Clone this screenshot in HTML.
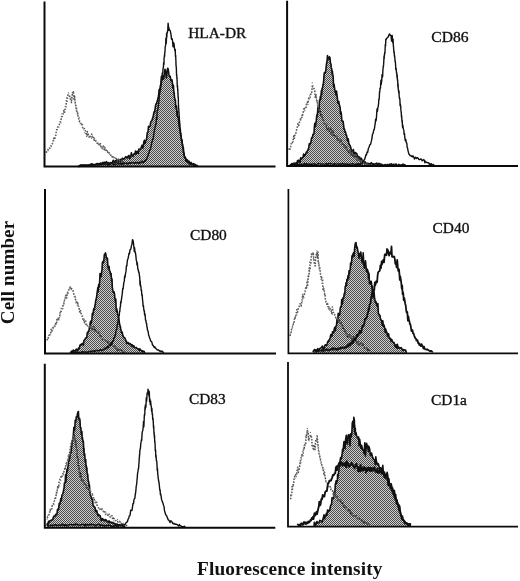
<!DOCTYPE html>
<html><head><meta charset="utf-8"><title>Figure</title>
<style>html,body{margin:0;padding:0;background:#fff}svg{display:block}</style></head>
<body>
<svg width="520" height="581" viewBox="0 0 520 581">
<defs><pattern id="ht" width="2" height="2" patternUnits="userSpaceOnUse"><rect width="2" height="2" fill="#cfcfcf"/><rect width="1" height="1" fill="#4a4a4a"/><rect x="1" y="1" width="1" height="1" fill="#4a4a4a"/></pattern></defs>
<rect width="520" height="581" fill="#fff"/>
<g>
<clipPath id="c4"><path d="M78.0 166.0 L78.3 166.3 L78.7 166.5 L79.1 166.5 L79.6 165.6 L80.1 166.1 L80.7 165.0 L81.3 165.2 L81.9 164.8 L82.6 166.0 L83.2 164.9 L83.9 165.4 L84.6 165.2 L85.3 165.2 L86.0 164.9 L86.7 165.2 L87.3 165.9 L88.0 165.0 L88.6 165.2 L89.1 165.4 L89.7 164.8 L90.3 164.2 L90.9 164.5 L91.5 165.3 L92.1 163.8 L92.7 164.3 L93.3 165.1 L93.9 165.0 L94.5 164.5 L95.1 164.9 L95.7 164.5 L96.3 163.7 L97.0 163.5 L97.6 163.9 L98.2 164.7 L98.8 163.8 L99.4 163.6 L100.0 163.6 L100.6 163.0 L101.2 163.8 L101.8 163.1 L102.4 163.9 L103.0 162.2 L103.6 163.7 L104.2 163.1 L104.8 162.2 L105.3 163.7 L105.9 163.0 L106.5 161.7 L107.1 162.4 L107.7 163.1 L108.3 162.5 L108.9 163.2 L109.5 163.1 L110.1 162.9 L110.8 162.5 L111.4 163.1 L112.0 162.5 L112.6 162.2 L113.2 160.2 L113.8 162.2 L114.4 162.4 L115.0 161.0 L115.6 160.7 L116.2 162.4 L116.8 159.3 L117.4 160.9 L118.1 162.3 L118.7 159.4 L119.3 160.5 L119.9 161.3 L120.5 159.4 L121.1 159.8 L121.7 159.9 L122.3 158.2 L122.9 158.7 L123.4 158.8 L124.0 159.1 L124.5 158.2 L125.0 157.8 L125.7 156.8 L126.4 157.1 L127.1 158.0 L127.8 157.0 L128.4 155.8 L129.1 155.6 L129.7 158.8 L130.3 157.0 L130.8 156.2 L131.4 152.7 L132.0 155.7 L132.5 155.3 L133.0 156.3 L133.5 154.7 L134.0 153.9 L134.8 154.2 L135.5 151.1 L136.1 154.0 L136.7 152.9 L137.2 151.3 L137.8 153.2 L138.3 153.3 L138.9 149.0 L139.5 149.2 L140.1 149.6 L140.8 148.6 L141.4 146.9 L142.1 145.2 L142.7 148.2 L143.3 145.8 L143.9 141.6 L144.5 140.2 L145.0 143.5 L145.7 140.8 L146.3 140.4 L146.8 137.1 L147.3 132.6 L147.9 132.5 L148.5 126.3 L149.0 127.1 L149.6 126.7 L150.1 126.0 L150.7 122.0 L151.3 121.3 L151.9 120.6 L152.4 118.6 L153.0 117.3 L153.5 114.7 L154.0 111.8 L154.6 112.3 L155.1 108.9 L155.6 105.2 L156.1 103.8 L156.6 103.3 L157.1 101.4 L157.5 100.4 L158.0 98.0 L158.4 96.5 L158.8 94.0 L159.1 89.6 L159.4 91.9 L159.7 91.9 L160.0 89.0 L160.4 85.3 L160.8 85.0 L161.1 79.9 L161.5 76.2 L162.2 79.3 L163.0 75.6 L163.6 79.2 L164.3 73.9 L165.0 69.2 L165.7 72.3 L166.4 78.0 L167.0 72.0 L167.7 68.2 L168.3 69.5 L168.9 74.4 L169.5 76.3 L170.2 76.4 L171.0 80.8 L171.5 80.1 L172.0 79.8 L172.5 83.5 L172.7 87.4 L172.9 87.1 L173.2 88.7 L173.4 85.3 L173.7 89.5 L174.0 93.7 L174.2 92.8 L174.5 97.5 L174.8 98.1 L175.1 100.6 L175.4 99.9 L175.7 107.9 L176.1 106.9 L176.4 105.7 L176.7 108.3 L177.0 115.4 L177.3 111.0 L177.5 115.3 L177.8 117.3 L178.1 117.2 L178.4 116.8 L178.6 121.3 L178.9 123.5 L179.2 126.7 L179.5 127.8 L179.7 128.3 L180.0 131.5 L180.3 132.8 L180.6 134.2 L180.9 135.9 L181.2 137.4 L181.6 140.6 L181.9 140.0 L182.2 142.4 L182.5 145.0 L182.7 144.6 L183.0 147.4 L183.4 147.8 L183.6 151.3 L183.9 154.4 L184.1 155.9 L184.5 156.7 L185.0 157.8 L185.5 157.6 L186.0 161.2 L186.6 160.8 L187.2 161.8 L187.9 160.9 L188.6 161.9 L189.3 161.3 L190.0 163.5 L190.6 163.9 L191.2 162.6 L191.9 164.0 L192.6 164.6 L193.3 163.6 L194.0 163.9 L194.6 164.5 L195.2 164.9 L195.6 164.7 L196.0 165.5 L196.0 166.5 L78.0 166.5 Z"/></clipPath>
<path d="M46.0 151.7 L46.5 152.1 L47.2 150.6 L48.0 149.7 L48.6 148.1 L49.2 147.9 L49.9 148.3 L50.5 146.5 L51.1 146.4 L51.6 144.8 L52.2 144.0 L53.0 142.2 L53.6 138.3 L54.3 139.7 L55.0 137.2 L55.8 135.0 L56.6 129.7 L57.3 127.5 L58.0 126.7 L58.8 125.3 L59.5 124.4 L60.2 121.9 L60.9 120.8 L61.6 116.9 L62.4 116.3 L63.1 114.3 L63.9 110.4 L64.6 112.3 L65.3 108.0 L65.9 106.9 L66.4 100.9 L67.0 97.9 L67.5 96.2 L68.0 94.8 L68.5 95.2 L69.2 95.4 L69.8 96.9 L70.4 98.9 L71.0 101.0 L71.5 102.6 L72.0 95.5 L72.4 94.4 L73.0 93.8 L73.4 91.0 L73.8 95.5 L74.2 100.0 L74.6 96.2 L75.1 101.9 L75.5 104.8 L75.9 105.7 L76.3 109.9 L76.9 111.5 L77.4 111.2 L78.0 116.9 L78.6 118.5 L79.2 120.6 L79.8 123.0 L80.5 122.8 L81.2 124.1 L82.0 123.5 L82.6 127.6 L83.2 127.0 L83.9 128.5 L84.5 128.5 L85.2 130.2 L86.0 131.9 L86.7 135.4 L87.4 131.5 L88.1 133.0 L88.8 135.9 L89.6 138.0 L90.3 137.3 L91.0 134.5 L91.7 134.1 L92.4 138.5 L93.1 137.6 L93.8 137.7 L94.4 141.0 L95.1 141.7 L95.7 141.0 L96.3 141.7 L97.0 142.5 L97.7 144.6 L98.4 144.1 L99.1 144.7 L99.8 145.5 L100.5 143.7 L101.2 147.8 L102.0 148.1 L102.6 148.1 L103.2 145.9 L103.9 147.9 L104.5 150.0 L105.1 147.7 L105.8 150.0 L106.5 151.8 L107.2 150.0 L108.0 153.7 L108.7 153.1 L109.3 153.0 L110.0 154.2 L110.8 155.2 L111.5 155.3 L112.3 157.0 L113.0 156.0 L113.8 156.9 L114.5 158.8 L115.3 158.5 L116.0 158.3 L116.8 160.3 L117.6 161.1 L118.4 160.1 L119.2 159.8 L120.1 161.1 L120.9 161.5 L121.7 161.8 L122.4 163.3 L123.0 161.9 L123.6 163.6 L124.0 162.2" clip-path="url(#c4)" fill="none" stroke="#111" stroke-width="1.5" stroke-dasharray="2 1.3" stroke-linejoin="round"/>
<path d="M78.0 166.0 L78.3 166.3 L78.7 166.5 L79.1 166.5 L79.6 165.6 L80.1 166.1 L80.7 165.0 L81.3 165.2 L81.9 164.8 L82.6 166.0 L83.2 164.9 L83.9 165.4 L84.6 165.2 L85.3 165.2 L86.0 164.9 L86.7 165.2 L87.3 165.9 L88.0 165.0 L88.6 165.2 L89.1 165.4 L89.7 164.8 L90.3 164.2 L90.9 164.5 L91.5 165.3 L92.1 163.8 L92.7 164.3 L93.3 165.1 L93.9 165.0 L94.5 164.5 L95.1 164.9 L95.7 164.5 L96.3 163.7 L97.0 163.5 L97.6 163.9 L98.2 164.7 L98.8 163.8 L99.4 163.6 L100.0 163.6 L100.6 163.0 L101.2 163.8 L101.8 163.1 L102.4 163.9 L103.0 162.2 L103.6 163.7 L104.2 163.1 L104.8 162.2 L105.3 163.7 L105.9 163.0 L106.5 161.7 L107.1 162.4 L107.7 163.1 L108.3 162.5 L108.9 163.2 L109.5 163.1 L110.1 162.9 L110.8 162.5 L111.4 163.1 L112.0 162.5 L112.6 162.2 L113.2 160.2 L113.8 162.2 L114.4 162.4 L115.0 161.0 L115.6 160.7 L116.2 162.4 L116.8 159.3 L117.4 160.9 L118.1 162.3 L118.7 159.4 L119.3 160.5 L119.9 161.3 L120.5 159.4 L121.1 159.8 L121.7 159.9 L122.3 158.2 L122.9 158.7 L123.4 158.8 L124.0 159.1 L124.5 158.2 L125.0 157.8 L125.7 156.8 L126.4 157.1 L127.1 158.0 L127.8 157.0 L128.4 155.8 L129.1 155.6 L129.7 158.8 L130.3 157.0 L130.8 156.2 L131.4 152.7 L132.0 155.7 L132.5 155.3 L133.0 156.3 L133.5 154.7 L134.0 153.9 L134.8 154.2 L135.5 151.1 L136.1 154.0 L136.7 152.9 L137.2 151.3 L137.8 153.2 L138.3 153.3 L138.9 149.0 L139.5 149.2 L140.1 149.6 L140.8 148.6 L141.4 146.9 L142.1 145.2 L142.7 148.2 L143.3 145.8 L143.9 141.6 L144.5 140.2 L145.0 143.5 L145.7 140.8 L146.3 140.4 L146.8 137.1 L147.3 132.6 L147.9 132.5 L148.5 126.3 L149.0 127.1 L149.6 126.7 L150.1 126.0 L150.7 122.0 L151.3 121.3 L151.9 120.6 L152.4 118.6 L153.0 117.3 L153.5 114.7 L154.0 111.8 L154.6 112.3 L155.1 108.9 L155.6 105.2 L156.1 103.8 L156.6 103.3 L157.1 101.4 L157.5 100.4 L158.0 98.0 L158.4 96.5 L158.8 94.0 L159.1 89.6 L159.4 91.9 L159.7 91.9 L160.0 89.0 L160.4 85.3 L160.8 85.0 L161.1 79.9 L161.5 76.2 L162.2 79.3 L163.0 75.6 L163.6 79.2 L164.3 73.9 L165.0 69.2 L165.7 72.3 L166.4 78.0 L167.0 72.0 L167.7 68.2 L168.3 69.5 L168.9 74.4 L169.5 76.3 L170.2 76.4 L171.0 80.8 L171.5 80.1 L172.0 79.8 L172.5 83.5 L172.7 87.4 L172.9 87.1 L173.2 88.7 L173.4 85.3 L173.7 89.5 L174.0 93.7 L174.2 92.8 L174.5 97.5 L174.8 98.1 L175.1 100.6 L175.4 99.9 L175.7 107.9 L176.1 106.9 L176.4 105.7 L176.7 108.3 L177.0 115.4 L177.3 111.0 L177.5 115.3 L177.8 117.3 L178.1 117.2 L178.4 116.8 L178.6 121.3 L178.9 123.5 L179.2 126.7 L179.5 127.8 L179.7 128.3 L180.0 131.5 L180.3 132.8 L180.6 134.2 L180.9 135.9 L181.2 137.4 L181.6 140.6 L181.9 140.0 L182.2 142.4 L182.5 145.0 L182.7 144.6 L183.0 147.4 L183.4 147.8 L183.6 151.3 L183.9 154.4 L184.1 155.9 L184.5 156.7 L185.0 157.8 L185.5 157.6 L186.0 161.2 L186.6 160.8 L187.2 161.8 L187.9 160.9 L188.6 161.9 L189.3 161.3 L190.0 163.5 L190.6 163.9 L191.2 162.6 L191.9 164.0 L192.6 164.6 L193.3 163.6 L194.0 163.9 L194.6 164.5 L195.2 164.9 L195.6 164.7 L196.0 165.5 L196.0 166.5 L78.0 166.5 Z" fill="url(#ht)" stroke="none"/>
<path d="M78.0 166.0 L78.3 166.3 L78.7 166.5 L79.1 166.5 L79.6 165.6 L80.1 166.1 L80.7 165.0 L81.3 165.2 L81.9 164.8 L82.6 166.0 L83.2 164.9 L83.9 165.4 L84.6 165.2 L85.3 165.2 L86.0 164.9 L86.7 165.2 L87.3 165.9 L88.0 165.0 L88.6 165.2 L89.1 165.4 L89.7 164.8 L90.3 164.2 L90.9 164.5 L91.5 165.3 L92.1 163.8 L92.7 164.3 L93.3 165.1 L93.9 165.0 L94.5 164.5 L95.1 164.9 L95.7 164.5 L96.3 163.7 L97.0 163.5 L97.6 163.9 L98.2 164.7 L98.8 163.8 L99.4 163.6 L100.0 163.6 L100.6 163.0 L101.2 163.8 L101.8 163.1 L102.4 163.9 L103.0 162.2 L103.6 163.7 L104.2 163.1 L104.8 162.2 L105.3 163.7 L105.9 163.0 L106.5 161.7 L107.1 162.4 L107.7 163.1 L108.3 162.5 L108.9 163.2 L109.5 163.1 L110.1 162.9 L110.8 162.5 L111.4 163.1 L112.0 162.5 L112.6 162.2 L113.2 160.2 L113.8 162.2 L114.4 162.4 L115.0 161.0 L115.6 160.7 L116.2 162.4 L116.8 159.3 L117.4 160.9 L118.1 162.3 L118.7 159.4 L119.3 160.5 L119.9 161.3 L120.5 159.4 L121.1 159.8 L121.7 159.9 L122.3 158.2 L122.9 158.7 L123.4 158.8 L124.0 159.1 L124.5 158.2 L125.0 157.8 L125.7 156.8 L126.4 157.1 L127.1 158.0 L127.8 157.0 L128.4 155.8 L129.1 155.6 L129.7 158.8 L130.3 157.0 L130.8 156.2 L131.4 152.7 L132.0 155.7 L132.5 155.3 L133.0 156.3 L133.5 154.7 L134.0 153.9 L134.8 154.2 L135.5 151.1 L136.1 154.0 L136.7 152.9 L137.2 151.3 L137.8 153.2 L138.3 153.3 L138.9 149.0 L139.5 149.2 L140.1 149.6 L140.8 148.6 L141.4 146.9 L142.1 145.2 L142.7 148.2 L143.3 145.8 L143.9 141.6 L144.5 140.2 L145.0 143.5 L145.7 140.8 L146.3 140.4 L146.8 137.1 L147.3 132.6 L147.9 132.5 L148.5 126.3 L149.0 127.1 L149.6 126.7 L150.1 126.0 L150.7 122.0 L151.3 121.3 L151.9 120.6 L152.4 118.6 L153.0 117.3 L153.5 114.7 L154.0 111.8 L154.6 112.3 L155.1 108.9 L155.6 105.2 L156.1 103.8 L156.6 103.3 L157.1 101.4 L157.5 100.4 L158.0 98.0 L158.4 96.5 L158.8 94.0 L159.1 89.6 L159.4 91.9 L159.7 91.9 L160.0 89.0 L160.4 85.3 L160.8 85.0 L161.1 79.9 L161.5 76.2 L162.2 79.3 L163.0 75.6 L163.6 79.2 L164.3 73.9 L165.0 69.2 L165.7 72.3 L166.4 78.0 L167.0 72.0 L167.7 68.2 L168.3 69.5 L168.9 74.4 L169.5 76.3 L170.2 76.4 L171.0 80.8 L171.5 80.1 L172.0 79.8 L172.5 83.5 L172.7 87.4 L172.9 87.1 L173.2 88.7 L173.4 85.3 L173.7 89.5 L174.0 93.7 L174.2 92.8 L174.5 97.5 L174.8 98.1 L175.1 100.6 L175.4 99.9 L175.7 107.9 L176.1 106.9 L176.4 105.7 L176.7 108.3 L177.0 115.4 L177.3 111.0 L177.5 115.3 L177.8 117.3 L178.1 117.2 L178.4 116.8 L178.6 121.3 L178.9 123.5 L179.2 126.7 L179.5 127.8 L179.7 128.3 L180.0 131.5 L180.3 132.8 L180.6 134.2 L180.9 135.9 L181.2 137.4 L181.6 140.6 L181.9 140.0 L182.2 142.4 L182.5 145.0 L182.7 144.6 L183.0 147.4 L183.4 147.8 L183.6 151.3 L183.9 154.4 L184.1 155.9 L184.5 156.7 L185.0 157.8 L185.5 157.6 L186.0 161.2 L186.6 160.8 L187.2 161.8 L187.9 160.9 L188.6 161.9 L189.3 161.3 L190.0 163.5 L190.6 163.9 L191.2 162.6 L191.9 164.0 L192.6 164.6 L193.3 163.6 L194.0 163.9 L194.6 164.5 L195.2 164.9 L195.6 164.7 L196.0 165.5" fill="none" stroke="#111" stroke-width="1.6" stroke-linejoin="round"/>
<clipPath id="c8"><path d="M78.0 166.0 L78.3 166.3 L78.7 166.5 L79.1 166.5 L79.6 165.6 L80.1 166.1 L80.7 165.0 L81.3 165.2 L81.9 164.8 L82.6 166.0 L83.2 164.9 L83.9 165.4 L84.6 165.2 L85.3 165.2 L86.0 164.9 L86.7 165.2 L87.3 165.9 L88.0 165.0 L88.6 165.2 L89.1 165.4 L89.7 164.8 L90.3 164.2 L90.9 164.5 L91.5 165.3 L92.1 163.8 L92.7 164.3 L93.3 165.1 L93.9 165.0 L94.5 164.5 L95.1 164.9 L95.7 164.5 L96.3 163.7 L97.0 163.5 L97.6 163.9 L98.2 164.7 L98.8 163.8 L99.4 163.6 L100.0 163.6 L100.6 163.0 L101.2 163.8 L101.8 163.1 L102.4 163.9 L103.0 162.2 L103.6 163.7 L104.2 163.1 L104.8 162.2 L105.3 163.7 L105.9 163.0 L106.5 161.7 L107.1 162.4 L107.7 163.1 L108.3 162.5 L108.9 163.2 L109.5 163.1 L110.1 162.9 L110.8 162.5 L111.4 163.1 L112.0 162.5 L112.6 162.2 L113.2 160.2 L113.8 162.2 L114.4 162.4 L115.0 161.0 L115.6 160.7 L116.2 162.4 L116.8 159.3 L117.4 160.9 L118.1 162.3 L118.7 159.4 L119.3 160.5 L119.9 161.3 L120.5 159.4 L121.1 159.8 L121.7 159.9 L122.3 158.2 L122.9 158.7 L123.4 158.8 L124.0 159.1 L124.5 158.2 L125.0 157.8 L125.7 156.8 L126.4 157.1 L127.1 158.0 L127.8 157.0 L128.4 155.8 L129.1 155.6 L129.7 158.8 L130.3 157.0 L130.8 156.2 L131.4 152.7 L132.0 155.7 L132.5 155.3 L133.0 156.3 L133.5 154.7 L134.0 153.9 L134.8 154.2 L135.5 151.1 L136.1 154.0 L136.7 152.9 L137.2 151.3 L137.8 153.2 L138.3 153.3 L138.9 149.0 L139.5 149.2 L140.1 149.6 L140.8 148.6 L141.4 146.9 L142.1 145.2 L142.7 148.2 L143.3 145.8 L143.9 141.6 L144.5 140.2 L145.0 143.5 L145.7 140.8 L146.3 140.4 L146.8 137.1 L147.3 132.6 L147.9 132.5 L148.5 126.3 L149.0 127.1 L149.6 126.7 L150.1 126.0 L150.7 122.0 L151.3 121.3 L151.9 120.6 L152.4 118.6 L153.0 117.3 L153.5 114.7 L154.0 111.8 L154.6 112.3 L155.1 108.9 L155.6 105.2 L156.1 103.8 L156.6 103.3 L157.1 101.4 L157.5 100.4 L158.0 98.0 L158.4 96.5 L158.8 94.0 L159.1 89.6 L159.4 91.9 L159.7 91.9 L160.0 89.0 L160.4 85.3 L160.8 85.0 L161.1 79.9 L161.5 76.2 L162.2 79.3 L163.0 75.6 L163.6 79.2 L164.3 73.9 L165.0 69.2 L165.7 72.3 L166.4 78.0 L167.0 72.0 L167.7 68.2 L168.3 69.5 L168.9 74.4 L169.5 76.3 L170.2 76.4 L171.0 80.8 L171.5 80.1 L172.0 79.8 L172.5 83.5 L172.7 87.4 L172.9 87.1 L173.2 88.7 L173.4 85.3 L173.7 89.5 L174.0 93.7 L174.2 92.8 L174.5 97.5 L174.8 98.1 L175.1 100.6 L175.4 99.9 L175.7 107.9 L176.1 106.9 L176.4 105.7 L176.7 108.3 L177.0 115.4 L177.3 111.0 L177.5 115.3 L177.8 117.3 L178.1 117.2 L178.4 116.8 L178.6 121.3 L178.9 123.5 L179.2 126.7 L179.5 127.8 L179.7 128.3 L180.0 131.5 L180.3 132.8 L180.6 134.2 L180.9 135.9 L181.2 137.4 L181.6 140.6 L181.9 140.0 L182.2 142.4 L182.5 145.0 L182.7 144.6 L183.0 147.4 L183.4 147.8 L183.6 151.3 L183.9 154.4 L184.1 155.9 L184.5 156.7 L185.0 157.8 L185.5 157.6 L186.0 161.2 L186.6 160.8 L187.2 161.8 L187.9 160.9 L188.6 161.9 L189.3 161.3 L190.0 163.5 L190.6 163.9 L191.2 162.6 L191.9 164.0 L192.6 164.6 L193.3 163.6 L194.0 163.9 L194.6 164.5 L195.2 164.9 L195.6 164.7 L196.0 165.5 L196.0 166.5 L78.0 166.5 Z"/></clipPath>
<path d="M46.0 151.7 L46.5 152.1 L47.2 150.6 L48.0 149.7 L48.6 148.1 L49.2 147.9 L49.9 148.3 L50.5 146.5 L51.1 146.4 L51.6 144.8 L52.2 144.0 L53.0 142.2 L53.6 138.3 L54.3 139.7 L55.0 137.2 L55.8 135.0 L56.6 129.7 L57.3 127.5 L58.0 126.7 L58.8 125.3 L59.5 124.4 L60.2 121.9 L60.9 120.8 L61.6 116.9 L62.4 116.3 L63.1 114.3 L63.9 110.4 L64.6 112.3 L65.3 108.0 L65.9 106.9 L66.4 100.9 L67.0 97.9 L67.5 96.2 L68.0 94.8 L68.5 95.2 L69.2 95.4 L69.8 96.9 L70.4 98.9 L71.0 101.0 L71.5 102.6 L72.0 95.5 L72.4 94.4 L73.0 93.8 L73.4 91.0 L73.8 95.5 L74.2 100.0 L74.6 96.2 L75.1 101.9 L75.5 104.8 L75.9 105.7 L76.3 109.9 L76.9 111.5 L77.4 111.2 L78.0 116.9 L78.6 118.5 L79.2 120.6 L79.8 123.0 L80.5 122.8 L81.2 124.1 L82.0 123.5 L82.6 127.6 L83.2 127.0 L83.9 128.5 L84.5 128.5 L85.2 130.2 L86.0 131.9 L86.7 135.4 L87.4 131.5 L88.1 133.0 L88.8 135.9 L89.6 138.0 L90.3 137.3 L91.0 134.5 L91.7 134.1 L92.4 138.5 L93.1 137.6 L93.8 137.7 L94.4 141.0 L95.1 141.7 L95.7 141.0 L96.3 141.7 L97.0 142.5 L97.7 144.6 L98.4 144.1 L99.1 144.7 L99.8 145.5 L100.5 143.7 L101.2 147.8 L102.0 148.1 L102.6 148.1 L103.2 145.9 L103.9 147.9 L104.5 150.0 L105.1 147.7 L105.8 150.0 L106.5 151.8 L107.2 150.0 L108.0 153.7 L108.7 153.1 L109.3 153.0 L110.0 154.2 L110.8 155.2 L111.5 155.3 L112.3 157.0 L113.0 156.0 L113.8 156.9 L114.5 158.8 L115.3 158.5 L116.0 158.3 L116.8 160.3 L117.6 161.1 L118.4 160.1 L119.2 159.8 L120.1 161.1 L120.9 161.5 L121.7 161.8 L122.4 163.3 L123.0 161.9 L123.6 163.6 L124.0 162.2" clip-path="url(#c8)" fill="none" stroke="#111" stroke-width="1.5" stroke-dasharray="2 1.3" stroke-linejoin="round"/>
<path d="M46.0 151.7 L46.5 152.1 L47.2 150.6 L48.0 149.7 L48.6 148.1 L49.2 147.9 L49.9 148.3 L50.5 146.5 L51.1 146.4 L51.6 144.8 L52.2 144.0 L53.0 142.2 L53.6 138.3 L54.3 139.7 L55.0 137.2 L55.8 135.0 L56.6 129.7 L57.3 127.5 L58.0 126.7 L58.8 125.3 L59.5 124.4 L60.2 121.9 L60.9 120.8 L61.6 116.9 L62.4 116.3 L63.1 114.3 L63.9 110.4 L64.6 112.3 L65.3 108.0 L65.9 106.9 L66.4 100.9 L67.0 97.9 L67.5 96.2 L68.0 94.8 L68.5 95.2 L69.2 95.4 L69.8 96.9 L70.4 98.9 L71.0 101.0 L71.5 102.6 L72.0 95.5 L72.4 94.4 L73.0 93.8 L73.4 91.0 L73.8 95.5 L74.2 100.0 L74.6 96.2 L75.1 101.9 L75.5 104.8 L75.9 105.7 L76.3 109.9 L76.9 111.5 L77.4 111.2 L78.0 116.9 L78.6 118.5 L79.2 120.6 L79.8 123.0 L80.5 122.8 L81.2 124.1 L82.0 123.5 L82.6 127.6 L83.2 127.0 L83.9 128.5 L84.5 128.5 L85.2 130.2 L86.0 131.9 L86.7 135.4 L87.4 131.5 L88.1 133.0 L88.8 135.9 L89.6 138.0 L90.3 137.3 L91.0 134.5 L91.7 134.1 L92.4 138.5 L93.1 137.6 L93.8 137.7 L94.4 141.0 L95.1 141.7 L95.7 141.0 L96.3 141.7 L97.0 142.5 L97.7 144.6 L98.4 144.1 L99.1 144.7 L99.8 145.5 L100.5 143.7 L101.2 147.8 L102.0 148.1 L102.6 148.1 L103.2 145.9 L103.9 147.9 L104.5 150.0 L105.1 147.7 L105.8 150.0 L106.5 151.8 L107.2 150.0 L108.0 153.7 L108.7 153.1 L109.3 153.0 L110.0 154.2 L110.8 155.2 L111.5 155.3 L112.3 157.0 L113.0 156.0 L113.8 156.9 L114.5 158.8 L115.3 158.5 L116.0 158.3 L116.8 160.3 L117.6 161.1 L118.4 160.1 L119.2 159.8 L120.1 161.1 L120.9 161.5 L121.7 161.8 L122.4 163.3 L123.0 161.9 L123.6 163.6 L124.0 162.2" fill="none" stroke="#505050" stroke-width="1.5" stroke-dasharray="1.4 1.5" stroke-linejoin="round"/>
<path d="M46.0 151.2 L46.5 152.2 L47.2 152.1 L48.0 150.9 L48.6 149.5 L49.2 148.3 L49.9 147.2 L50.5 146.7 L51.1 145.0 L51.6 144.8 L52.2 144.3 L53.0 142.0 L53.6 141.4 L54.3 139.3 L55.0 139.2 L55.8 134.7 L56.6 131.5 L57.3 129.5 L58.0 128.0 L58.8 127.4 L59.5 123.4 L60.2 122.5 L60.9 122.9 L61.6 113.8 L62.4 113.9 L63.1 114.0 L63.9 112.2 L64.6 109.7 L65.3 106.2 L65.9 105.9 L66.4 102.6 L67.0 98.3 L67.5 101.5 L68.0 95.7 L68.5 92.9 L69.2 94.7 L69.8 97.3 L70.4 100.6 L71.0 97.0 L71.5 99.5 L72.0 98.9 L72.4 91.6 L73.0 92.9 L73.4 95.7 L73.8 97.1 L74.2 100.3 L74.6 96.7 L75.1 101.8 L75.5 104.3 L75.9 108.3 L76.3 110.9 L76.9 107.0 L77.4 115.5 L78.0 113.1 L78.6 118.5 L79.2 116.6 L79.8 120.9 L80.5 124.2 L81.2 123.7 L82.0 125.8 L82.6 127.9 L83.2 128.1 L83.9 129.0 L84.5 132.6 L85.2 133.1 L86.0 132.2 L86.7 137.4 L87.4 132.7 L88.1 136.2 L88.8 135.2 L89.6 136.2 L90.3 137.5 L91.0 137.3 L91.7 138.3 L92.4 136.0 L93.1 136.6 L93.8 139.9 L94.4 138.4 L95.1 138.9 L95.7 138.9 L96.3 143.0 L97.0 142.9 L97.7 144.5 L98.4 142.2 L99.1 144.1 L99.8 143.4 L100.5 146.4 L101.2 148.1 L102.0 146.0 L102.6 149.3 L103.2 149.2 L103.9 148.4 L104.5 146.9 L105.1 151.2 L105.8 150.1 L106.5 150.1 L107.2 151.8 L108.0 152.4 L108.7 154.1 L109.3 152.2 L110.0 155.0 L110.8 156.0 L111.5 156.6 L112.3 155.7 L113.0 155.9 L113.8 158.2 L114.5 158.0 L115.3 158.6 L116.0 160.2 L116.8 159.3 L117.6 158.1 L118.4 160.1 L119.2 159.4 L120.1 161.9 L120.9 161.9 L121.7 161.5 L122.4 162.3 L123.0 163.1 L123.6 162.9 L124.0 163.9" fill="none" stroke="#707070" stroke-width="1.2" stroke-dasharray="1 2" stroke-linejoin="round"/>
<path d="M78.0 166.1 L78.3 166.2 L78.6 166.2 L79.0 166.4 L79.4 166.2 L79.8 165.5 L80.3 165.7 L80.8 165.5 L81.3 165.4 L81.9 165.7 L82.5 165.7 L83.2 165.8 L83.9 165.1 L84.6 165.1 L85.4 165.5 L86.2 165.3 L87.1 165.3 L88.0 165.3 L88.4 165.0 L88.9 165.5 L89.4 165.3 L89.9 165.2 L90.4 164.9 L90.9 165.1 L91.4 164.1 L92.0 164.7 L92.6 165.0 L93.1 164.4 L93.7 165.0 L94.3 165.0 L94.9 164.4 L95.5 164.7 L96.2 164.7 L96.8 164.9 L97.4 165.0 L98.1 164.7 L98.7 164.3 L99.3 164.6 L100.0 164.5 L100.6 164.8 L101.3 164.6 L101.9 164.2 L102.6 163.9 L103.2 164.2 L103.9 164.0 L104.5 163.8 L105.2 164.2 L105.8 164.0 L106.4 164.2 L107.0 164.4 L107.6 164.0 L108.2 165.1 L108.8 163.9 L109.4 164.5 L110.0 164.1 L110.6 164.5 L111.3 162.9 L111.9 163.6 L112.6 164.0 L113.2 164.1 L113.9 164.8 L114.5 163.9 L115.2 164.3 L115.8 164.1 L116.5 164.1 L117.1 163.9 L117.8 163.5 L118.4 163.8 L119.0 163.1 L119.7 164.1 L120.3 163.0 L120.9 163.6 L121.6 164.4 L122.2 163.3 L122.8 163.4 L123.4 163.9 L124.0 163.3 L124.6 162.9 L125.2 163.4 L125.8 163.5 L126.3 163.5 L126.9 162.8 L127.4 164.0 L128.0 163.9 L128.5 163.1 L129.0 163.2 L129.5 162.8 L130.0 163.7 L130.8 162.6 L131.6 163.2 L132.3 162.6 L133.0 162.5 L133.8 163.1 L134.4 163.4 L135.1 162.7 L135.8 162.3 L136.4 163.0 L137.0 162.5 L137.6 162.7 L138.2 163.3 L138.7 163.0 L139.2 162.1 L139.8 163.5 L140.2 162.3 L140.7 162.6 L141.2 161.8 L141.6 162.0 L142.0 161.1 L143.0 162.8 L143.7 162.5 L144.3 161.0 L144.7 160.6 L145.1 160.3 L145.5 161.4 L146.0 159.7 L146.6 159.0 L147.2 157.6 L147.8 156.3 L148.4 154.0 L148.9 153.3 L149.5 150.4 L150.0 149.9 L150.5 148.7 L151.0 147.1 L151.4 144.7 L151.8 142.2 L152.2 141.5 L152.6 139.1 L153.0 139.7 L153.4 137.2 L153.7 134.8 L154.0 132.9 L154.3 131.2 L154.6 129.1 L155.0 127.6 L155.2 126.9 L155.5 125.6 L155.8 123.9 L156.1 124.1 L156.4 118.4 L156.6 117.4 L156.9 119.4 L157.2 110.7 L157.5 110.8 L157.8 110.0 L158.0 108.2 L158.3 106.7 L158.5 103.9 L158.7 103.2 L158.9 101.0 L159.1 100.6 L159.3 94.5 L159.5 94.4 L159.7 94.0 L160.0 90.2 L160.2 88.6 L160.5 89.7 L160.7 85.7 L161.0 86.2 L161.2 84.5 L161.5 81.8 L161.8 80.3 L162.0 77.2 L162.3 72.9 L162.5 73.6 L162.8 72.6 L163.0 69.0 L163.2 67.9 L163.4 67.7 L163.6 62.6 L163.8 63.7 L164.0 64.3 L164.1 57.6 L164.3 57.2 L164.5 54.8 L164.6 56.5 L164.8 52.3 L165.0 51.9 L165.2 46.5 L165.5 46.0 L165.7 44.1 L165.9 38.3 L166.2 43.5 L166.4 40.6 L166.6 33.1 L166.8 37.1 L167.0 33.7 L167.4 32.1 L167.8 29.4 L168.1 23.3 L168.4 25.5 L168.7 30.2 L168.9 27.6 L169.2 29.0 L169.5 30.0 L170.2 30.7 L171.0 34.7 L171.5 39.2 L172.0 38.5 L172.5 40.4 L173.0 46.8 L173.5 42.6 L174.0 43.8 L174.5 48.3 L175.0 51.1 L175.1 49.2 L175.3 50.4 L175.4 55.1 L175.5 56.7 L175.7 55.4 L175.8 59.5 L175.9 60.8 L176.0 64.8 L176.1 65.7 L176.3 67.8 L176.4 69.3 L176.5 73.7 L176.6 76.0 L176.7 74.4 L176.9 78.5 L177.0 77.4 L177.1 80.8 L177.2 83.9 L177.3 87.1 L177.5 85.6 L177.6 88.0 L177.7 90.3 L177.8 89.1 L177.9 93.4 L178.0 93.9 L178.1 97.6 L178.2 96.9 L178.3 97.4 L178.4 102.3 L178.4 104.3 L178.5 104.7 L178.6 108.6 L178.7 108.4 L178.8 109.6 L178.9 112.9 L179.0 111.7 L179.1 114.7 L179.3 117.4 L179.4 120.4 L179.6 120.7 L179.7 123.2 L179.9 123.7 L180.0 126.8 L180.2 130.3 L180.4 129.1 L180.6 134.5 L180.8 132.6 L181.0 135.0 L181.3 137.2 L181.5 140.1 L181.8 139.6 L182.1 140.7 L182.4 145.4 L182.8 147.4 L183.1 149.0 L183.4 152.4 L183.7 151.8 L184.0 153.2 L184.6 156.0 L185.1 157.4 L185.7 159.7 L186.3 159.1 L187.0 160.8 L187.5 159.8 L188.1 162.7 L188.7 162.6 L189.3 163.6 L190.0 164.6 L190.6 163.9 L191.3 164.1 L192.0 164.3 L192.6 164.4 L193.2 164.6 L193.9 165.3 L194.6 165.1 L195.3 165.2 L196.0 165.2 L196.6 165.7 L197.2 165.6 L197.6 165.4 L198.0 165.7" fill="none" stroke="#111" stroke-width="1.4" stroke-linejoin="round"/>
<path d="M44.5 1.5 V166.5 H275.5" fill="none" stroke="#0a0a0a" stroke-width="2.0"/>
<text x="188.2" y="38.2" font-family="'Liberation Serif', serif" font-size="15.4" fill="#111" stroke="#111" stroke-width="0.35">HLA-DR</text>
</g>
<g>
<clipPath id="c17"><path d="M290.0 165.0 L290.4 164.8 L290.8 164.6 L291.4 164.5 L292.0 163.5 L292.6 164.0 L293.3 163.9 L294.0 163.1 L294.8 163.4 L295.5 163.5 L296.2 162.8 L296.9 163.9 L297.5 160.6 L298.0 161.9 L298.8 160.2 L299.5 161.7 L300.1 162.4 L300.7 157.7 L301.3 159.2 L301.8 158.9 L302.4 157.5 L303.0 157.5 L303.6 154.1 L304.3 156.3 L305.0 155.0 L305.6 153.8 L306.3 152.2 L306.9 152.7 L307.5 150.4 L308.0 150.3 L308.7 147.7 L309.3 143.7 L309.9 144.8 L310.4 143.2 L311.0 142.1 L311.5 138.0 L312.0 137.5 L312.5 136.8 L313.0 134.2 L313.5 134.1 L314.0 133.4 L314.4 126.8 L314.8 123.4 L315.1 126.6 L315.5 126.1 L315.9 123.2 L316.2 121.3 L316.6 116.7 L317.0 114.6 L317.3 116.0 L317.7 110.6 L318.0 106.9 L318.4 106.6 L318.7 112.1 L319.1 109.1 L319.4 101.7 L319.7 99.9 L320.0 100.5 L320.4 96.3 L320.7 99.2 L321.1 94.4 L321.4 90.6 L321.7 94.7 L322.0 88.6 L322.3 88.9 L322.7 86.7 L323.0 84.4 L323.3 84.3 L323.7 80.1 L324.0 75.4 L324.3 72.8 L324.5 73.4 L324.8 73.0 L325.1 73.1 L325.4 71.6 L325.7 71.2 L326.0 68.3 L326.5 63.8 L327.0 61.7 L327.5 55.5 L328.0 58.8 L328.5 59.1 L329.0 58.5 L329.5 56.8 L330.0 58.1 L330.5 63.5 L331.0 64.0 L331.2 67.4 L331.5 68.6 L331.8 69.4 L332.1 74.3 L332.4 71.4 L332.6 74.1 L332.9 75.0 L333.2 77.0 L333.5 84.8 L333.8 86.9 L334.0 84.1 L334.6 88.2 L335.1 91.6 L335.5 92.2 L336.0 94.8 L336.5 91.0 L336.9 94.2 L337.4 98.7 L338.0 103.2 L338.4 101.8 L338.8 101.5 L339.2 104.5 L339.7 105.8 L340.1 107.4 L340.6 114.2 L341.0 111.7 L341.4 114.9 L341.9 121.0 L342.3 120.9 L342.7 121.2 L343.1 121.3 L343.6 125.0 L344.0 128.9 L344.5 129.1 L345.0 132.0 L345.5 131.9 L346.0 134.4 L346.5 135.0 L347.0 137.7 L347.6 140.9 L348.2 138.8 L348.7 142.6 L349.3 144.7 L350.0 145.3 L350.5 146.6 L351.1 149.0 L351.6 151.3 L352.2 150.5 L352.8 150.9 L353.4 149.5 L354.0 154.2 L354.6 152.7 L355.1 153.2 L355.6 152.6 L356.1 154.2 L356.7 153.6 L357.3 155.4 L358.0 156.5 L358.5 156.6 L359.0 157.4 L359.6 157.0 L360.2 159.7 L360.8 158.6 L361.4 158.3 L362.0 160.3 L362.6 160.5 L363.3 160.8 L364.0 161.8 L364.5 162.5 L365.1 161.8 L365.6 162.7 L366.2 163.8 L366.7 163.5 L367.3 163.2 L367.9 163.5 L368.5 163.5 L369.1 163.6 L369.8 164.1 L370.5 163.8 L371.2 162.6 L372.0 164.0 L372.5 163.6 L373.0 164.4 L373.5 163.8 L374.0 164.3 L374.5 165.3 L375.0 163.7 L375.5 163.7 L376.0 163.6 L376.6 163.1 L377.1 163.4 L377.7 164.5 L378.3 164.0 L378.9 163.4 L379.5 163.6 L380.1 164.7 L380.7 164.0 L381.4 164.2 L382.1 164.6 L382.8 165.1 L383.5 165.4 L384.2 165.0 L385.0 164.6 L385.5 164.6 L386.0 165.4 L386.6 165.2 L387.2 164.4 L387.8 164.8 L388.4 164.7 L389.0 164.6 L389.7 164.4 L390.3 164.0 L391.0 164.4 L391.7 163.9 L392.4 165.3 L393.1 165.0 L393.8 164.2 L394.5 165.4 L395.3 165.2 L396.0 163.9 L396.7 165.6 L397.4 165.2 L398.0 165.8 L398.7 164.3 L399.4 165.1 L400.0 165.1 L400.7 165.0 L401.3 165.0 L401.9 165.4 L402.5 164.3 L403.0 164.4 L403.5 164.3 L404.0 164.7 L404.5 164.7 L404.9 165.1 L405.3 165.1 L405.7 165.0 L406.0 164.7 L406.0 166.0 L290.0 166.0 Z"/></clipPath>
<path d="M289.0 149.8 L289.4 147.7 L290.0 149.2 L290.7 146.4 L291.4 142.9 L292.2 143.4 L293.0 140.4 L293.7 136.1 L294.4 138.3 L295.1 134.5 L295.9 133.2 L296.6 130.1 L297.3 127.6 L298.0 123.7 L298.7 125.6 L299.4 122.4 L300.1 120.3 L300.7 119.8 L301.3 117.7 L302.0 117.1 L302.7 113.7 L303.3 112.6 L304.0 107.4 L304.7 108.7 L305.3 108.9 L306.0 108.4 L306.7 103.5 L307.4 102.1 L308.1 103.3 L308.7 97.9 L309.4 98.1 L310.0 98.2 L310.8 92.6 L311.6 92.4 L312.3 86.6 L313.0 87.4 L313.7 87.2 L314.3 89.4 L315.0 94.2 L315.4 98.2 L315.8 94.2 L316.2 96.5 L316.7 100.8 L317.1 100.2 L317.6 105.1 L318.0 107.0 L318.8 108.2 L319.5 111.9 L320.2 110.4 L321.0 116.3 L321.7 114.4 L322.4 117.6 L323.2 119.5 L324.0 121.4 L324.6 124.4 L325.3 124.3 L325.9 124.6 L326.6 127.0 L327.3 129.5 L328.0 128.0 L328.7 129.3 L329.3 131.3 L330.0 130.5 L330.7 128.8 L331.3 134.9 L332.0 135.1 L332.7 130.0 L333.3 133.5 L334.0 135.0 L334.7 136.6 L335.3 137.1 L336.0 136.6 L336.7 136.5 L337.3 138.8 L338.0 140.9 L338.7 139.0 L339.3 139.9 L340.0 142.0 L340.7 140.3 L341.3 143.1 L342.0 143.5 L342.7 145.2 L343.3 144.5 L344.0 145.0 L344.7 146.2 L345.3 147.3 L346.0 147.3 L346.7 148.7 L347.3 150.1 L348.0 151.3 L348.7 152.5 L349.3 150.5 L350.0 151.6 L350.7 150.2 L351.3 155.2 L352.0 153.3 L352.6 154.6 L353.3 155.8 L353.9 154.8 L354.5 157.1 L355.2 157.3 L356.0 156.5 L356.6 158.7 L357.2 159.9 L357.9 157.9 L358.5 160.5 L359.2 160.5 L359.9 161.1 L360.6 161.5 L361.3 162.5 L362.0 161.8 L362.7 162.9 L363.4 162.4 L364.2 163.5 L365.0 162.9 L365.7 163.6 L366.4 164.9 L367.1 164.4 L367.6 164.3 L368.0 163.9" clip-path="url(#c17)" fill="none" stroke="#111" stroke-width="1.5" stroke-dasharray="2 1.3" stroke-linejoin="round"/>
<path d="M290.0 165.0 L290.4 164.8 L290.8 164.6 L291.4 164.5 L292.0 163.5 L292.6 164.0 L293.3 163.9 L294.0 163.1 L294.8 163.4 L295.5 163.5 L296.2 162.8 L296.9 163.9 L297.5 160.6 L298.0 161.9 L298.8 160.2 L299.5 161.7 L300.1 162.4 L300.7 157.7 L301.3 159.2 L301.8 158.9 L302.4 157.5 L303.0 157.5 L303.6 154.1 L304.3 156.3 L305.0 155.0 L305.6 153.8 L306.3 152.2 L306.9 152.7 L307.5 150.4 L308.0 150.3 L308.7 147.7 L309.3 143.7 L309.9 144.8 L310.4 143.2 L311.0 142.1 L311.5 138.0 L312.0 137.5 L312.5 136.8 L313.0 134.2 L313.5 134.1 L314.0 133.4 L314.4 126.8 L314.8 123.4 L315.1 126.6 L315.5 126.1 L315.9 123.2 L316.2 121.3 L316.6 116.7 L317.0 114.6 L317.3 116.0 L317.7 110.6 L318.0 106.9 L318.4 106.6 L318.7 112.1 L319.1 109.1 L319.4 101.7 L319.7 99.9 L320.0 100.5 L320.4 96.3 L320.7 99.2 L321.1 94.4 L321.4 90.6 L321.7 94.7 L322.0 88.6 L322.3 88.9 L322.7 86.7 L323.0 84.4 L323.3 84.3 L323.7 80.1 L324.0 75.4 L324.3 72.8 L324.5 73.4 L324.8 73.0 L325.1 73.1 L325.4 71.6 L325.7 71.2 L326.0 68.3 L326.5 63.8 L327.0 61.7 L327.5 55.5 L328.0 58.8 L328.5 59.1 L329.0 58.5 L329.5 56.8 L330.0 58.1 L330.5 63.5 L331.0 64.0 L331.2 67.4 L331.5 68.6 L331.8 69.4 L332.1 74.3 L332.4 71.4 L332.6 74.1 L332.9 75.0 L333.2 77.0 L333.5 84.8 L333.8 86.9 L334.0 84.1 L334.6 88.2 L335.1 91.6 L335.5 92.2 L336.0 94.8 L336.5 91.0 L336.9 94.2 L337.4 98.7 L338.0 103.2 L338.4 101.8 L338.8 101.5 L339.2 104.5 L339.7 105.8 L340.1 107.4 L340.6 114.2 L341.0 111.7 L341.4 114.9 L341.9 121.0 L342.3 120.9 L342.7 121.2 L343.1 121.3 L343.6 125.0 L344.0 128.9 L344.5 129.1 L345.0 132.0 L345.5 131.9 L346.0 134.4 L346.5 135.0 L347.0 137.7 L347.6 140.9 L348.2 138.8 L348.7 142.6 L349.3 144.7 L350.0 145.3 L350.5 146.6 L351.1 149.0 L351.6 151.3 L352.2 150.5 L352.8 150.9 L353.4 149.5 L354.0 154.2 L354.6 152.7 L355.1 153.2 L355.6 152.6 L356.1 154.2 L356.7 153.6 L357.3 155.4 L358.0 156.5 L358.5 156.6 L359.0 157.4 L359.6 157.0 L360.2 159.7 L360.8 158.6 L361.4 158.3 L362.0 160.3 L362.6 160.5 L363.3 160.8 L364.0 161.8 L364.5 162.5 L365.1 161.8 L365.6 162.7 L366.2 163.8 L366.7 163.5 L367.3 163.2 L367.9 163.5 L368.5 163.5 L369.1 163.6 L369.8 164.1 L370.5 163.8 L371.2 162.6 L372.0 164.0 L372.5 163.6 L373.0 164.4 L373.5 163.8 L374.0 164.3 L374.5 165.3 L375.0 163.7 L375.5 163.7 L376.0 163.6 L376.6 163.1 L377.1 163.4 L377.7 164.5 L378.3 164.0 L378.9 163.4 L379.5 163.6 L380.1 164.7 L380.7 164.0 L381.4 164.2 L382.1 164.6 L382.8 165.1 L383.5 165.4 L384.2 165.0 L385.0 164.6 L385.5 164.6 L386.0 165.4 L386.6 165.2 L387.2 164.4 L387.8 164.8 L388.4 164.7 L389.0 164.6 L389.7 164.4 L390.3 164.0 L391.0 164.4 L391.7 163.9 L392.4 165.3 L393.1 165.0 L393.8 164.2 L394.5 165.4 L395.3 165.2 L396.0 163.9 L396.7 165.6 L397.4 165.2 L398.0 165.8 L398.7 164.3 L399.4 165.1 L400.0 165.1 L400.7 165.0 L401.3 165.0 L401.9 165.4 L402.5 164.3 L403.0 164.4 L403.5 164.3 L404.0 164.7 L404.5 164.7 L404.9 165.1 L405.3 165.1 L405.7 165.0 L406.0 164.7 L406.0 166.0 L290.0 166.0 Z" fill="url(#ht)" stroke="none"/>
<path d="M290.0 165.0 L290.4 164.8 L290.8 164.6 L291.4 164.5 L292.0 163.5 L292.6 164.0 L293.3 163.9 L294.0 163.1 L294.8 163.4 L295.5 163.5 L296.2 162.8 L296.9 163.9 L297.5 160.6 L298.0 161.9 L298.8 160.2 L299.5 161.7 L300.1 162.4 L300.7 157.7 L301.3 159.2 L301.8 158.9 L302.4 157.5 L303.0 157.5 L303.6 154.1 L304.3 156.3 L305.0 155.0 L305.6 153.8 L306.3 152.2 L306.9 152.7 L307.5 150.4 L308.0 150.3 L308.7 147.7 L309.3 143.7 L309.9 144.8 L310.4 143.2 L311.0 142.1 L311.5 138.0 L312.0 137.5 L312.5 136.8 L313.0 134.2 L313.5 134.1 L314.0 133.4 L314.4 126.8 L314.8 123.4 L315.1 126.6 L315.5 126.1 L315.9 123.2 L316.2 121.3 L316.6 116.7 L317.0 114.6 L317.3 116.0 L317.7 110.6 L318.0 106.9 L318.4 106.6 L318.7 112.1 L319.1 109.1 L319.4 101.7 L319.7 99.9 L320.0 100.5 L320.4 96.3 L320.7 99.2 L321.1 94.4 L321.4 90.6 L321.7 94.7 L322.0 88.6 L322.3 88.9 L322.7 86.7 L323.0 84.4 L323.3 84.3 L323.7 80.1 L324.0 75.4 L324.3 72.8 L324.5 73.4 L324.8 73.0 L325.1 73.1 L325.4 71.6 L325.7 71.2 L326.0 68.3 L326.5 63.8 L327.0 61.7 L327.5 55.5 L328.0 58.8 L328.5 59.1 L329.0 58.5 L329.5 56.8 L330.0 58.1 L330.5 63.5 L331.0 64.0 L331.2 67.4 L331.5 68.6 L331.8 69.4 L332.1 74.3 L332.4 71.4 L332.6 74.1 L332.9 75.0 L333.2 77.0 L333.5 84.8 L333.8 86.9 L334.0 84.1 L334.6 88.2 L335.1 91.6 L335.5 92.2 L336.0 94.8 L336.5 91.0 L336.9 94.2 L337.4 98.7 L338.0 103.2 L338.4 101.8 L338.8 101.5 L339.2 104.5 L339.7 105.8 L340.1 107.4 L340.6 114.2 L341.0 111.7 L341.4 114.9 L341.9 121.0 L342.3 120.9 L342.7 121.2 L343.1 121.3 L343.6 125.0 L344.0 128.9 L344.5 129.1 L345.0 132.0 L345.5 131.9 L346.0 134.4 L346.5 135.0 L347.0 137.7 L347.6 140.9 L348.2 138.8 L348.7 142.6 L349.3 144.7 L350.0 145.3 L350.5 146.6 L351.1 149.0 L351.6 151.3 L352.2 150.5 L352.8 150.9 L353.4 149.5 L354.0 154.2 L354.6 152.7 L355.1 153.2 L355.6 152.6 L356.1 154.2 L356.7 153.6 L357.3 155.4 L358.0 156.5 L358.5 156.6 L359.0 157.4 L359.6 157.0 L360.2 159.7 L360.8 158.6 L361.4 158.3 L362.0 160.3 L362.6 160.5 L363.3 160.8 L364.0 161.8 L364.5 162.5 L365.1 161.8 L365.6 162.7 L366.2 163.8 L366.7 163.5 L367.3 163.2 L367.9 163.5 L368.5 163.5 L369.1 163.6 L369.8 164.1 L370.5 163.8 L371.2 162.6 L372.0 164.0 L372.5 163.6 L373.0 164.4 L373.5 163.8 L374.0 164.3 L374.5 165.3 L375.0 163.7 L375.5 163.7 L376.0 163.6 L376.6 163.1 L377.1 163.4 L377.7 164.5 L378.3 164.0 L378.9 163.4 L379.5 163.6 L380.1 164.7 L380.7 164.0 L381.4 164.2 L382.1 164.6 L382.8 165.1 L383.5 165.4 L384.2 165.0 L385.0 164.6 L385.5 164.6 L386.0 165.4 L386.6 165.2 L387.2 164.4 L387.8 164.8 L388.4 164.7 L389.0 164.6 L389.7 164.4 L390.3 164.0 L391.0 164.4 L391.7 163.9 L392.4 165.3 L393.1 165.0 L393.8 164.2 L394.5 165.4 L395.3 165.2 L396.0 163.9 L396.7 165.6 L397.4 165.2 L398.0 165.8 L398.7 164.3 L399.4 165.1 L400.0 165.1 L400.7 165.0 L401.3 165.0 L401.9 165.4 L402.5 164.3 L403.0 164.4 L403.5 164.3 L404.0 164.7 L404.5 164.7 L404.9 165.1 L405.3 165.1 L405.7 165.0 L406.0 164.7" fill="none" stroke="#111" stroke-width="1.6" stroke-linejoin="round"/>
<clipPath id="c21"><path d="M290.0 165.0 L290.4 164.8 L290.8 164.6 L291.4 164.5 L292.0 163.5 L292.6 164.0 L293.3 163.9 L294.0 163.1 L294.8 163.4 L295.5 163.5 L296.2 162.8 L296.9 163.9 L297.5 160.6 L298.0 161.9 L298.8 160.2 L299.5 161.7 L300.1 162.4 L300.7 157.7 L301.3 159.2 L301.8 158.9 L302.4 157.5 L303.0 157.5 L303.6 154.1 L304.3 156.3 L305.0 155.0 L305.6 153.8 L306.3 152.2 L306.9 152.7 L307.5 150.4 L308.0 150.3 L308.7 147.7 L309.3 143.7 L309.9 144.8 L310.4 143.2 L311.0 142.1 L311.5 138.0 L312.0 137.5 L312.5 136.8 L313.0 134.2 L313.5 134.1 L314.0 133.4 L314.4 126.8 L314.8 123.4 L315.1 126.6 L315.5 126.1 L315.9 123.2 L316.2 121.3 L316.6 116.7 L317.0 114.6 L317.3 116.0 L317.7 110.6 L318.0 106.9 L318.4 106.6 L318.7 112.1 L319.1 109.1 L319.4 101.7 L319.7 99.9 L320.0 100.5 L320.4 96.3 L320.7 99.2 L321.1 94.4 L321.4 90.6 L321.7 94.7 L322.0 88.6 L322.3 88.9 L322.7 86.7 L323.0 84.4 L323.3 84.3 L323.7 80.1 L324.0 75.4 L324.3 72.8 L324.5 73.4 L324.8 73.0 L325.1 73.1 L325.4 71.6 L325.7 71.2 L326.0 68.3 L326.5 63.8 L327.0 61.7 L327.5 55.5 L328.0 58.8 L328.5 59.1 L329.0 58.5 L329.5 56.8 L330.0 58.1 L330.5 63.5 L331.0 64.0 L331.2 67.4 L331.5 68.6 L331.8 69.4 L332.1 74.3 L332.4 71.4 L332.6 74.1 L332.9 75.0 L333.2 77.0 L333.5 84.8 L333.8 86.9 L334.0 84.1 L334.6 88.2 L335.1 91.6 L335.5 92.2 L336.0 94.8 L336.5 91.0 L336.9 94.2 L337.4 98.7 L338.0 103.2 L338.4 101.8 L338.8 101.5 L339.2 104.5 L339.7 105.8 L340.1 107.4 L340.6 114.2 L341.0 111.7 L341.4 114.9 L341.9 121.0 L342.3 120.9 L342.7 121.2 L343.1 121.3 L343.6 125.0 L344.0 128.9 L344.5 129.1 L345.0 132.0 L345.5 131.9 L346.0 134.4 L346.5 135.0 L347.0 137.7 L347.6 140.9 L348.2 138.8 L348.7 142.6 L349.3 144.7 L350.0 145.3 L350.5 146.6 L351.1 149.0 L351.6 151.3 L352.2 150.5 L352.8 150.9 L353.4 149.5 L354.0 154.2 L354.6 152.7 L355.1 153.2 L355.6 152.6 L356.1 154.2 L356.7 153.6 L357.3 155.4 L358.0 156.5 L358.5 156.6 L359.0 157.4 L359.6 157.0 L360.2 159.7 L360.8 158.6 L361.4 158.3 L362.0 160.3 L362.6 160.5 L363.3 160.8 L364.0 161.8 L364.5 162.5 L365.1 161.8 L365.6 162.7 L366.2 163.8 L366.7 163.5 L367.3 163.2 L367.9 163.5 L368.5 163.5 L369.1 163.6 L369.8 164.1 L370.5 163.8 L371.2 162.6 L372.0 164.0 L372.5 163.6 L373.0 164.4 L373.5 163.8 L374.0 164.3 L374.5 165.3 L375.0 163.7 L375.5 163.7 L376.0 163.6 L376.6 163.1 L377.1 163.4 L377.7 164.5 L378.3 164.0 L378.9 163.4 L379.5 163.6 L380.1 164.7 L380.7 164.0 L381.4 164.2 L382.1 164.6 L382.8 165.1 L383.5 165.4 L384.2 165.0 L385.0 164.6 L385.5 164.6 L386.0 165.4 L386.6 165.2 L387.2 164.4 L387.8 164.8 L388.4 164.7 L389.0 164.6 L389.7 164.4 L390.3 164.0 L391.0 164.4 L391.7 163.9 L392.4 165.3 L393.1 165.0 L393.8 164.2 L394.5 165.4 L395.3 165.2 L396.0 163.9 L396.7 165.6 L397.4 165.2 L398.0 165.8 L398.7 164.3 L399.4 165.1 L400.0 165.1 L400.7 165.0 L401.3 165.0 L401.9 165.4 L402.5 164.3 L403.0 164.4 L403.5 164.3 L404.0 164.7 L404.5 164.7 L404.9 165.1 L405.3 165.1 L405.7 165.0 L406.0 164.7 L406.0 166.0 L290.0 166.0 Z"/></clipPath>
<path d="M289.0 149.8 L289.4 147.7 L290.0 149.2 L290.7 146.4 L291.4 142.9 L292.2 143.4 L293.0 140.4 L293.7 136.1 L294.4 138.3 L295.1 134.5 L295.9 133.2 L296.6 130.1 L297.3 127.6 L298.0 123.7 L298.7 125.6 L299.4 122.4 L300.1 120.3 L300.7 119.8 L301.3 117.7 L302.0 117.1 L302.7 113.7 L303.3 112.6 L304.0 107.4 L304.7 108.7 L305.3 108.9 L306.0 108.4 L306.7 103.5 L307.4 102.1 L308.1 103.3 L308.7 97.9 L309.4 98.1 L310.0 98.2 L310.8 92.6 L311.6 92.4 L312.3 86.6 L313.0 87.4 L313.7 87.2 L314.3 89.4 L315.0 94.2 L315.4 98.2 L315.8 94.2 L316.2 96.5 L316.7 100.8 L317.1 100.2 L317.6 105.1 L318.0 107.0 L318.8 108.2 L319.5 111.9 L320.2 110.4 L321.0 116.3 L321.7 114.4 L322.4 117.6 L323.2 119.5 L324.0 121.4 L324.6 124.4 L325.3 124.3 L325.9 124.6 L326.6 127.0 L327.3 129.5 L328.0 128.0 L328.7 129.3 L329.3 131.3 L330.0 130.5 L330.7 128.8 L331.3 134.9 L332.0 135.1 L332.7 130.0 L333.3 133.5 L334.0 135.0 L334.7 136.6 L335.3 137.1 L336.0 136.6 L336.7 136.5 L337.3 138.8 L338.0 140.9 L338.7 139.0 L339.3 139.9 L340.0 142.0 L340.7 140.3 L341.3 143.1 L342.0 143.5 L342.7 145.2 L343.3 144.5 L344.0 145.0 L344.7 146.2 L345.3 147.3 L346.0 147.3 L346.7 148.7 L347.3 150.1 L348.0 151.3 L348.7 152.5 L349.3 150.5 L350.0 151.6 L350.7 150.2 L351.3 155.2 L352.0 153.3 L352.6 154.6 L353.3 155.8 L353.9 154.8 L354.5 157.1 L355.2 157.3 L356.0 156.5 L356.6 158.7 L357.2 159.9 L357.9 157.9 L358.5 160.5 L359.2 160.5 L359.9 161.1 L360.6 161.5 L361.3 162.5 L362.0 161.8 L362.7 162.9 L363.4 162.4 L364.2 163.5 L365.0 162.9 L365.7 163.6 L366.4 164.9 L367.1 164.4 L367.6 164.3 L368.0 163.9" clip-path="url(#c21)" fill="none" stroke="#111" stroke-width="1.5" stroke-dasharray="2 1.3" stroke-linejoin="round"/>
<path d="M289.0 149.8 L289.4 147.7 L290.0 149.2 L290.7 146.4 L291.4 142.9 L292.2 143.4 L293.0 140.4 L293.7 136.1 L294.4 138.3 L295.1 134.5 L295.9 133.2 L296.6 130.1 L297.3 127.6 L298.0 123.7 L298.7 125.6 L299.4 122.4 L300.1 120.3 L300.7 119.8 L301.3 117.7 L302.0 117.1 L302.7 113.7 L303.3 112.6 L304.0 107.4 L304.7 108.7 L305.3 108.9 L306.0 108.4 L306.7 103.5 L307.4 102.1 L308.1 103.3 L308.7 97.9 L309.4 98.1 L310.0 98.2 L310.8 92.6 L311.6 92.4 L312.3 86.6 L313.0 87.4 L313.7 87.2 L314.3 89.4 L315.0 94.2 L315.4 98.2 L315.8 94.2 L316.2 96.5 L316.7 100.8 L317.1 100.2 L317.6 105.1 L318.0 107.0 L318.8 108.2 L319.5 111.9 L320.2 110.4 L321.0 116.3 L321.7 114.4 L322.4 117.6 L323.2 119.5 L324.0 121.4 L324.6 124.4 L325.3 124.3 L325.9 124.6 L326.6 127.0 L327.3 129.5 L328.0 128.0 L328.7 129.3 L329.3 131.3 L330.0 130.5 L330.7 128.8 L331.3 134.9 L332.0 135.1 L332.7 130.0 L333.3 133.5 L334.0 135.0 L334.7 136.6 L335.3 137.1 L336.0 136.6 L336.7 136.5 L337.3 138.8 L338.0 140.9 L338.7 139.0 L339.3 139.9 L340.0 142.0 L340.7 140.3 L341.3 143.1 L342.0 143.5 L342.7 145.2 L343.3 144.5 L344.0 145.0 L344.7 146.2 L345.3 147.3 L346.0 147.3 L346.7 148.7 L347.3 150.1 L348.0 151.3 L348.7 152.5 L349.3 150.5 L350.0 151.6 L350.7 150.2 L351.3 155.2 L352.0 153.3 L352.6 154.6 L353.3 155.8 L353.9 154.8 L354.5 157.1 L355.2 157.3 L356.0 156.5 L356.6 158.7 L357.2 159.9 L357.9 157.9 L358.5 160.5 L359.2 160.5 L359.9 161.1 L360.6 161.5 L361.3 162.5 L362.0 161.8 L362.7 162.9 L363.4 162.4 L364.2 163.5 L365.0 162.9 L365.7 163.6 L366.4 164.9 L367.1 164.4 L367.6 164.3 L368.0 163.9" fill="none" stroke="#505050" stroke-width="1.5" stroke-dasharray="1.4 1.5" stroke-linejoin="round"/>
<path d="M289.0 149.2 L289.4 149.2 L290.0 148.6 L290.7 146.4 L291.4 144.6 L292.2 142.0 L293.0 141.7 L293.7 137.7 L294.4 135.4 L295.1 135.3 L295.9 132.0 L296.6 129.4 L297.3 127.0 L298.0 125.6 L298.7 125.1 L299.4 122.9 L300.1 118.8 L300.7 119.9 L301.3 117.9 L302.0 114.3 L302.7 115.6 L303.3 112.2 L304.0 110.5 L304.7 110.8 L305.3 110.1 L306.0 104.8 L306.7 105.0 L307.4 100.7 L308.1 104.7 L308.7 97.6 L309.4 98.9 L310.0 93.8 L310.8 94.1 L311.6 94.4 L312.3 82.9 L313.0 86.1 L313.7 88.4 L314.3 89.0 L315.0 90.7 L315.4 97.7 L315.8 95.6 L316.2 94.5 L316.7 101.5 L317.1 98.9 L317.6 106.3 L318.0 105.0 L318.8 108.9 L319.5 113.1 L320.2 113.2 L321.0 112.7 L321.7 114.1 L322.4 120.6 L323.2 121.5 L324.0 120.7 L324.6 124.4 L325.3 124.9 L325.9 126.2 L326.6 122.8 L327.3 126.7 L328.0 129.3 L328.7 129.9 L329.3 130.7 L330.0 126.5 L330.7 130.9 L331.3 132.0 L332.0 135.6 L332.7 131.4 L333.3 133.1 L334.0 134.5 L334.7 136.5 L335.3 135.6 L336.0 138.5 L336.7 136.8 L337.3 139.1 L338.0 138.9 L338.7 140.6 L339.3 140.4 L340.0 140.0 L340.7 144.1 L341.3 143.8 L342.0 143.4 L342.7 144.9 L343.3 146.5 L344.0 144.9 L344.7 146.5 L345.3 147.9 L346.0 148.6 L346.7 148.3 L347.3 147.0 L348.0 151.3 L348.7 151.0 L349.3 151.3 L350.0 151.7 L350.7 152.9 L351.3 152.9 L352.0 153.0 L352.6 154.0 L353.3 154.8 L353.9 155.4 L354.5 155.6 L355.2 157.9 L356.0 156.9 L356.6 159.0 L357.2 158.1 L357.9 159.7 L358.5 160.9 L359.2 160.5 L359.9 160.2 L360.6 161.2 L361.3 161.7 L362.0 160.8 L362.7 162.0 L363.4 162.8 L364.2 162.7 L365.0 163.4 L365.7 164.1 L366.4 164.4 L367.1 164.7 L367.6 164.7 L368.0 164.3" fill="none" stroke="#707070" stroke-width="1.2" stroke-dasharray="1 2" stroke-linejoin="round"/>
<path d="M290.0 164.3 L290.3 164.8 L290.6 164.8 L291.0 164.5 L291.4 164.4 L291.8 165.0 L292.2 164.2 L292.6 164.7 L293.1 164.9 L293.6 164.3 L294.1 164.7 L294.6 164.0 L295.1 164.8 L295.7 164.5 L296.2 163.8 L296.8 164.6 L297.4 164.0 L298.0 164.8 L298.6 164.1 L299.2 164.3 L299.8 164.4 L300.5 164.2 L301.1 164.4 L301.8 164.1 L302.5 164.5 L303.1 164.3 L303.8 164.3 L304.5 163.2 L305.2 164.7 L305.9 164.2 L306.6 163.5 L307.3 164.2 L308.0 164.3 L308.7 164.6 L309.4 163.7 L310.1 164.7 L310.8 164.1 L311.4 165.1 L312.1 164.0 L312.8 164.4 L313.5 163.9 L314.2 163.6 L314.9 164.5 L315.5 164.4 L316.2 164.7 L316.9 164.4 L317.5 163.8 L318.1 163.3 L318.8 163.7 L319.4 163.7 L320.0 163.7 L320.6 164.2 L321.2 164.1 L321.8 163.9 L322.5 164.1 L323.1 163.9 L323.7 164.1 L324.4 164.3 L325.0 164.4 L325.7 163.7 L326.3 163.4 L327.0 164.5 L327.6 164.0 L328.3 164.4 L329.0 163.3 L329.6 163.8 L330.3 164.0 L331.0 163.4 L331.6 163.8 L332.3 164.3 L333.0 164.4 L333.6 164.6 L334.3 163.6 L334.9 163.4 L335.6 164.2 L336.2 164.4 L336.9 164.0 L337.5 163.4 L338.2 164.3 L338.8 164.3 L339.4 164.2 L340.1 163.8 L340.7 164.1 L341.3 164.3 L341.9 163.8 L342.5 163.2 L343.1 164.1 L343.6 164.2 L344.2 164.0 L344.7 164.4 L345.3 163.8 L345.8 164.0 L346.3 163.9 L346.8 164.2 L347.3 164.6 L347.8 163.9 L348.3 164.8 L348.7 164.6 L349.2 164.3 L349.6 164.2 L350.0 164.7 L351.1 163.9 L352.1 164.0 L353.1 163.6 L353.9 164.2 L354.6 164.6 L355.3 164.3 L355.9 164.3 L356.4 164.0 L356.9 164.2 L357.4 163.6 L357.8 164.6 L358.2 164.0 L358.6 163.7 L358.9 163.8 L359.3 163.8 L359.6 164.4 L360.0 164.4 L361.0 163.2 L361.7 163.9 L362.1 163.6 L362.5 162.4 L363.0 161.2 L363.6 160.7 L364.2 159.8 L364.7 159.2 L365.3 157.3 L366.0 154.5 L366.5 154.9 L367.1 151.9 L367.7 152.3 L368.3 148.8 L368.9 147.5 L369.5 145.7 L370.0 144.5 L370.6 144.4 L371.1 142.2 L371.6 140.2 L372.0 138.1 L372.5 134.2 L373.0 133.6 L373.4 131.9 L373.9 129.6 L374.3 129.5 L374.8 125.8 L375.1 124.3 L375.4 122.2 L375.6 119.1 L375.9 120.9 L376.2 120.1 L376.5 116.7 L376.7 113.3 L377.0 109.0 L377.3 111.4 L377.5 111.1 L377.8 107.8 L378.1 107.0 L378.3 106.0 L378.6 103.6 L378.8 99.3 L379.0 99.9 L379.3 97.6 L379.5 91.9 L379.8 91.9 L380.0 88.3 L380.2 88.7 L380.5 88.0 L380.7 83.5 L381.0 80.1 L381.2 84.5 L381.5 81.2 L381.7 81.6 L382.0 74.7 L382.2 77.3 L382.5 77.2 L382.7 75.5 L382.9 69.7 L383.1 68.8 L383.2 66.2 L383.4 66.6 L383.6 64.9 L383.8 61.1 L384.0 56.4 L384.2 58.8 L384.3 54.7 L384.5 55.3 L384.7 52.4 L384.9 53.1 L385.1 50.0 L385.3 44.6 L385.5 44.4 L385.6 45.7 L385.8 39.2 L386.0 39.9 L386.8 38.3 L387.5 37.3 L388.2 37.0 L389.0 34.6 L389.6 33.9 L390.3 35.6 L391.0 35.4 L391.6 41.1 L392.2 35.5 L392.7 42.5 L392.9 43.0 L393.1 39.1 L393.2 42.5 L393.4 46.2 L393.5 46.7 L393.7 49.4 L394.0 53.0 L394.2 51.8 L394.4 56.1 L394.6 55.6 L394.8 57.6 L395.1 61.7 L395.3 61.4 L395.6 65.1 L395.8 69.5 L396.1 68.3 L396.3 69.8 L396.5 73.2 L396.7 72.6 L397.0 77.4 L397.2 74.9 L397.4 80.2 L397.6 79.7 L397.7 80.8 L397.9 87.0 L398.1 83.9 L398.3 90.1 L398.5 90.0 L398.8 93.3 L399.0 91.0 L399.2 96.5 L399.5 98.7 L399.7 98.0 L399.9 99.8 L400.1 105.8 L400.3 104.0 L400.5 104.9 L400.7 106.4 L400.9 109.9 L401.1 111.6 L401.3 113.3 L401.5 117.2 L401.7 116.0 L401.8 118.9 L402.0 122.0 L402.2 120.4 L402.4 124.9 L402.6 127.5 L402.8 125.0 L403.1 127.3 L403.4 129.2 L403.8 130.0 L404.1 134.4 L404.5 133.3 L404.8 137.6 L405.3 140.7 L405.8 139.4 L406.3 142.7 L406.8 143.1 L407.2 147.6 L407.6 148.2 L408.0 150.6 L408.5 152.6 L409.0 154.4 L409.5 154.6 L410.1 155.5 L410.7 155.6 L411.4 156.4 L412.0 155.8 L412.7 157.0 L413.3 156.0 L413.9 157.2 L414.5 159.0 L415.1 158.0 L415.7 157.3 L416.3 158.5 L417.0 157.9 L417.6 157.6 L418.2 158.4 L418.9 159.5 L419.5 159.5 L420.2 159.3 L420.8 159.0 L421.4 159.1 L422.0 160.8 L422.6 160.4 L423.2 160.0 L423.8 159.6 L424.3 160.4 L424.9 162.7 L425.4 161.1 L426.0 162.0 L426.6 162.4 L427.1 162.5 L427.7 162.8 L428.3 162.6 L428.9 163.0 L429.4 164.5 L430.0 163.7 L430.6 164.5 L431.3 163.7 L431.9 164.5 L432.6 164.8 L433.1 165.2 L433.6 164.5 L434.0 165.2" fill="none" stroke="#111" stroke-width="1.4" stroke-linejoin="round"/>
<path d="M287.1 0.8 V166.0 H518.0" fill="none" stroke="#0a0a0a" stroke-width="2.0"/>
<text x="431.3" y="42.1" font-family="'Liberation Serif', serif" font-size="15.6" fill="#111" stroke="#111" stroke-width="0.35">CD86</text>
</g>
<g>
<clipPath id="c30"><path d="M70.0 352.6 L70.4 352.6 L70.8 352.3 L71.4 352.1 L72.0 350.9 L72.7 351.2 L73.3 350.0 L74.0 351.4 L74.7 350.9 L75.4 350.2 L76.0 349.5 L76.6 349.2 L77.3 350.4 L77.9 349.9 L78.6 348.0 L79.2 348.5 L79.8 345.6 L80.4 344.6 L81.0 345.2 L81.5 344.2 L82.2 343.6 L82.8 343.4 L83.3 345.3 L83.9 340.5 L84.4 340.2 L85.0 339.4 L85.5 338.0 L86.1 337.9 L86.7 337.7 L87.3 332.5 L87.9 333.0 L88.5 331.0 L89.0 330.5 L89.6 326.1 L90.1 324.0 L90.5 321.3 L91.0 323.8 L91.5 321.3 L91.9 319.4 L92.3 313.5 L92.8 315.0 L93.2 312.5 L93.6 309.4 L94.0 308.3 L94.3 309.7 L94.7 307.7 L95.0 304.9 L95.3 304.3 L95.7 300.3 L96.0 299.9 L96.3 298.1 L96.6 297.4 L96.9 294.3 L97.2 292.3 L97.5 290.5 L97.8 287.5 L98.1 292.0 L98.5 286.2 L98.8 284.2 L99.2 286.5 L99.6 282.5 L100.0 273.5 L100.4 276.9 L100.8 275.3 L101.2 276.2 L101.5 273.3 L102.0 269.4 L102.4 262.6 L102.8 261.6 L103.3 262.7 L103.8 261.0 L104.4 254.4 L105.0 254.0 L105.5 252.9 L106.0 255.0 L106.4 258.1 L107.0 259.2 L107.4 258.2 L107.9 266.2 L108.5 268.8 L109.0 266.2 L109.5 270.8 L110.0 271.1 L110.4 273.4 L110.7 274.7 L111.1 273.6 L111.4 278.6 L111.7 281.5 L112.0 278.9 L112.3 287.3 L112.6 289.2 L112.9 290.3 L113.2 292.4 L113.6 291.7 L114.0 291.8 L114.3 292.7 L114.5 293.9 L114.8 297.6 L115.2 299.2 L115.5 302.5 L115.8 299.1 L116.2 309.5 L116.5 311.3 L116.8 308.8 L117.2 312.0 L117.5 313.4 L117.9 314.9 L118.2 316.0 L118.6 318.1 L118.9 318.8 L119.3 322.3 L119.6 323.8 L120.0 326.1 L120.3 326.0 L120.7 328.7 L121.0 330.1 L121.6 332.9 L122.2 332.2 L122.8 335.3 L123.4 337.1 L124.0 337.7 L124.6 337.6 L125.1 338.5 L125.7 339.8 L126.3 341.7 L126.9 343.4 L127.5 342.3 L128.1 342.5 L128.6 343.9 L129.2 344.1 L129.8 343.4 L130.4 343.9 L131.0 344.9 L131.5 346.0 L132.1 344.7 L132.6 345.2 L133.2 346.9 L133.8 345.8 L134.4 347.2 L135.0 347.8 L135.6 347.7 L136.2 347.4 L136.8 348.4 L137.4 348.5 L138.1 349.3 L138.7 348.8 L139.4 350.4 L140.0 348.9 L140.7 350.2 L141.4 350.6 L142.1 351.4 L142.8 350.8 L143.5 351.7 L144.1 351.4 L144.6 352.2 L145.0 352.8 L145.0 353.4 L70.0 353.4 Z"/></clipPath>
<path d="M47.0 340.4 L47.4 338.4 L48.0 338.6 L48.8 335.9 L49.6 334.6 L50.4 334.0 L51.2 329.3 L52.0 330.9 L52.7 328.5 L53.4 326.5 L54.1 326.4 L54.8 326.5 L55.6 323.5 L56.3 324.4 L56.9 319.7 L57.5 318.2 L58.3 320.3 L59.0 316.9 L59.7 316.1 L60.3 311.6 L61.0 312.2 L61.6 309.6 L62.3 308.4 L63.0 305.4 L63.7 305.4 L64.4 300.5 L65.0 298.4 L65.8 295.3 L66.6 298.1 L67.3 293.1 L68.0 291.1 L68.8 289.9 L69.5 289.4 L70.2 286.9 L71.0 288.5 L71.7 288.6 L72.5 290.1 L73.2 291.3 L74.0 295.1 L74.7 296.0 L75.4 299.0 L76.1 301.3 L76.8 303.6 L77.5 301.4 L78.2 306.0 L78.9 307.4 L79.6 311.7 L80.3 309.8 L81.0 312.9 L81.6 315.1 L82.3 316.5 L82.9 320.0 L83.6 319.4 L84.3 322.7 L85.0 320.5 L85.7 320.9 L86.4 325.8 L87.1 325.4 L87.8 326.0 L88.5 326.1 L89.3 327.1 L90.0 325.4 L90.7 328.7 L91.4 327.2 L92.1 329.5 L92.9 328.8 L93.6 326.6 L94.3 327.9 L95.0 331.4 L95.7 330.4 L96.4 330.8 L97.1 332.3 L97.9 332.3 L98.6 332.9 L99.3 334.4 L100.0 335.2 L100.7 337.4 L101.4 336.5 L102.1 339.2 L102.9 339.8 L103.6 340.4 L104.3 340.4 L105.0 340.1 L105.7 340.8 L106.4 341.1 L107.1 341.1 L107.9 342.3 L108.6 342.3 L109.3 344.9 L110.0 344.5 L110.7 344.1 L111.4 343.4 L112.1 345.5 L112.9 345.8 L113.6 345.7 L114.3 346.2 L115.0 345.8 L115.7 348.3 L116.4 348.3 L117.1 350.5 L117.9 349.0 L118.6 349.2 L119.3 350.6 L120.0 350.1 L120.8 350.4 L121.6 350.4 L122.4 350.6 L123.2 352.2 L123.9 352.1 L124.5 352.8 L125.0 351.8" clip-path="url(#c30)" fill="none" stroke="#111" stroke-width="1.5" stroke-dasharray="2 1.3" stroke-linejoin="round"/>
<path d="M70.0 352.6 L70.4 352.6 L70.8 352.3 L71.4 352.1 L72.0 350.9 L72.7 351.2 L73.3 350.0 L74.0 351.4 L74.7 350.9 L75.4 350.2 L76.0 349.5 L76.6 349.2 L77.3 350.4 L77.9 349.9 L78.6 348.0 L79.2 348.5 L79.8 345.6 L80.4 344.6 L81.0 345.2 L81.5 344.2 L82.2 343.6 L82.8 343.4 L83.3 345.3 L83.9 340.5 L84.4 340.2 L85.0 339.4 L85.5 338.0 L86.1 337.9 L86.7 337.7 L87.3 332.5 L87.9 333.0 L88.5 331.0 L89.0 330.5 L89.6 326.1 L90.1 324.0 L90.5 321.3 L91.0 323.8 L91.5 321.3 L91.9 319.4 L92.3 313.5 L92.8 315.0 L93.2 312.5 L93.6 309.4 L94.0 308.3 L94.3 309.7 L94.7 307.7 L95.0 304.9 L95.3 304.3 L95.7 300.3 L96.0 299.9 L96.3 298.1 L96.6 297.4 L96.9 294.3 L97.2 292.3 L97.5 290.5 L97.8 287.5 L98.1 292.0 L98.5 286.2 L98.8 284.2 L99.2 286.5 L99.6 282.5 L100.0 273.5 L100.4 276.9 L100.8 275.3 L101.2 276.2 L101.5 273.3 L102.0 269.4 L102.4 262.6 L102.8 261.6 L103.3 262.7 L103.8 261.0 L104.4 254.4 L105.0 254.0 L105.5 252.9 L106.0 255.0 L106.4 258.1 L107.0 259.2 L107.4 258.2 L107.9 266.2 L108.5 268.8 L109.0 266.2 L109.5 270.8 L110.0 271.1 L110.4 273.4 L110.7 274.7 L111.1 273.6 L111.4 278.6 L111.7 281.5 L112.0 278.9 L112.3 287.3 L112.6 289.2 L112.9 290.3 L113.2 292.4 L113.6 291.7 L114.0 291.8 L114.3 292.7 L114.5 293.9 L114.8 297.6 L115.2 299.2 L115.5 302.5 L115.8 299.1 L116.2 309.5 L116.5 311.3 L116.8 308.8 L117.2 312.0 L117.5 313.4 L117.9 314.9 L118.2 316.0 L118.6 318.1 L118.9 318.8 L119.3 322.3 L119.6 323.8 L120.0 326.1 L120.3 326.0 L120.7 328.7 L121.0 330.1 L121.6 332.9 L122.2 332.2 L122.8 335.3 L123.4 337.1 L124.0 337.7 L124.6 337.6 L125.1 338.5 L125.7 339.8 L126.3 341.7 L126.9 343.4 L127.5 342.3 L128.1 342.5 L128.6 343.9 L129.2 344.1 L129.8 343.4 L130.4 343.9 L131.0 344.9 L131.5 346.0 L132.1 344.7 L132.6 345.2 L133.2 346.9 L133.8 345.8 L134.4 347.2 L135.0 347.8 L135.6 347.7 L136.2 347.4 L136.8 348.4 L137.4 348.5 L138.1 349.3 L138.7 348.8 L139.4 350.4 L140.0 348.9 L140.7 350.2 L141.4 350.6 L142.1 351.4 L142.8 350.8 L143.5 351.7 L144.1 351.4 L144.6 352.2 L145.0 352.8 L145.0 353.4 L70.0 353.4 Z" fill="url(#ht)" stroke="none"/>
<path d="M70.0 352.6 L70.4 352.6 L70.8 352.3 L71.4 352.1 L72.0 350.9 L72.7 351.2 L73.3 350.0 L74.0 351.4 L74.7 350.9 L75.4 350.2 L76.0 349.5 L76.6 349.2 L77.3 350.4 L77.9 349.9 L78.6 348.0 L79.2 348.5 L79.8 345.6 L80.4 344.6 L81.0 345.2 L81.5 344.2 L82.2 343.6 L82.8 343.4 L83.3 345.3 L83.9 340.5 L84.4 340.2 L85.0 339.4 L85.5 338.0 L86.1 337.9 L86.7 337.7 L87.3 332.5 L87.9 333.0 L88.5 331.0 L89.0 330.5 L89.6 326.1 L90.1 324.0 L90.5 321.3 L91.0 323.8 L91.5 321.3 L91.9 319.4 L92.3 313.5 L92.8 315.0 L93.2 312.5 L93.6 309.4 L94.0 308.3 L94.3 309.7 L94.7 307.7 L95.0 304.9 L95.3 304.3 L95.7 300.3 L96.0 299.9 L96.3 298.1 L96.6 297.4 L96.9 294.3 L97.2 292.3 L97.5 290.5 L97.8 287.5 L98.1 292.0 L98.5 286.2 L98.8 284.2 L99.2 286.5 L99.6 282.5 L100.0 273.5 L100.4 276.9 L100.8 275.3 L101.2 276.2 L101.5 273.3 L102.0 269.4 L102.4 262.6 L102.8 261.6 L103.3 262.7 L103.8 261.0 L104.4 254.4 L105.0 254.0 L105.5 252.9 L106.0 255.0 L106.4 258.1 L107.0 259.2 L107.4 258.2 L107.9 266.2 L108.5 268.8 L109.0 266.2 L109.5 270.8 L110.0 271.1 L110.4 273.4 L110.7 274.7 L111.1 273.6 L111.4 278.6 L111.7 281.5 L112.0 278.9 L112.3 287.3 L112.6 289.2 L112.9 290.3 L113.2 292.4 L113.6 291.7 L114.0 291.8 L114.3 292.7 L114.5 293.9 L114.8 297.6 L115.2 299.2 L115.5 302.5 L115.8 299.1 L116.2 309.5 L116.5 311.3 L116.8 308.8 L117.2 312.0 L117.5 313.4 L117.9 314.9 L118.2 316.0 L118.6 318.1 L118.9 318.8 L119.3 322.3 L119.6 323.8 L120.0 326.1 L120.3 326.0 L120.7 328.7 L121.0 330.1 L121.6 332.9 L122.2 332.2 L122.8 335.3 L123.4 337.1 L124.0 337.7 L124.6 337.6 L125.1 338.5 L125.7 339.8 L126.3 341.7 L126.9 343.4 L127.5 342.3 L128.1 342.5 L128.6 343.9 L129.2 344.1 L129.8 343.4 L130.4 343.9 L131.0 344.9 L131.5 346.0 L132.1 344.7 L132.6 345.2 L133.2 346.9 L133.8 345.8 L134.4 347.2 L135.0 347.8 L135.6 347.7 L136.2 347.4 L136.8 348.4 L137.4 348.5 L138.1 349.3 L138.7 348.8 L139.4 350.4 L140.0 348.9 L140.7 350.2 L141.4 350.6 L142.1 351.4 L142.8 350.8 L143.5 351.7 L144.1 351.4 L144.6 352.2 L145.0 352.8" fill="none" stroke="#111" stroke-width="1.6" stroke-linejoin="round"/>
<clipPath id="c34"><path d="M70.0 352.6 L70.4 352.6 L70.8 352.3 L71.4 352.1 L72.0 350.9 L72.7 351.2 L73.3 350.0 L74.0 351.4 L74.7 350.9 L75.4 350.2 L76.0 349.5 L76.6 349.2 L77.3 350.4 L77.9 349.9 L78.6 348.0 L79.2 348.5 L79.8 345.6 L80.4 344.6 L81.0 345.2 L81.5 344.2 L82.2 343.6 L82.8 343.4 L83.3 345.3 L83.9 340.5 L84.4 340.2 L85.0 339.4 L85.5 338.0 L86.1 337.9 L86.7 337.7 L87.3 332.5 L87.9 333.0 L88.5 331.0 L89.0 330.5 L89.6 326.1 L90.1 324.0 L90.5 321.3 L91.0 323.8 L91.5 321.3 L91.9 319.4 L92.3 313.5 L92.8 315.0 L93.2 312.5 L93.6 309.4 L94.0 308.3 L94.3 309.7 L94.7 307.7 L95.0 304.9 L95.3 304.3 L95.7 300.3 L96.0 299.9 L96.3 298.1 L96.6 297.4 L96.9 294.3 L97.2 292.3 L97.5 290.5 L97.8 287.5 L98.1 292.0 L98.5 286.2 L98.8 284.2 L99.2 286.5 L99.6 282.5 L100.0 273.5 L100.4 276.9 L100.8 275.3 L101.2 276.2 L101.5 273.3 L102.0 269.4 L102.4 262.6 L102.8 261.6 L103.3 262.7 L103.8 261.0 L104.4 254.4 L105.0 254.0 L105.5 252.9 L106.0 255.0 L106.4 258.1 L107.0 259.2 L107.4 258.2 L107.9 266.2 L108.5 268.8 L109.0 266.2 L109.5 270.8 L110.0 271.1 L110.4 273.4 L110.7 274.7 L111.1 273.6 L111.4 278.6 L111.7 281.5 L112.0 278.9 L112.3 287.3 L112.6 289.2 L112.9 290.3 L113.2 292.4 L113.6 291.7 L114.0 291.8 L114.3 292.7 L114.5 293.9 L114.8 297.6 L115.2 299.2 L115.5 302.5 L115.8 299.1 L116.2 309.5 L116.5 311.3 L116.8 308.8 L117.2 312.0 L117.5 313.4 L117.9 314.9 L118.2 316.0 L118.6 318.1 L118.9 318.8 L119.3 322.3 L119.6 323.8 L120.0 326.1 L120.3 326.0 L120.7 328.7 L121.0 330.1 L121.6 332.9 L122.2 332.2 L122.8 335.3 L123.4 337.1 L124.0 337.7 L124.6 337.6 L125.1 338.5 L125.7 339.8 L126.3 341.7 L126.9 343.4 L127.5 342.3 L128.1 342.5 L128.6 343.9 L129.2 344.1 L129.8 343.4 L130.4 343.9 L131.0 344.9 L131.5 346.0 L132.1 344.7 L132.6 345.2 L133.2 346.9 L133.8 345.8 L134.4 347.2 L135.0 347.8 L135.6 347.7 L136.2 347.4 L136.8 348.4 L137.4 348.5 L138.1 349.3 L138.7 348.8 L139.4 350.4 L140.0 348.9 L140.7 350.2 L141.4 350.6 L142.1 351.4 L142.8 350.8 L143.5 351.7 L144.1 351.4 L144.6 352.2 L145.0 352.8 L145.0 353.4 L70.0 353.4 Z"/></clipPath>
<path d="M47.0 340.4 L47.4 338.4 L48.0 338.6 L48.8 335.9 L49.6 334.6 L50.4 334.0 L51.2 329.3 L52.0 330.9 L52.7 328.5 L53.4 326.5 L54.1 326.4 L54.8 326.5 L55.6 323.5 L56.3 324.4 L56.9 319.7 L57.5 318.2 L58.3 320.3 L59.0 316.9 L59.7 316.1 L60.3 311.6 L61.0 312.2 L61.6 309.6 L62.3 308.4 L63.0 305.4 L63.7 305.4 L64.4 300.5 L65.0 298.4 L65.8 295.3 L66.6 298.1 L67.3 293.1 L68.0 291.1 L68.8 289.9 L69.5 289.4 L70.2 286.9 L71.0 288.5 L71.7 288.6 L72.5 290.1 L73.2 291.3 L74.0 295.1 L74.7 296.0 L75.4 299.0 L76.1 301.3 L76.8 303.6 L77.5 301.4 L78.2 306.0 L78.9 307.4 L79.6 311.7 L80.3 309.8 L81.0 312.9 L81.6 315.1 L82.3 316.5 L82.9 320.0 L83.6 319.4 L84.3 322.7 L85.0 320.5 L85.7 320.9 L86.4 325.8 L87.1 325.4 L87.8 326.0 L88.5 326.1 L89.3 327.1 L90.0 325.4 L90.7 328.7 L91.4 327.2 L92.1 329.5 L92.9 328.8 L93.6 326.6 L94.3 327.9 L95.0 331.4 L95.7 330.4 L96.4 330.8 L97.1 332.3 L97.9 332.3 L98.6 332.9 L99.3 334.4 L100.0 335.2 L100.7 337.4 L101.4 336.5 L102.1 339.2 L102.9 339.8 L103.6 340.4 L104.3 340.4 L105.0 340.1 L105.7 340.8 L106.4 341.1 L107.1 341.1 L107.9 342.3 L108.6 342.3 L109.3 344.9 L110.0 344.5 L110.7 344.1 L111.4 343.4 L112.1 345.5 L112.9 345.8 L113.6 345.7 L114.3 346.2 L115.0 345.8 L115.7 348.3 L116.4 348.3 L117.1 350.5 L117.9 349.0 L118.6 349.2 L119.3 350.6 L120.0 350.1 L120.8 350.4 L121.6 350.4 L122.4 350.6 L123.2 352.2 L123.9 352.1 L124.5 352.8 L125.0 351.8" clip-path="url(#c34)" fill="none" stroke="#111" stroke-width="1.5" stroke-dasharray="2 1.3" stroke-linejoin="round"/>
<path d="M47.0 340.4 L47.4 338.4 L48.0 338.6 L48.8 335.9 L49.6 334.6 L50.4 334.0 L51.2 329.3 L52.0 330.9 L52.7 328.5 L53.4 326.5 L54.1 326.4 L54.8 326.5 L55.6 323.5 L56.3 324.4 L56.9 319.7 L57.5 318.2 L58.3 320.3 L59.0 316.9 L59.7 316.1 L60.3 311.6 L61.0 312.2 L61.6 309.6 L62.3 308.4 L63.0 305.4 L63.7 305.4 L64.4 300.5 L65.0 298.4 L65.8 295.3 L66.6 298.1 L67.3 293.1 L68.0 291.1 L68.8 289.9 L69.5 289.4 L70.2 286.9 L71.0 288.5 L71.7 288.6 L72.5 290.1 L73.2 291.3 L74.0 295.1 L74.7 296.0 L75.4 299.0 L76.1 301.3 L76.8 303.6 L77.5 301.4 L78.2 306.0 L78.9 307.4 L79.6 311.7 L80.3 309.8 L81.0 312.9 L81.6 315.1 L82.3 316.5 L82.9 320.0 L83.6 319.4 L84.3 322.7 L85.0 320.5 L85.7 320.9 L86.4 325.8 L87.1 325.4 L87.8 326.0 L88.5 326.1 L89.3 327.1 L90.0 325.4 L90.7 328.7 L91.4 327.2 L92.1 329.5 L92.9 328.8 L93.6 326.6 L94.3 327.9 L95.0 331.4 L95.7 330.4 L96.4 330.8 L97.1 332.3 L97.9 332.3 L98.6 332.9 L99.3 334.4 L100.0 335.2 L100.7 337.4 L101.4 336.5 L102.1 339.2 L102.9 339.8 L103.6 340.4 L104.3 340.4 L105.0 340.1 L105.7 340.8 L106.4 341.1 L107.1 341.1 L107.9 342.3 L108.6 342.3 L109.3 344.9 L110.0 344.5 L110.7 344.1 L111.4 343.4 L112.1 345.5 L112.9 345.8 L113.6 345.7 L114.3 346.2 L115.0 345.8 L115.7 348.3 L116.4 348.3 L117.1 350.5 L117.9 349.0 L118.6 349.2 L119.3 350.6 L120.0 350.1 L120.8 350.4 L121.6 350.4 L122.4 350.6 L123.2 352.2 L123.9 352.1 L124.5 352.8 L125.0 351.8" fill="none" stroke="#505050" stroke-width="1.5" stroke-dasharray="1.4 1.5" stroke-linejoin="round"/>
<path d="M47.0 340.0 L47.4 338.3 L48.0 339.2 L48.8 335.4 L49.6 336.1 L50.4 335.2 L51.2 334.1 L52.0 329.9 L52.7 331.1 L53.4 327.4 L54.1 326.0 L54.8 323.8 L55.6 325.6 L56.3 324.9 L56.9 320.5 L57.5 318.9 L58.3 317.6 L59.0 320.0 L59.7 316.1 L60.3 312.1 L61.0 308.2 L61.6 308.2 L62.3 309.2 L63.0 308.4 L63.7 303.0 L64.4 300.5 L65.0 299.1 L65.8 294.6 L66.6 297.7 L67.3 292.5 L68.0 294.9 L68.8 288.5 L69.5 287.9 L70.2 289.8 L71.0 287.6 L71.7 291.1 L72.5 291.1 L73.2 290.9 L74.0 296.1 L74.7 298.2 L75.4 295.5 L76.1 304.0 L76.8 303.8 L77.5 306.2 L78.2 303.9 L78.9 307.6 L79.6 309.9 L80.3 313.9 L81.0 311.8 L81.6 314.2 L82.3 314.1 L82.9 318.2 L83.6 320.5 L84.3 319.0 L85.0 321.7 L85.7 324.1 L86.4 326.2 L87.1 325.7 L87.8 325.0 L88.5 324.4 L89.3 325.3 L90.0 326.1 L90.7 327.7 L91.4 327.8 L92.1 330.4 L92.9 329.0 L93.6 327.7 L94.3 331.4 L95.0 331.2 L95.7 330.7 L96.4 330.4 L97.1 329.8 L97.9 331.6 L98.6 334.6 L99.3 333.4 L100.0 333.5 L100.7 335.9 L101.4 336.7 L102.1 337.8 L102.9 338.6 L103.6 340.1 L104.3 338.5 L105.0 341.0 L105.7 339.7 L106.4 341.9 L107.1 342.0 L107.9 342.6 L108.6 343.8 L109.3 343.4 L110.0 345.0 L110.7 345.3 L111.4 345.2 L112.1 345.1 L112.9 345.5 L113.6 346.2 L114.3 346.9 L115.0 347.5 L115.7 350.1 L116.4 348.8 L117.1 349.2 L117.9 348.4 L118.6 348.9 L119.3 349.5 L120.0 350.1 L120.8 349.7 L121.6 351.7 L122.4 350.7 L123.2 351.9 L123.9 350.3 L124.5 351.8 L125.0 352.1" fill="none" stroke="#707070" stroke-width="1.2" stroke-dasharray="1 2" stroke-linejoin="round"/>
<path d="M70.0 352.4 L70.3 352.6 L70.7 352.2 L71.1 352.8 L71.6 352.8 L72.1 352.5 L72.7 352.1 L73.3 352.5 L73.9 352.8 L74.5 352.7 L75.2 352.6 L75.8 351.7 L76.5 352.1 L77.2 352.8 L77.9 351.9 L78.6 352.6 L79.3 352.9 L80.0 352.5 L80.7 352.6 L81.4 352.0 L82.1 351.7 L82.7 352.1 L83.3 352.0 L83.9 352.0 L84.5 352.3 L85.0 351.9 L85.7 352.0 L86.4 352.1 L87.1 351.9 L87.7 352.5 L88.4 351.9 L89.0 351.7 L89.6 351.5 L90.2 351.3 L90.8 352.0 L91.3 351.5 L91.9 350.9 L92.4 351.1 L92.9 351.2 L93.4 351.0 L94.0 351.6 L94.5 350.6 L95.0 351.2 L95.7 351.0 L96.4 350.3 L97.1 350.8 L97.8 350.7 L98.4 350.9 L99.0 350.4 L99.6 350.7 L100.2 349.7 L100.8 349.9 L101.4 350.6 L102.0 350.6 L102.5 350.0 L103.2 349.5 L103.9 350.0 L104.5 348.1 L105.1 348.5 L105.7 348.9 L106.3 348.6 L106.9 347.2 L107.4 346.3 L108.0 347.9 L108.6 346.6 L109.2 345.5 L109.8 345.6 L110.4 345.6 L111.0 342.7 L111.5 344.7 L112.0 343.8 L112.5 341.0 L113.3 341.5 L113.9 337.6 L114.4 338.1 L115.0 335.4 L115.4 335.6 L115.9 331.2 L116.3 330.2 L116.7 329.5 L117.1 326.0 L117.5 324.2 L117.8 322.9 L118.1 321.7 L118.3 318.9 L118.5 319.1 L118.7 317.5 L119.0 315.1 L119.3 315.5 L119.5 311.2 L119.8 311.6 L120.1 307.2 L120.4 307.2 L120.7 301.6 L121.0 302.8 L121.3 300.5 L121.6 298.3 L121.9 296.4 L122.1 295.0 L122.4 292.6 L122.7 288.5 L123.0 289.1 L123.3 287.3 L123.5 285.4 L123.8 282.5 L124.0 282.0 L124.3 281.5 L124.5 277.9 L124.8 275.7 L125.0 277.4 L125.4 274.4 L125.7 272.6 L126.0 271.4 L126.3 266.9 L126.6 265.5 L126.9 265.8 L127.3 260.8 L127.6 259.6 L128.0 258.7 L128.5 256.5 L129.0 253.2 L129.5 253.7 L130.0 249.6 L130.5 249.5 L130.9 248.6 L131.3 246.3 L131.9 244.4 L132.5 239.6 L133.0 240.2 L133.5 243.4 L134.0 248.0 L134.3 251.4 L134.6 247.7 L135.0 252.5 L135.3 252.1 L135.7 254.3 L136.0 257.0 L136.3 260.5 L136.7 261.3 L137.0 264.9 L137.3 262.6 L137.7 267.8 L138.0 269.7 L138.3 269.7 L138.6 272.1 L138.9 271.9 L139.1 272.7 L139.4 275.6 L139.7 277.0 L140.0 284.9 L140.2 280.9 L140.5 286.3 L140.8 285.7 L141.0 287.8 L141.2 290.4 L141.5 290.0 L141.8 294.5 L142.0 295.6 L142.2 294.6 L142.5 299.5 L142.7 301.2 L142.9 302.8 L143.1 306.3 L143.4 305.3 L143.7 308.6 L144.0 311.0 L144.3 310.5 L144.6 315.0 L144.9 313.6 L145.2 315.8 L145.5 320.0 L145.9 320.1 L146.2 323.2 L146.6 323.4 L146.9 327.0 L147.2 327.4 L147.5 330.3 L148.1 331.1 L148.6 335.0 L149.0 335.9 L149.5 337.6 L150.0 338.9 L150.6 340.9 L151.2 341.3 L151.8 341.9 L152.5 345.0 L153.0 345.2 L153.6 346.3 L154.2 347.5 L154.8 346.8 L155.4 348.1 L156.0 348.7 L156.5 348.9 L157.1 349.9 L157.7 350.0 L158.3 349.9 L158.8 350.1 L159.4 351.1 L160.0 350.7 L160.6 351.5 L161.3 351.7 L161.9 351.0 L162.6 351.6 L163.1 352.2 L163.6 352.5 L164.0 352.8" fill="none" stroke="#111" stroke-width="1.4" stroke-linejoin="round"/>
<path d="M45.0 189.0 V353.4 H276.0" fill="none" stroke="#0a0a0a" stroke-width="2.0"/>
<text x="190.0" y="239.6" font-family="'Liberation Serif', serif" font-size="15.4" fill="#111" stroke="#111" stroke-width="0.35">CD80</text>
</g>
<g>
<clipPath id="c43"><path d="M313.0 352.4 L313.4 350.9 L313.8 351.1 L314.4 349.6 L315.0 350.1 L315.6 349.8 L316.3 351.3 L317.0 350.3 L317.7 348.7 L318.4 349.8 L319.0 349.4 L319.6 348.5 L320.2 348.5 L320.9 347.9 L321.5 347.5 L322.2 346.0 L322.8 347.4 L323.4 348.4 L324.0 348.3 L324.6 346.0 L325.2 345.0 L325.9 344.8 L326.6 345.3 L327.2 343.7 L327.8 341.4 L328.5 341.6 L329.0 339.8 L329.6 339.8 L330.2 337.4 L330.8 334.6 L331.4 336.0 L332.0 336.1 L332.5 331.9 L333.1 332.5 L333.6 333.0 L334.2 329.3 L334.8 327.2 L335.3 330.6 L335.9 326.5 L336.5 325.1 L337.1 318.9 L337.6 322.5 L338.2 313.3 L338.7 314.1 L339.2 315.3 L339.7 314.9 L340.3 307.7 L340.8 306.5 L341.3 306.8 L341.7 299.6 L342.2 304.4 L342.6 302.4 L343.0 297.8 L343.4 298.6 L343.8 297.4 L344.1 294.3 L344.5 293.1 L344.8 294.2 L345.2 286.6 L345.6 286.5 L346.1 282.6 L346.5 285.5 L346.9 279.2 L347.4 280.2 L347.8 277.3 L348.2 275.2 L348.6 278.7 L349.0 270.9 L349.4 273.9 L349.8 270.1 L350.2 269.9 L350.6 263.1 L351.0 265.2 L351.5 262.5 L352.0 255.7 L352.5 257.0 L353.0 254.0 L353.5 252.9 L354.1 256.2 L354.7 247.6 L355.3 243.3 L356.0 242.6 L356.6 247.5 L357.2 247.2 L357.8 250.4 L358.4 253.2 L359.0 258.3 L359.6 253.9 L360.2 255.3 L360.8 252.0 L361.4 257.8 L362.0 261.8 L362.6 262.9 L363.2 252.9 L363.8 264.3 L364.4 268.2 L365.0 267.1 L365.5 260.8 L366.0 266.4 L366.5 270.8 L367.0 271.8 L367.4 269.4 L368.0 271.2 L368.5 278.7 L369.0 273.2 L369.5 283.7 L370.1 281.3 L370.6 284.1 L371.2 281.2 L371.7 285.2 L372.2 290.7 L372.6 286.2 L373.1 297.9 L373.5 289.7 L374.0 291.9 L374.5 297.2 L375.0 300.3 L375.4 302.6 L375.9 301.4 L376.4 303.7 L376.9 305.5 L377.4 306.5 L377.9 303.6 L378.4 313.9 L378.9 314.0 L379.4 315.4 L380.0 315.3 L380.5 318.9 L381.1 319.9 L381.7 321.2 L382.3 325.1 L382.8 320.8 L383.4 326.1 L384.0 325.0 L384.6 327.7 L385.2 332.4 L385.7 329.0 L386.3 332.0 L386.9 332.3 L387.5 336.0 L388.0 334.0 L388.6 333.9 L389.2 338.3 L389.9 337.9 L390.5 338.7 L391.1 341.4 L391.7 339.4 L392.3 340.8 L393.0 342.2 L393.6 343.2 L394.2 342.7 L394.8 345.3 L395.5 347.3 L396.1 344.9 L396.7 348.0 L397.4 344.3 L398.0 348.4 L398.6 347.1 L399.3 347.9 L399.9 347.8 L400.6 347.9 L401.2 347.6 L401.8 348.6 L402.4 350.3 L403.0 350.5 L403.7 349.5 L404.3 349.8 L405.0 350.0 L405.6 350.0 L406.2 352.3 L406.6 351.8 L407.0 351.6 L407.0 353.3 L313.0 353.3 Z"/></clipPath>
<path d="M290.0 335.9 L290.7 334.0 L291.5 329.5 L292.2 327.5 L293.0 326.0 L293.5 322.7 L294.1 322.7 L294.7 316.8 L295.4 317.9 L296.0 314.7 L296.8 309.8 L297.5 312.2 L298.2 309.2 L299.0 307.0 L299.8 303.9 L300.5 303.9 L301.2 306.0 L302.0 300.6 L302.6 294.4 L303.2 296.9 L303.8 294.2 L304.4 293.9 L305.0 291.3 L305.6 288.3 L306.1 286.4 L306.7 287.9 L307.2 281.0 L307.7 285.1 L308.0 278.3 L308.4 275.0 L308.7 276.5 L309.0 273.8 L309.3 268.2 L309.7 269.7 L310.0 262.1 L310.4 261.5 L310.8 263.1 L311.2 257.4 L311.6 252.7 L312.0 254.9 L312.4 255.0 L312.9 253.8 L313.3 252.3 L313.8 258.6 L314.2 262.8 L314.7 264.6 L315.2 265.9 L315.6 258.8 L316.1 255.2 L316.6 253.8 L317.0 255.7 L317.3 251.7 L317.7 258.4 L318.0 252.0 L318.3 262.4 L318.6 262.0 L319.0 267.0 L319.4 269.5 L319.8 267.8 L320.3 272.3 L320.7 275.2 L321.2 278.1 L321.6 277.2 L322.0 279.1 L322.5 279.8 L323.0 290.5 L323.4 287.5 L323.9 289.5 L324.3 289.3 L324.7 295.8 L325.1 295.3 L325.5 300.8 L325.9 301.7 L326.3 302.0 L326.9 305.0 L327.6 303.6 L328.3 306.2 L329.0 307.1 L329.6 306.9 L330.3 309.7 L331.0 310.2 L331.7 313.4 L332.4 306.9 L333.1 312.0 L333.8 312.7 L334.5 314.6 L335.3 317.0 L336.0 318.1 L336.7 318.6 L337.5 318.9 L338.2 321.2 L339.0 322.1 L339.7 320.1 L340.4 323.3 L341.1 322.9 L341.7 324.3 L342.4 327.1 L343.0 328.1 L343.7 329.4 L344.3 329.5 L345.0 331.5 L345.9 331.9 L346.4 334.0 L347.0 334.9 L347.7 336.7 L348.4 336.7 L349.1 334.9 L349.9 335.9 L350.6 335.9 L351.3 337.8 L352.0 340.1 L352.7 339.3 L353.3 336.8 L354.0 338.3 L354.7 338.8 L355.3 341.2 L356.0 341.2 L356.7 342.0 L357.3 343.9 L358.0 341.9 L358.7 342.4 L359.3 345.4 L360.0 344.5 L360.7 344.0 L361.3 343.4 L362.0 344.3 L362.7 344.1 L363.3 346.6 L364.0 347.0 L364.7 348.2 L365.4 347.9 L366.2 348.0 L367.0 348.5 L367.7 350.8 L368.4 348.8 L369.1 350.5 L369.6 350.7 L370.0 351.4" clip-path="url(#c43)" fill="none" stroke="#111" stroke-width="1.5" stroke-dasharray="2 1.3" stroke-linejoin="round"/>
<path d="M313.0 352.4 L313.4 350.9 L313.8 351.1 L314.4 349.6 L315.0 350.1 L315.6 349.8 L316.3 351.3 L317.0 350.3 L317.7 348.7 L318.4 349.8 L319.0 349.4 L319.6 348.5 L320.2 348.5 L320.9 347.9 L321.5 347.5 L322.2 346.0 L322.8 347.4 L323.4 348.4 L324.0 348.3 L324.6 346.0 L325.2 345.0 L325.9 344.8 L326.6 345.3 L327.2 343.7 L327.8 341.4 L328.5 341.6 L329.0 339.8 L329.6 339.8 L330.2 337.4 L330.8 334.6 L331.4 336.0 L332.0 336.1 L332.5 331.9 L333.1 332.5 L333.6 333.0 L334.2 329.3 L334.8 327.2 L335.3 330.6 L335.9 326.5 L336.5 325.1 L337.1 318.9 L337.6 322.5 L338.2 313.3 L338.7 314.1 L339.2 315.3 L339.7 314.9 L340.3 307.7 L340.8 306.5 L341.3 306.8 L341.7 299.6 L342.2 304.4 L342.6 302.4 L343.0 297.8 L343.4 298.6 L343.8 297.4 L344.1 294.3 L344.5 293.1 L344.8 294.2 L345.2 286.6 L345.6 286.5 L346.1 282.6 L346.5 285.5 L346.9 279.2 L347.4 280.2 L347.8 277.3 L348.2 275.2 L348.6 278.7 L349.0 270.9 L349.4 273.9 L349.8 270.1 L350.2 269.9 L350.6 263.1 L351.0 265.2 L351.5 262.5 L352.0 255.7 L352.5 257.0 L353.0 254.0 L353.5 252.9 L354.1 256.2 L354.7 247.6 L355.3 243.3 L356.0 242.6 L356.6 247.5 L357.2 247.2 L357.8 250.4 L358.4 253.2 L359.0 258.3 L359.6 253.9 L360.2 255.3 L360.8 252.0 L361.4 257.8 L362.0 261.8 L362.6 262.9 L363.2 252.9 L363.8 264.3 L364.4 268.2 L365.0 267.1 L365.5 260.8 L366.0 266.4 L366.5 270.8 L367.0 271.8 L367.4 269.4 L368.0 271.2 L368.5 278.7 L369.0 273.2 L369.5 283.7 L370.1 281.3 L370.6 284.1 L371.2 281.2 L371.7 285.2 L372.2 290.7 L372.6 286.2 L373.1 297.9 L373.5 289.7 L374.0 291.9 L374.5 297.2 L375.0 300.3 L375.4 302.6 L375.9 301.4 L376.4 303.7 L376.9 305.5 L377.4 306.5 L377.9 303.6 L378.4 313.9 L378.9 314.0 L379.4 315.4 L380.0 315.3 L380.5 318.9 L381.1 319.9 L381.7 321.2 L382.3 325.1 L382.8 320.8 L383.4 326.1 L384.0 325.0 L384.6 327.7 L385.2 332.4 L385.7 329.0 L386.3 332.0 L386.9 332.3 L387.5 336.0 L388.0 334.0 L388.6 333.9 L389.2 338.3 L389.9 337.9 L390.5 338.7 L391.1 341.4 L391.7 339.4 L392.3 340.8 L393.0 342.2 L393.6 343.2 L394.2 342.7 L394.8 345.3 L395.5 347.3 L396.1 344.9 L396.7 348.0 L397.4 344.3 L398.0 348.4 L398.6 347.1 L399.3 347.9 L399.9 347.8 L400.6 347.9 L401.2 347.6 L401.8 348.6 L402.4 350.3 L403.0 350.5 L403.7 349.5 L404.3 349.8 L405.0 350.0 L405.6 350.0 L406.2 352.3 L406.6 351.8 L407.0 351.6 L407.0 353.3 L313.0 353.3 Z" fill="url(#ht)" stroke="none"/>
<path d="M313.0 352.4 L313.4 350.9 L313.8 351.1 L314.4 349.6 L315.0 350.1 L315.6 349.8 L316.3 351.3 L317.0 350.3 L317.7 348.7 L318.4 349.8 L319.0 349.4 L319.6 348.5 L320.2 348.5 L320.9 347.9 L321.5 347.5 L322.2 346.0 L322.8 347.4 L323.4 348.4 L324.0 348.3 L324.6 346.0 L325.2 345.0 L325.9 344.8 L326.6 345.3 L327.2 343.7 L327.8 341.4 L328.5 341.6 L329.0 339.8 L329.6 339.8 L330.2 337.4 L330.8 334.6 L331.4 336.0 L332.0 336.1 L332.5 331.9 L333.1 332.5 L333.6 333.0 L334.2 329.3 L334.8 327.2 L335.3 330.6 L335.9 326.5 L336.5 325.1 L337.1 318.9 L337.6 322.5 L338.2 313.3 L338.7 314.1 L339.2 315.3 L339.7 314.9 L340.3 307.7 L340.8 306.5 L341.3 306.8 L341.7 299.6 L342.2 304.4 L342.6 302.4 L343.0 297.8 L343.4 298.6 L343.8 297.4 L344.1 294.3 L344.5 293.1 L344.8 294.2 L345.2 286.6 L345.6 286.5 L346.1 282.6 L346.5 285.5 L346.9 279.2 L347.4 280.2 L347.8 277.3 L348.2 275.2 L348.6 278.7 L349.0 270.9 L349.4 273.9 L349.8 270.1 L350.2 269.9 L350.6 263.1 L351.0 265.2 L351.5 262.5 L352.0 255.7 L352.5 257.0 L353.0 254.0 L353.5 252.9 L354.1 256.2 L354.7 247.6 L355.3 243.3 L356.0 242.6 L356.6 247.5 L357.2 247.2 L357.8 250.4 L358.4 253.2 L359.0 258.3 L359.6 253.9 L360.2 255.3 L360.8 252.0 L361.4 257.8 L362.0 261.8 L362.6 262.9 L363.2 252.9 L363.8 264.3 L364.4 268.2 L365.0 267.1 L365.5 260.8 L366.0 266.4 L366.5 270.8 L367.0 271.8 L367.4 269.4 L368.0 271.2 L368.5 278.7 L369.0 273.2 L369.5 283.7 L370.1 281.3 L370.6 284.1 L371.2 281.2 L371.7 285.2 L372.2 290.7 L372.6 286.2 L373.1 297.9 L373.5 289.7 L374.0 291.9 L374.5 297.2 L375.0 300.3 L375.4 302.6 L375.9 301.4 L376.4 303.7 L376.9 305.5 L377.4 306.5 L377.9 303.6 L378.4 313.9 L378.9 314.0 L379.4 315.4 L380.0 315.3 L380.5 318.9 L381.1 319.9 L381.7 321.2 L382.3 325.1 L382.8 320.8 L383.4 326.1 L384.0 325.0 L384.6 327.7 L385.2 332.4 L385.7 329.0 L386.3 332.0 L386.9 332.3 L387.5 336.0 L388.0 334.0 L388.6 333.9 L389.2 338.3 L389.9 337.9 L390.5 338.7 L391.1 341.4 L391.7 339.4 L392.3 340.8 L393.0 342.2 L393.6 343.2 L394.2 342.7 L394.8 345.3 L395.5 347.3 L396.1 344.9 L396.7 348.0 L397.4 344.3 L398.0 348.4 L398.6 347.1 L399.3 347.9 L399.9 347.8 L400.6 347.9 L401.2 347.6 L401.8 348.6 L402.4 350.3 L403.0 350.5 L403.7 349.5 L404.3 349.8 L405.0 350.0 L405.6 350.0 L406.2 352.3 L406.6 351.8 L407.0 351.6" fill="none" stroke="#111" stroke-width="1.6" stroke-linejoin="round"/>
<clipPath id="c47"><path d="M313.0 352.4 L313.4 350.9 L313.8 351.1 L314.4 349.6 L315.0 350.1 L315.6 349.8 L316.3 351.3 L317.0 350.3 L317.7 348.7 L318.4 349.8 L319.0 349.4 L319.6 348.5 L320.2 348.5 L320.9 347.9 L321.5 347.5 L322.2 346.0 L322.8 347.4 L323.4 348.4 L324.0 348.3 L324.6 346.0 L325.2 345.0 L325.9 344.8 L326.6 345.3 L327.2 343.7 L327.8 341.4 L328.5 341.6 L329.0 339.8 L329.6 339.8 L330.2 337.4 L330.8 334.6 L331.4 336.0 L332.0 336.1 L332.5 331.9 L333.1 332.5 L333.6 333.0 L334.2 329.3 L334.8 327.2 L335.3 330.6 L335.9 326.5 L336.5 325.1 L337.1 318.9 L337.6 322.5 L338.2 313.3 L338.7 314.1 L339.2 315.3 L339.7 314.9 L340.3 307.7 L340.8 306.5 L341.3 306.8 L341.7 299.6 L342.2 304.4 L342.6 302.4 L343.0 297.8 L343.4 298.6 L343.8 297.4 L344.1 294.3 L344.5 293.1 L344.8 294.2 L345.2 286.6 L345.6 286.5 L346.1 282.6 L346.5 285.5 L346.9 279.2 L347.4 280.2 L347.8 277.3 L348.2 275.2 L348.6 278.7 L349.0 270.9 L349.4 273.9 L349.8 270.1 L350.2 269.9 L350.6 263.1 L351.0 265.2 L351.5 262.5 L352.0 255.7 L352.5 257.0 L353.0 254.0 L353.5 252.9 L354.1 256.2 L354.7 247.6 L355.3 243.3 L356.0 242.6 L356.6 247.5 L357.2 247.2 L357.8 250.4 L358.4 253.2 L359.0 258.3 L359.6 253.9 L360.2 255.3 L360.8 252.0 L361.4 257.8 L362.0 261.8 L362.6 262.9 L363.2 252.9 L363.8 264.3 L364.4 268.2 L365.0 267.1 L365.5 260.8 L366.0 266.4 L366.5 270.8 L367.0 271.8 L367.4 269.4 L368.0 271.2 L368.5 278.7 L369.0 273.2 L369.5 283.7 L370.1 281.3 L370.6 284.1 L371.2 281.2 L371.7 285.2 L372.2 290.7 L372.6 286.2 L373.1 297.9 L373.5 289.7 L374.0 291.9 L374.5 297.2 L375.0 300.3 L375.4 302.6 L375.9 301.4 L376.4 303.7 L376.9 305.5 L377.4 306.5 L377.9 303.6 L378.4 313.9 L378.9 314.0 L379.4 315.4 L380.0 315.3 L380.5 318.9 L381.1 319.9 L381.7 321.2 L382.3 325.1 L382.8 320.8 L383.4 326.1 L384.0 325.0 L384.6 327.7 L385.2 332.4 L385.7 329.0 L386.3 332.0 L386.9 332.3 L387.5 336.0 L388.0 334.0 L388.6 333.9 L389.2 338.3 L389.9 337.9 L390.5 338.7 L391.1 341.4 L391.7 339.4 L392.3 340.8 L393.0 342.2 L393.6 343.2 L394.2 342.7 L394.8 345.3 L395.5 347.3 L396.1 344.9 L396.7 348.0 L397.4 344.3 L398.0 348.4 L398.6 347.1 L399.3 347.9 L399.9 347.8 L400.6 347.9 L401.2 347.6 L401.8 348.6 L402.4 350.3 L403.0 350.5 L403.7 349.5 L404.3 349.8 L405.0 350.0 L405.6 350.0 L406.2 352.3 L406.6 351.8 L407.0 351.6 L407.0 353.3 L313.0 353.3 Z"/></clipPath>
<path d="M290.0 335.9 L290.7 334.0 L291.5 329.5 L292.2 327.5 L293.0 326.0 L293.5 322.7 L294.1 322.7 L294.7 316.8 L295.4 317.9 L296.0 314.7 L296.8 309.8 L297.5 312.2 L298.2 309.2 L299.0 307.0 L299.8 303.9 L300.5 303.9 L301.2 306.0 L302.0 300.6 L302.6 294.4 L303.2 296.9 L303.8 294.2 L304.4 293.9 L305.0 291.3 L305.6 288.3 L306.1 286.4 L306.7 287.9 L307.2 281.0 L307.7 285.1 L308.0 278.3 L308.4 275.0 L308.7 276.5 L309.0 273.8 L309.3 268.2 L309.7 269.7 L310.0 262.1 L310.4 261.5 L310.8 263.1 L311.2 257.4 L311.6 252.7 L312.0 254.9 L312.4 255.0 L312.9 253.8 L313.3 252.3 L313.8 258.6 L314.2 262.8 L314.7 264.6 L315.2 265.9 L315.6 258.8 L316.1 255.2 L316.6 253.8 L317.0 255.7 L317.3 251.7 L317.7 258.4 L318.0 252.0 L318.3 262.4 L318.6 262.0 L319.0 267.0 L319.4 269.5 L319.8 267.8 L320.3 272.3 L320.7 275.2 L321.2 278.1 L321.6 277.2 L322.0 279.1 L322.5 279.8 L323.0 290.5 L323.4 287.5 L323.9 289.5 L324.3 289.3 L324.7 295.8 L325.1 295.3 L325.5 300.8 L325.9 301.7 L326.3 302.0 L326.9 305.0 L327.6 303.6 L328.3 306.2 L329.0 307.1 L329.6 306.9 L330.3 309.7 L331.0 310.2 L331.7 313.4 L332.4 306.9 L333.1 312.0 L333.8 312.7 L334.5 314.6 L335.3 317.0 L336.0 318.1 L336.7 318.6 L337.5 318.9 L338.2 321.2 L339.0 322.1 L339.7 320.1 L340.4 323.3 L341.1 322.9 L341.7 324.3 L342.4 327.1 L343.0 328.1 L343.7 329.4 L344.3 329.5 L345.0 331.5 L345.9 331.9 L346.4 334.0 L347.0 334.9 L347.7 336.7 L348.4 336.7 L349.1 334.9 L349.9 335.9 L350.6 335.9 L351.3 337.8 L352.0 340.1 L352.7 339.3 L353.3 336.8 L354.0 338.3 L354.7 338.8 L355.3 341.2 L356.0 341.2 L356.7 342.0 L357.3 343.9 L358.0 341.9 L358.7 342.4 L359.3 345.4 L360.0 344.5 L360.7 344.0 L361.3 343.4 L362.0 344.3 L362.7 344.1 L363.3 346.6 L364.0 347.0 L364.7 348.2 L365.4 347.9 L366.2 348.0 L367.0 348.5 L367.7 350.8 L368.4 348.8 L369.1 350.5 L369.6 350.7 L370.0 351.4" clip-path="url(#c47)" fill="none" stroke="#111" stroke-width="1.5" stroke-dasharray="2 1.3" stroke-linejoin="round"/>
<path d="M290.0 335.9 L290.7 334.0 L291.5 329.5 L292.2 327.5 L293.0 326.0 L293.5 322.7 L294.1 322.7 L294.7 316.8 L295.4 317.9 L296.0 314.7 L296.8 309.8 L297.5 312.2 L298.2 309.2 L299.0 307.0 L299.8 303.9 L300.5 303.9 L301.2 306.0 L302.0 300.6 L302.6 294.4 L303.2 296.9 L303.8 294.2 L304.4 293.9 L305.0 291.3 L305.6 288.3 L306.1 286.4 L306.7 287.9 L307.2 281.0 L307.7 285.1 L308.0 278.3 L308.4 275.0 L308.7 276.5 L309.0 273.8 L309.3 268.2 L309.7 269.7 L310.0 262.1 L310.4 261.5 L310.8 263.1 L311.2 257.4 L311.6 252.7 L312.0 254.9 L312.4 255.0 L312.9 253.8 L313.3 252.3 L313.8 258.6 L314.2 262.8 L314.7 264.6 L315.2 265.9 L315.6 258.8 L316.1 255.2 L316.6 253.8 L317.0 255.7 L317.3 251.7 L317.7 258.4 L318.0 252.0 L318.3 262.4 L318.6 262.0 L319.0 267.0 L319.4 269.5 L319.8 267.8 L320.3 272.3 L320.7 275.2 L321.2 278.1 L321.6 277.2 L322.0 279.1 L322.5 279.8 L323.0 290.5 L323.4 287.5 L323.9 289.5 L324.3 289.3 L324.7 295.8 L325.1 295.3 L325.5 300.8 L325.9 301.7 L326.3 302.0 L326.9 305.0 L327.6 303.6 L328.3 306.2 L329.0 307.1 L329.6 306.9 L330.3 309.7 L331.0 310.2 L331.7 313.4 L332.4 306.9 L333.1 312.0 L333.8 312.7 L334.5 314.6 L335.3 317.0 L336.0 318.1 L336.7 318.6 L337.5 318.9 L338.2 321.2 L339.0 322.1 L339.7 320.1 L340.4 323.3 L341.1 322.9 L341.7 324.3 L342.4 327.1 L343.0 328.1 L343.7 329.4 L344.3 329.5 L345.0 331.5 L345.9 331.9 L346.4 334.0 L347.0 334.9 L347.7 336.7 L348.4 336.7 L349.1 334.9 L349.9 335.9 L350.6 335.9 L351.3 337.8 L352.0 340.1 L352.7 339.3 L353.3 336.8 L354.0 338.3 L354.7 338.8 L355.3 341.2 L356.0 341.2 L356.7 342.0 L357.3 343.9 L358.0 341.9 L358.7 342.4 L359.3 345.4 L360.0 344.5 L360.7 344.0 L361.3 343.4 L362.0 344.3 L362.7 344.1 L363.3 346.6 L364.0 347.0 L364.7 348.2 L365.4 347.9 L366.2 348.0 L367.0 348.5 L367.7 350.8 L368.4 348.8 L369.1 350.5 L369.6 350.7 L370.0 351.4" fill="none" stroke="#505050" stroke-width="1.5" stroke-dasharray="1.4 1.5" stroke-linejoin="round"/>
<path d="M290.0 334.5 L290.7 333.4 L291.5 331.0 L292.2 327.6 L293.0 324.4 L293.5 323.0 L294.1 319.9 L294.7 318.8 L295.4 316.5 L296.0 315.3 L296.8 314.8 L297.5 312.7 L298.2 308.0 L299.0 308.0 L299.8 306.1 L300.5 305.9 L301.2 303.6 L302.0 302.4 L302.6 299.5 L303.2 297.0 L303.8 297.8 L304.4 296.4 L305.0 293.2 L305.6 290.8 L306.1 288.5 L306.7 285.1 L307.2 280.4 L307.7 282.6 L308.0 279.7 L308.4 276.1 L308.7 273.0 L309.0 275.2 L309.3 266.6 L309.7 271.8 L310.0 267.3 L310.4 268.5 L310.8 259.1 L311.2 257.9 L311.6 254.4 L312.0 254.2 L312.4 252.5 L312.9 252.2 L313.3 258.7 L313.8 257.6 L314.2 260.8 L314.7 264.2 L315.2 260.8 L315.6 258.4 L316.1 257.1 L316.6 253.0 L317.0 250.2 L317.3 253.6 L317.7 255.1 L318.0 261.6 L318.3 258.3 L318.6 265.5 L319.0 264.4 L319.4 267.3 L319.8 269.6 L320.3 273.0 L320.7 276.5 L321.2 280.4 L321.6 277.8 L322.0 283.6 L322.5 285.4 L323.0 287.3 L323.4 286.5 L323.9 291.6 L324.3 291.8 L324.7 294.8 L325.1 295.8 L325.5 299.5 L325.9 302.2 L326.3 303.9 L326.9 303.5 L327.6 307.0 L328.3 309.1 L329.0 306.5 L329.6 311.2 L330.3 307.6 L331.0 311.2 L331.7 312.1 L332.4 314.3 L333.1 313.4 L333.8 313.4 L334.5 314.1 L335.3 314.6 L336.0 318.6 L336.7 318.2 L337.5 318.5 L338.2 321.3 L339.0 320.5 L339.7 322.0 L340.4 323.1 L341.1 327.0 L341.7 327.8 L342.4 326.7 L343.0 326.0 L343.7 329.6 L344.3 330.6 L345.0 332.2 L345.9 333.7 L346.4 333.2 L347.0 335.2 L347.7 335.6 L348.4 335.5 L349.1 335.4 L349.9 335.8 L350.6 337.7 L351.3 336.3 L352.0 337.8 L352.7 337.8 L353.3 337.6 L354.0 340.2 L354.7 340.1 L355.3 340.7 L356.0 342.0 L356.7 340.3 L357.3 342.1 L358.0 343.0 L358.7 344.0 L359.3 342.7 L360.0 344.8 L360.7 344.8 L361.3 346.3 L362.0 346.6 L362.7 346.5 L363.3 348.3 L364.0 347.0 L364.7 347.2 L365.4 347.7 L366.2 347.8 L367.0 349.0 L367.7 348.2 L368.4 349.9 L369.1 350.7 L369.6 351.3 L370.0 350.8" fill="none" stroke="#707070" stroke-width="1.2" stroke-dasharray="1 2" stroke-linejoin="round"/>
<path d="M315.0 350.7 L315.3 350.4 L315.7 351.6 L316.2 351.3 L316.7 350.3 L317.2 351.3 L317.8 350.1 L318.4 351.0 L319.0 350.1 L319.7 350.3 L320.4 350.7 L321.1 350.6 L321.8 350.9 L322.4 349.8 L323.1 351.1 L323.8 350.9 L324.4 350.1 L325.0 350.3 L325.6 349.5 L326.2 349.8 L326.8 349.1 L327.3 349.8 L327.9 349.9 L328.5 350.5 L329.1 350.2 L329.7 350.1 L330.3 349.3 L330.8 349.3 L331.4 349.2 L332.0 349.5 L332.6 348.1 L333.2 349.7 L333.8 348.2 L334.4 348.8 L335.0 349.0 L335.6 348.6 L336.2 349.9 L336.8 348.7 L337.4 349.7 L338.0 349.3 L338.7 348.1 L339.3 348.6 L340.0 349.1 L340.6 347.9 L341.2 348.1 L341.8 347.5 L342.4 347.8 L343.0 347.4 L343.6 347.6 L344.1 348.1 L344.6 348.3 L345.1 347.2 L345.5 347.2 L346.3 347.3 L347.0 346.1 L347.6 345.2 L348.1 346.6 L348.5 344.5 L349.0 345.7 L349.5 343.6 L350.0 345.6 L350.6 342.6 L351.2 343.8 L351.9 343.9 L352.5 341.0 L353.2 342.9 L353.8 340.0 L354.4 338.4 L355.0 340.4 L355.6 339.6 L356.2 337.9 L356.8 334.6 L357.4 336.5 L357.9 335.4 L358.5 334.4 L359.0 333.7 L359.6 330.7 L360.2 331.1 L360.8 333.0 L361.4 331.5 L362.0 327.8 L362.5 326.0 L363.1 326.1 L363.7 325.5 L364.3 323.5 L364.9 319.0 L365.5 319.3 L366.0 317.7 L366.5 318.2 L367.1 316.2 L367.6 313.4 L368.1 312.8 L368.6 308.3 L369.1 310.0 L369.6 304.6 L370.0 304.3 L370.5 303.4 L371.0 298.1 L371.5 296.6 L372.0 292.7 L372.6 294.7 L373.1 292.5 L373.7 290.1 L374.3 289.9 L374.8 282.5 L375.3 285.3 L375.7 283.8 L376.2 281.2 L376.6 281.8 L377.1 282.2 L377.6 275.6 L378.0 272.9 L378.6 271.6 L379.2 271.3 L379.8 270.7 L380.4 265.5 L381.0 268.2 L381.6 261.4 L382.2 264.1 L382.8 261.2 L383.4 259.6 L384.0 262.4 L384.7 254.9 L385.3 254.1 L385.9 254.9 L386.5 255.2 L387.0 249.0 L387.5 252.8 L388.0 250.1 L388.6 253.6 L389.1 255.7 L389.7 252.5 L390.3 252.5 L390.9 253.8 L391.5 246.5 L392.0 256.7 L392.6 256.9 L393.1 256.8 L393.7 256.4 L394.3 256.6 L394.8 259.2 L395.4 264.0 L396.0 262.3 L396.6 267.4 L397.2 259.8 L397.8 266.9 L398.2 270.3 L398.6 271.3 L399.0 269.4 L399.4 273.6 L399.8 279.9 L400.2 276.2 L400.6 278.8 L400.9 280.3 L401.3 283.2 L401.6 287.4 L401.9 289.0 L402.2 285.3 L402.6 294.3 L402.9 291.9 L403.3 293.8 L403.7 300.1 L404.0 298.5 L404.4 298.3 L404.8 301.5 L405.2 303.4 L405.6 304.9 L406.0 308.0 L406.4 311.9 L406.8 312.6 L407.3 311.9 L407.9 320.7 L408.4 316.4 L408.9 319.8 L409.4 321.3 L409.9 324.1 L410.4 324.3 L410.9 327.2 L411.5 331.2 L412.0 330.1 L412.5 330.2 L413.0 333.4 L413.6 333.5 L414.1 335.2 L414.7 337.0 L415.3 338.2 L416.0 338.7 L416.5 340.7 L417.0 340.4 L417.5 340.2 L418.1 343.1 L418.7 342.8 L419.3 345.0 L419.9 344.1 L420.5 345.8 L421.1 346.1 L421.6 344.2 L422.2 345.6 L422.8 346.3 L423.4 348.6 L424.0 346.6 L424.7 348.9 L425.3 349.4 L426.0 349.3 L426.6 349.7 L427.2 349.3 L427.9 349.9 L428.6 350.3 L429.3 350.7 L430.0 351.1 L430.6 350.9 L431.2 350.9 L431.8 351.2 L432.2 351.8 L432.6 351.1" fill="none" stroke="#111" stroke-width="1.8" stroke-linejoin="round"/>
<path d="M288.4 189.0 V353.3 H518.0" fill="none" stroke="#0a0a0a" stroke-width="1.7"/>
<text x="432.6" y="232.6" font-family="'Liberation Serif', serif" font-size="15.4" fill="#111" stroke="#111" stroke-width="0.35">CD40</text>
</g>
<g>
<clipPath id="c56"><path d="M47.0 524.9 L47.4 523.5 L47.9 524.7 L48.5 521.4 L49.2 522.2 L50.0 520.5 L50.7 520.6 L51.4 520.1 L52.0 519.9 L52.7 519.7 L53.3 517.5 L53.9 516.2 L54.5 516.5 L55.1 516.2 L55.7 514.2 L56.3 514.8 L56.9 514.4 L57.5 509.3 L58.1 509.8 L58.6 508.9 L59.2 503.3 L59.8 504.3 L60.3 501.9 L60.8 498.5 L61.2 500.9 L61.6 497.6 L62.0 494.9 L62.5 494.6 L62.9 493.2 L63.3 491.6 L63.7 489.5 L64.1 487.6 L64.4 483.1 L64.8 482.8 L65.2 482.0 L65.6 474.9 L65.9 482.3 L66.3 475.7 L66.6 472.6 L67.0 469.2 L67.3 471.7 L67.6 469.6 L67.9 466.6 L68.2 465.2 L68.5 462.4 L68.8 460.9 L69.1 460.6 L69.4 457.6 L69.7 458.9 L70.0 455.3 L70.3 454.1 L70.6 452.8 L71.0 453.0 L71.3 449.6 L71.6 446.8 L71.9 444.1 L72.2 440.8 L72.4 440.2 L72.7 441.2 L73.1 437.8 L73.4 434.1 L73.7 429.8 L73.9 427.3 L74.2 430.4 L74.5 430.5 L74.9 426.8 L75.2 420.3 L75.6 421.7 L75.9 421.3 L76.3 416.7 L76.9 417.7 L77.4 414.1 L78.0 411.8 L78.4 411.5 L78.8 418.8 L79.1 419.5 L79.6 418.5 L80.0 420.5 L80.3 427.2 L80.6 428.2 L80.9 427.7 L81.3 434.5 L81.6 431.6 L81.9 431.6 L82.2 438.9 L82.5 437.5 L82.8 440.7 L83.0 441.7 L83.2 440.9 L83.4 442.2 L83.6 446.4 L83.8 452.0 L84.0 448.3 L84.2 455.5 L84.5 454.8 L84.7 453.7 L85.0 458.7 L85.2 461.4 L85.5 460.1 L85.7 459.4 L86.0 466.5 L86.3 465.5 L86.6 470.6 L86.9 467.8 L87.1 473.2 L87.4 473.7 L87.7 474.3 L88.0 478.5 L88.3 481.1 L88.6 481.5 L88.8 482.2 L89.1 486.4 L89.4 484.8 L89.7 490.4 L90.0 491.9 L90.4 495.6 L90.8 496.1 L91.2 497.0 L91.6 498.5 L92.1 499.7 L92.5 499.3 L93.1 505.3 L93.7 506.0 L94.3 506.7 L95.0 507.4 L95.5 511.6 L96.1 511.4 L96.7 510.4 L97.3 513.4 L97.9 515.6 L98.5 514.3 L99.0 515.5 L99.6 515.3 L100.1 515.8 L100.7 518.2 L101.2 520.7 L101.8 518.5 L102.5 518.8 L103.0 520.0 L103.6 519.3 L104.2 520.5 L104.8 520.9 L105.4 519.6 L106.0 519.8 L106.6 520.8 L107.3 521.8 L108.0 521.6 L108.5 522.6 L109.0 520.8 L109.6 522.4 L110.1 521.8 L110.7 522.6 L111.2 522.9 L111.8 522.2 L112.4 523.0 L113.0 522.5 L113.6 523.7 L114.3 523.2 L115.0 523.6 L115.5 524.2 L116.1 523.9 L116.7 525.1 L117.4 524.2 L118.0 525.3 L118.7 525.1 L119.4 524.5 L120.1 525.2 L120.8 525.0 L121.4 525.4 L122.1 525.6 L122.7 526.9 L123.3 525.9 L123.8 526.9 L124.3 526.5 L124.7 525.8 L125.0 525.4 L125.0 527.8 L47.0 527.8 Z"/></clipPath>
<path d="M47.0 517.8 L47.6 517.3 L48.3 515.5 L49.2 513.8 L50.0 509.6 L50.6 510.5 L51.2 509.3 L51.8 509.0 L52.5 504.0 L53.1 504.0 L53.9 502.8 L54.6 500.5 L55.3 499.0 L56.0 496.5 L56.5 491.7 L57.0 492.1 L57.5 488.7 L58.0 486.0 L58.5 487.5 L59.0 482.5 L59.8 479.7 L60.5 478.2 L61.2 475.4 L62.0 476.5 L62.8 473.8 L63.5 474.0 L64.2 470.8 L65.0 467.2 L65.6 468.4 L66.2 463.5 L66.9 461.7 L67.5 460.3 L68.0 458.8 L68.6 458.8 L69.1 453.5 L69.5 453.3 L70.0 450.5 L70.5 445.9 L71.0 443.8 L71.5 443.1 L72.0 442.3 L72.7 439.3 L73.3 437.0 L74.0 435.5 L74.4 435.5 L74.8 439.3 L75.2 438.9 L75.6 441.1 L76.0 445.9 L76.2 445.6 L76.5 449.3 L76.8 451.0 L77.0 453.5 L77.2 456.6 L77.5 457.3 L77.8 460.1 L78.0 459.7 L78.3 465.4 L78.6 466.0 L78.8 470.4 L79.1 467.2 L79.5 472.6 L80.0 476.3 L80.6 473.5 L81.2 478.3 L81.9 480.4 L82.7 481.7 L83.5 480.4 L84.3 484.2 L85.0 485.2 L85.7 484.6 L86.5 488.0 L87.2 487.6 L87.9 488.5 L88.6 488.6 L89.3 490.9 L90.0 491.2 L90.7 493.9 L91.4 494.3 L92.1 494.2 L92.7 496.2 L93.4 499.0 L94.0 498.7 L94.7 501.2 L95.4 502.9 L96.1 503.5 L96.7 502.3 L97.5 506.4 L98.2 507.3 L98.9 508.0 L99.6 507.7 L100.4 510.4 L101.2 509.5 L102.0 509.6 L102.6 510.0 L103.3 511.6 L104.0 510.5 L104.8 511.1 L105.5 514.6 L106.2 514.3 L106.9 514.4 L107.5 515.2 L108.3 515.0 L109.0 513.4 L109.8 516.7 L110.5 517.3 L111.2 517.2 L112.0 515.6 L112.6 519.0 L113.3 519.6 L114.0 518.5 L114.7 519.6 L115.4 520.6 L116.1 520.4 L116.8 521.8 L117.5 521.5 L118.2 522.3 L118.9 522.2 L119.6 521.4 L120.3 522.1 L121.0 525.3 L121.7 523.6 L122.4 524.5 L123.0 524.7 L123.9 525.4 L124.7 525.1 L125.6 524.8 L126.4 525.5 L127.0 524.7 L127.5 525.9" clip-path="url(#c56)" fill="none" stroke="#111" stroke-width="1.5" stroke-dasharray="2 1.3" stroke-linejoin="round"/>
<path d="M47.0 524.9 L47.4 523.5 L47.9 524.7 L48.5 521.4 L49.2 522.2 L50.0 520.5 L50.7 520.6 L51.4 520.1 L52.0 519.9 L52.7 519.7 L53.3 517.5 L53.9 516.2 L54.5 516.5 L55.1 516.2 L55.7 514.2 L56.3 514.8 L56.9 514.4 L57.5 509.3 L58.1 509.8 L58.6 508.9 L59.2 503.3 L59.8 504.3 L60.3 501.9 L60.8 498.5 L61.2 500.9 L61.6 497.6 L62.0 494.9 L62.5 494.6 L62.9 493.2 L63.3 491.6 L63.7 489.5 L64.1 487.6 L64.4 483.1 L64.8 482.8 L65.2 482.0 L65.6 474.9 L65.9 482.3 L66.3 475.7 L66.6 472.6 L67.0 469.2 L67.3 471.7 L67.6 469.6 L67.9 466.6 L68.2 465.2 L68.5 462.4 L68.8 460.9 L69.1 460.6 L69.4 457.6 L69.7 458.9 L70.0 455.3 L70.3 454.1 L70.6 452.8 L71.0 453.0 L71.3 449.6 L71.6 446.8 L71.9 444.1 L72.2 440.8 L72.4 440.2 L72.7 441.2 L73.1 437.8 L73.4 434.1 L73.7 429.8 L73.9 427.3 L74.2 430.4 L74.5 430.5 L74.9 426.8 L75.2 420.3 L75.6 421.7 L75.9 421.3 L76.3 416.7 L76.9 417.7 L77.4 414.1 L78.0 411.8 L78.4 411.5 L78.8 418.8 L79.1 419.5 L79.6 418.5 L80.0 420.5 L80.3 427.2 L80.6 428.2 L80.9 427.7 L81.3 434.5 L81.6 431.6 L81.9 431.6 L82.2 438.9 L82.5 437.5 L82.8 440.7 L83.0 441.7 L83.2 440.9 L83.4 442.2 L83.6 446.4 L83.8 452.0 L84.0 448.3 L84.2 455.5 L84.5 454.8 L84.7 453.7 L85.0 458.7 L85.2 461.4 L85.5 460.1 L85.7 459.4 L86.0 466.5 L86.3 465.5 L86.6 470.6 L86.9 467.8 L87.1 473.2 L87.4 473.7 L87.7 474.3 L88.0 478.5 L88.3 481.1 L88.6 481.5 L88.8 482.2 L89.1 486.4 L89.4 484.8 L89.7 490.4 L90.0 491.9 L90.4 495.6 L90.8 496.1 L91.2 497.0 L91.6 498.5 L92.1 499.7 L92.5 499.3 L93.1 505.3 L93.7 506.0 L94.3 506.7 L95.0 507.4 L95.5 511.6 L96.1 511.4 L96.7 510.4 L97.3 513.4 L97.9 515.6 L98.5 514.3 L99.0 515.5 L99.6 515.3 L100.1 515.8 L100.7 518.2 L101.2 520.7 L101.8 518.5 L102.5 518.8 L103.0 520.0 L103.6 519.3 L104.2 520.5 L104.8 520.9 L105.4 519.6 L106.0 519.8 L106.6 520.8 L107.3 521.8 L108.0 521.6 L108.5 522.6 L109.0 520.8 L109.6 522.4 L110.1 521.8 L110.7 522.6 L111.2 522.9 L111.8 522.2 L112.4 523.0 L113.0 522.5 L113.6 523.7 L114.3 523.2 L115.0 523.6 L115.5 524.2 L116.1 523.9 L116.7 525.1 L117.4 524.2 L118.0 525.3 L118.7 525.1 L119.4 524.5 L120.1 525.2 L120.8 525.0 L121.4 525.4 L122.1 525.6 L122.7 526.9 L123.3 525.9 L123.8 526.9 L124.3 526.5 L124.7 525.8 L125.0 525.4 L125.0 527.8 L47.0 527.8 Z" fill="url(#ht)" stroke="none"/>
<path d="M47.0 524.9 L47.4 523.5 L47.9 524.7 L48.5 521.4 L49.2 522.2 L50.0 520.5 L50.7 520.6 L51.4 520.1 L52.0 519.9 L52.7 519.7 L53.3 517.5 L53.9 516.2 L54.5 516.5 L55.1 516.2 L55.7 514.2 L56.3 514.8 L56.9 514.4 L57.5 509.3 L58.1 509.8 L58.6 508.9 L59.2 503.3 L59.8 504.3 L60.3 501.9 L60.8 498.5 L61.2 500.9 L61.6 497.6 L62.0 494.9 L62.5 494.6 L62.9 493.2 L63.3 491.6 L63.7 489.5 L64.1 487.6 L64.4 483.1 L64.8 482.8 L65.2 482.0 L65.6 474.9 L65.9 482.3 L66.3 475.7 L66.6 472.6 L67.0 469.2 L67.3 471.7 L67.6 469.6 L67.9 466.6 L68.2 465.2 L68.5 462.4 L68.8 460.9 L69.1 460.6 L69.4 457.6 L69.7 458.9 L70.0 455.3 L70.3 454.1 L70.6 452.8 L71.0 453.0 L71.3 449.6 L71.6 446.8 L71.9 444.1 L72.2 440.8 L72.4 440.2 L72.7 441.2 L73.1 437.8 L73.4 434.1 L73.7 429.8 L73.9 427.3 L74.2 430.4 L74.5 430.5 L74.9 426.8 L75.2 420.3 L75.6 421.7 L75.9 421.3 L76.3 416.7 L76.9 417.7 L77.4 414.1 L78.0 411.8 L78.4 411.5 L78.8 418.8 L79.1 419.5 L79.6 418.5 L80.0 420.5 L80.3 427.2 L80.6 428.2 L80.9 427.7 L81.3 434.5 L81.6 431.6 L81.9 431.6 L82.2 438.9 L82.5 437.5 L82.8 440.7 L83.0 441.7 L83.2 440.9 L83.4 442.2 L83.6 446.4 L83.8 452.0 L84.0 448.3 L84.2 455.5 L84.5 454.8 L84.7 453.7 L85.0 458.7 L85.2 461.4 L85.5 460.1 L85.7 459.4 L86.0 466.5 L86.3 465.5 L86.6 470.6 L86.9 467.8 L87.1 473.2 L87.4 473.7 L87.7 474.3 L88.0 478.5 L88.3 481.1 L88.6 481.5 L88.8 482.2 L89.1 486.4 L89.4 484.8 L89.7 490.4 L90.0 491.9 L90.4 495.6 L90.8 496.1 L91.2 497.0 L91.6 498.5 L92.1 499.7 L92.5 499.3 L93.1 505.3 L93.7 506.0 L94.3 506.7 L95.0 507.4 L95.5 511.6 L96.1 511.4 L96.7 510.4 L97.3 513.4 L97.9 515.6 L98.5 514.3 L99.0 515.5 L99.6 515.3 L100.1 515.8 L100.7 518.2 L101.2 520.7 L101.8 518.5 L102.5 518.8 L103.0 520.0 L103.6 519.3 L104.2 520.5 L104.8 520.9 L105.4 519.6 L106.0 519.8 L106.6 520.8 L107.3 521.8 L108.0 521.6 L108.5 522.6 L109.0 520.8 L109.6 522.4 L110.1 521.8 L110.7 522.6 L111.2 522.9 L111.8 522.2 L112.4 523.0 L113.0 522.5 L113.6 523.7 L114.3 523.2 L115.0 523.6 L115.5 524.2 L116.1 523.9 L116.7 525.1 L117.4 524.2 L118.0 525.3 L118.7 525.1 L119.4 524.5 L120.1 525.2 L120.8 525.0 L121.4 525.4 L122.1 525.6 L122.7 526.9 L123.3 525.9 L123.8 526.9 L124.3 526.5 L124.7 525.8 L125.0 525.4" fill="none" stroke="#111" stroke-width="1.6" stroke-linejoin="round"/>
<clipPath id="c60"><path d="M47.0 524.9 L47.4 523.5 L47.9 524.7 L48.5 521.4 L49.2 522.2 L50.0 520.5 L50.7 520.6 L51.4 520.1 L52.0 519.9 L52.7 519.7 L53.3 517.5 L53.9 516.2 L54.5 516.5 L55.1 516.2 L55.7 514.2 L56.3 514.8 L56.9 514.4 L57.5 509.3 L58.1 509.8 L58.6 508.9 L59.2 503.3 L59.8 504.3 L60.3 501.9 L60.8 498.5 L61.2 500.9 L61.6 497.6 L62.0 494.9 L62.5 494.6 L62.9 493.2 L63.3 491.6 L63.7 489.5 L64.1 487.6 L64.4 483.1 L64.8 482.8 L65.2 482.0 L65.6 474.9 L65.9 482.3 L66.3 475.7 L66.6 472.6 L67.0 469.2 L67.3 471.7 L67.6 469.6 L67.9 466.6 L68.2 465.2 L68.5 462.4 L68.8 460.9 L69.1 460.6 L69.4 457.6 L69.7 458.9 L70.0 455.3 L70.3 454.1 L70.6 452.8 L71.0 453.0 L71.3 449.6 L71.6 446.8 L71.9 444.1 L72.2 440.8 L72.4 440.2 L72.7 441.2 L73.1 437.8 L73.4 434.1 L73.7 429.8 L73.9 427.3 L74.2 430.4 L74.5 430.5 L74.9 426.8 L75.2 420.3 L75.6 421.7 L75.9 421.3 L76.3 416.7 L76.9 417.7 L77.4 414.1 L78.0 411.8 L78.4 411.5 L78.8 418.8 L79.1 419.5 L79.6 418.5 L80.0 420.5 L80.3 427.2 L80.6 428.2 L80.9 427.7 L81.3 434.5 L81.6 431.6 L81.9 431.6 L82.2 438.9 L82.5 437.5 L82.8 440.7 L83.0 441.7 L83.2 440.9 L83.4 442.2 L83.6 446.4 L83.8 452.0 L84.0 448.3 L84.2 455.5 L84.5 454.8 L84.7 453.7 L85.0 458.7 L85.2 461.4 L85.5 460.1 L85.7 459.4 L86.0 466.5 L86.3 465.5 L86.6 470.6 L86.9 467.8 L87.1 473.2 L87.4 473.7 L87.7 474.3 L88.0 478.5 L88.3 481.1 L88.6 481.5 L88.8 482.2 L89.1 486.4 L89.4 484.8 L89.7 490.4 L90.0 491.9 L90.4 495.6 L90.8 496.1 L91.2 497.0 L91.6 498.5 L92.1 499.7 L92.5 499.3 L93.1 505.3 L93.7 506.0 L94.3 506.7 L95.0 507.4 L95.5 511.6 L96.1 511.4 L96.7 510.4 L97.3 513.4 L97.9 515.6 L98.5 514.3 L99.0 515.5 L99.6 515.3 L100.1 515.8 L100.7 518.2 L101.2 520.7 L101.8 518.5 L102.5 518.8 L103.0 520.0 L103.6 519.3 L104.2 520.5 L104.8 520.9 L105.4 519.6 L106.0 519.8 L106.6 520.8 L107.3 521.8 L108.0 521.6 L108.5 522.6 L109.0 520.8 L109.6 522.4 L110.1 521.8 L110.7 522.6 L111.2 522.9 L111.8 522.2 L112.4 523.0 L113.0 522.5 L113.6 523.7 L114.3 523.2 L115.0 523.6 L115.5 524.2 L116.1 523.9 L116.7 525.1 L117.4 524.2 L118.0 525.3 L118.7 525.1 L119.4 524.5 L120.1 525.2 L120.8 525.0 L121.4 525.4 L122.1 525.6 L122.7 526.9 L123.3 525.9 L123.8 526.9 L124.3 526.5 L124.7 525.8 L125.0 525.4 L125.0 527.8 L47.0 527.8 Z"/></clipPath>
<path d="M47.0 517.8 L47.6 517.3 L48.3 515.5 L49.2 513.8 L50.0 509.6 L50.6 510.5 L51.2 509.3 L51.8 509.0 L52.5 504.0 L53.1 504.0 L53.9 502.8 L54.6 500.5 L55.3 499.0 L56.0 496.5 L56.5 491.7 L57.0 492.1 L57.5 488.7 L58.0 486.0 L58.5 487.5 L59.0 482.5 L59.8 479.7 L60.5 478.2 L61.2 475.4 L62.0 476.5 L62.8 473.8 L63.5 474.0 L64.2 470.8 L65.0 467.2 L65.6 468.4 L66.2 463.5 L66.9 461.7 L67.5 460.3 L68.0 458.8 L68.6 458.8 L69.1 453.5 L69.5 453.3 L70.0 450.5 L70.5 445.9 L71.0 443.8 L71.5 443.1 L72.0 442.3 L72.7 439.3 L73.3 437.0 L74.0 435.5 L74.4 435.5 L74.8 439.3 L75.2 438.9 L75.6 441.1 L76.0 445.9 L76.2 445.6 L76.5 449.3 L76.8 451.0 L77.0 453.5 L77.2 456.6 L77.5 457.3 L77.8 460.1 L78.0 459.7 L78.3 465.4 L78.6 466.0 L78.8 470.4 L79.1 467.2 L79.5 472.6 L80.0 476.3 L80.6 473.5 L81.2 478.3 L81.9 480.4 L82.7 481.7 L83.5 480.4 L84.3 484.2 L85.0 485.2 L85.7 484.6 L86.5 488.0 L87.2 487.6 L87.9 488.5 L88.6 488.6 L89.3 490.9 L90.0 491.2 L90.7 493.9 L91.4 494.3 L92.1 494.2 L92.7 496.2 L93.4 499.0 L94.0 498.7 L94.7 501.2 L95.4 502.9 L96.1 503.5 L96.7 502.3 L97.5 506.4 L98.2 507.3 L98.9 508.0 L99.6 507.7 L100.4 510.4 L101.2 509.5 L102.0 509.6 L102.6 510.0 L103.3 511.6 L104.0 510.5 L104.8 511.1 L105.5 514.6 L106.2 514.3 L106.9 514.4 L107.5 515.2 L108.3 515.0 L109.0 513.4 L109.8 516.7 L110.5 517.3 L111.2 517.2 L112.0 515.6 L112.6 519.0 L113.3 519.6 L114.0 518.5 L114.7 519.6 L115.4 520.6 L116.1 520.4 L116.8 521.8 L117.5 521.5 L118.2 522.3 L118.9 522.2 L119.6 521.4 L120.3 522.1 L121.0 525.3 L121.7 523.6 L122.4 524.5 L123.0 524.7 L123.9 525.4 L124.7 525.1 L125.6 524.8 L126.4 525.5 L127.0 524.7 L127.5 525.9" clip-path="url(#c60)" fill="none" stroke="#111" stroke-width="1.5" stroke-dasharray="2 1.3" stroke-linejoin="round"/>
<path d="M47.0 517.8 L47.6 517.3 L48.3 515.5 L49.2 513.8 L50.0 509.6 L50.6 510.5 L51.2 509.3 L51.8 509.0 L52.5 504.0 L53.1 504.0 L53.9 502.8 L54.6 500.5 L55.3 499.0 L56.0 496.5 L56.5 491.7 L57.0 492.1 L57.5 488.7 L58.0 486.0 L58.5 487.5 L59.0 482.5 L59.8 479.7 L60.5 478.2 L61.2 475.4 L62.0 476.5 L62.8 473.8 L63.5 474.0 L64.2 470.8 L65.0 467.2 L65.6 468.4 L66.2 463.5 L66.9 461.7 L67.5 460.3 L68.0 458.8 L68.6 458.8 L69.1 453.5 L69.5 453.3 L70.0 450.5 L70.5 445.9 L71.0 443.8 L71.5 443.1 L72.0 442.3 L72.7 439.3 L73.3 437.0 L74.0 435.5 L74.4 435.5 L74.8 439.3 L75.2 438.9 L75.6 441.1 L76.0 445.9 L76.2 445.6 L76.5 449.3 L76.8 451.0 L77.0 453.5 L77.2 456.6 L77.5 457.3 L77.8 460.1 L78.0 459.7 L78.3 465.4 L78.6 466.0 L78.8 470.4 L79.1 467.2 L79.5 472.6 L80.0 476.3 L80.6 473.5 L81.2 478.3 L81.9 480.4 L82.7 481.7 L83.5 480.4 L84.3 484.2 L85.0 485.2 L85.7 484.6 L86.5 488.0 L87.2 487.6 L87.9 488.5 L88.6 488.6 L89.3 490.9 L90.0 491.2 L90.7 493.9 L91.4 494.3 L92.1 494.2 L92.7 496.2 L93.4 499.0 L94.0 498.7 L94.7 501.2 L95.4 502.9 L96.1 503.5 L96.7 502.3 L97.5 506.4 L98.2 507.3 L98.9 508.0 L99.6 507.7 L100.4 510.4 L101.2 509.5 L102.0 509.6 L102.6 510.0 L103.3 511.6 L104.0 510.5 L104.8 511.1 L105.5 514.6 L106.2 514.3 L106.9 514.4 L107.5 515.2 L108.3 515.0 L109.0 513.4 L109.8 516.7 L110.5 517.3 L111.2 517.2 L112.0 515.6 L112.6 519.0 L113.3 519.6 L114.0 518.5 L114.7 519.6 L115.4 520.6 L116.1 520.4 L116.8 521.8 L117.5 521.5 L118.2 522.3 L118.9 522.2 L119.6 521.4 L120.3 522.1 L121.0 525.3 L121.7 523.6 L122.4 524.5 L123.0 524.7 L123.9 525.4 L124.7 525.1 L125.6 524.8 L126.4 525.5 L127.0 524.7 L127.5 525.9" fill="none" stroke="#505050" stroke-width="1.5" stroke-dasharray="1.4 1.5" stroke-linejoin="round"/>
<path d="M47.0 519.7 L47.6 515.8 L48.3 516.2 L49.2 514.9 L50.0 513.7 L50.6 509.9 L51.2 508.9 L51.8 506.0 L52.5 505.1 L53.1 505.0 L53.9 504.7 L54.6 498.4 L55.3 499.3 L56.0 495.7 L56.5 492.5 L57.0 494.3 L57.5 485.5 L58.0 487.1 L58.5 485.6 L59.0 486.7 L59.8 483.9 L60.5 482.5 L61.2 477.0 L62.0 476.5 L62.8 475.4 L63.5 472.5 L64.2 470.7 L65.0 468.0 L65.6 465.8 L66.2 462.4 L66.9 466.1 L67.5 459.7 L68.0 454.9 L68.6 457.1 L69.1 454.5 L69.5 453.0 L70.0 454.1 L70.5 448.1 L71.0 445.4 L71.5 442.1 L72.0 441.4 L72.7 437.7 L73.3 436.5 L74.0 441.9 L74.4 437.3 L74.8 436.6 L75.2 444.8 L75.6 445.5 L76.0 448.2 L76.2 449.7 L76.5 451.9 L76.8 453.7 L77.0 457.2 L77.2 458.5 L77.5 461.3 L77.8 459.9 L78.0 462.7 L78.3 463.9 L78.6 469.2 L78.8 471.2 L79.1 471.1 L79.5 474.9 L80.0 480.2 L80.6 479.4 L81.2 477.1 L81.9 480.1 L82.7 482.5 L83.5 482.7 L84.3 484.5 L85.0 486.8 L85.7 486.5 L86.5 485.3 L87.2 488.8 L87.9 488.3 L88.6 489.4 L89.3 489.3 L90.0 489.1 L90.7 490.6 L91.4 493.2 L92.1 493.6 L92.7 492.8 L93.4 499.4 L94.0 497.7 L94.7 499.8 L95.4 502.9 L96.1 500.8 L96.7 506.6 L97.5 505.4 L98.2 507.9 L98.9 507.3 L99.6 508.8 L100.4 509.2 L101.2 509.7 L102.0 508.3 L102.6 509.2 L103.3 511.2 L104.0 513.1 L104.8 511.5 L105.5 513.1 L106.2 513.1 L106.9 513.9 L107.5 514.8 L108.3 513.0 L109.0 515.3 L109.8 515.4 L110.5 515.9 L111.2 516.0 L112.0 516.7 L112.6 517.0 L113.3 517.4 L114.0 521.1 L114.7 520.9 L115.4 520.0 L116.1 521.1 L116.8 520.2 L117.5 519.3 L118.2 520.5 L118.9 522.3 L119.6 523.5 L120.3 522.8 L121.0 522.4 L121.7 523.2 L122.4 523.0 L123.0 523.0 L123.9 524.2 L124.7 524.5 L125.6 524.6 L126.4 525.0 L127.0 525.2 L127.5 526.1" fill="none" stroke="#707070" stroke-width="1.2" stroke-dasharray="1 2" stroke-linejoin="round"/>
<path d="M47.0 526.0 L47.3 525.0 L47.7 526.0 L48.1 526.1 L48.5 525.8 L48.9 525.6 L49.4 525.5 L49.9 525.7 L50.5 525.4 L51.0 525.3 L51.6 525.3 L52.2 525.9 L52.9 525.2 L53.5 525.5 L54.2 524.9 L54.9 525.0 L55.6 524.7 L56.3 525.1 L57.0 525.5 L57.8 525.3 L58.5 524.9 L59.3 525.4 L60.0 524.9 L60.5 525.2 L61.0 525.2 L61.6 525.3 L62.1 523.9 L62.6 524.4 L63.2 525.3 L63.8 524.9 L64.4 525.9 L64.9 524.8 L65.5 524.7 L66.1 525.5 L66.8 525.1 L67.4 525.7 L68.0 525.1 L68.6 524.7 L69.2 525.1 L69.9 524.4 L70.5 524.6 L71.2 524.5 L71.8 524.7 L72.4 525.1 L73.1 524.5 L73.7 524.9 L74.4 524.5 L75.0 525.1 L75.6 523.4 L76.3 524.6 L76.9 524.8 L77.5 524.2 L78.2 525.1 L78.8 524.8 L79.4 525.2 L80.0 525.1 L80.6 525.0 L81.2 524.6 L81.8 524.2 L82.5 524.6 L83.1 524.5 L83.7 524.8 L84.3 524.5 L85.0 526.1 L85.6 524.0 L86.2 525.2 L86.9 524.5 L87.5 524.6 L88.1 525.2 L88.7 524.8 L89.4 524.2 L90.0 525.0 L90.6 524.7 L91.2 523.9 L91.9 524.9 L92.5 524.4 L93.1 524.5 L93.7 525.1 L94.3 525.0 L94.9 524.8 L95.5 525.9 L96.1 525.1 L96.7 524.7 L97.2 525.1 L97.8 524.9 L98.4 524.1 L98.9 524.4 L99.5 524.4 L100.0 526.0 L100.7 525.0 L101.4 525.0 L102.1 524.9 L102.7 525.6 L103.4 525.2 L104.1 526.0 L104.7 525.6 L105.3 526.0 L106.0 525.4 L106.6 525.6 L107.2 525.3 L107.8 525.5 L108.4 524.9 L109.0 525.4 L109.6 525.3 L110.2 525.4 L110.7 526.2 L111.3 525.9 L111.9 526.3 L112.4 526.1 L112.9 526.2 L113.5 526.2 L114.0 525.6 L114.5 526.1 L115.0 525.7 L115.7 525.5 L116.4 526.2 L117.2 526.5 L117.8 525.2 L118.5 526.2 L119.2 525.8 L119.8 525.0 L120.4 525.4 L121.0 525.3 L121.6 525.2 L122.2 524.7 L122.7 524.2 L123.2 524.6 L123.7 524.9 L124.2 524.7 L124.6 524.5 L125.0 524.5 L126.1 522.7 L126.8 522.4 L127.2 521.6 L127.6 521.0 L128.0 519.5 L128.7 518.0 L129.4 515.8 L130.0 515.5 L130.7 510.2 L131.3 510.2 L132.0 510.5 L132.5 506.9 L133.0 503.4 L133.5 503.5 L134.0 499.7 L134.3 499.0 L134.6 498.4 L134.9 498.3 L135.2 495.1 L135.5 493.5 L135.7 492.1 L136.0 489.3 L136.2 486.1 L136.5 485.2 L136.7 483.9 L136.9 481.2 L137.1 478.8 L137.3 477.3 L137.5 473.8 L137.7 472.6 L137.9 472.0 L138.2 469.7 L138.4 468.4 L138.6 468.5 L138.8 465.0 L139.0 462.7 L139.2 459.1 L139.3 457.6 L139.4 458.2 L139.5 454.5 L139.7 455.0 L139.8 450.7 L140.0 450.8 L140.2 448.7 L140.4 448.7 L140.7 444.4 L140.9 442.5 L141.2 441.7 L141.5 439.4 L141.7 440.4 L142.0 434.9 L142.2 432.6 L142.5 431.1 L142.8 430.7 L143.0 428.4 L143.2 427.4 L143.5 421.5 L143.8 427.0 L144.0 423.8 L144.2 418.5 L144.4 414.5 L144.6 415.4 L144.8 414.1 L145.0 407.0 L145.2 409.7 L145.4 404.9 L145.6 407.2 L145.8 407.5 L146.0 405.2 L146.3 397.6 L146.6 401.2 L146.9 397.8 L147.1 392.9 L147.4 392.9 L147.7 393.9 L148.0 389.3 L148.3 390.4 L148.6 390.6 L149.0 396.3 L149.3 391.6 L149.6 401.7 L150.0 399.0 L150.3 404.6 L150.6 400.9 L150.9 404.1 L151.3 406.6 L151.6 411.3 L151.9 408.2 L152.2 414.5 L152.5 413.9 L152.7 419.5 L153.0 418.3 L153.2 421.7 L153.3 422.4 L153.5 428.0 L153.7 425.9 L153.8 428.4 L154.0 434.0 L154.1 432.3 L154.2 435.2 L154.3 434.3 L154.4 437.7 L154.5 435.1 L154.7 441.2 L154.8 442.0 L155.0 443.0 L155.1 444.7 L155.3 450.6 L155.5 451.2 L155.6 449.9 L155.8 457.3 L156.0 455.2 L156.2 457.7 L156.4 460.7 L156.6 460.5 L156.8 461.7 L157.0 464.9 L157.2 469.5 L157.3 470.8 L157.5 468.5 L157.8 475.1 L158.0 475.6 L158.2 478.1 L158.4 479.1 L158.6 481.2 L158.8 481.0 L159.0 482.8 L159.3 484.9 L159.5 487.2 L159.8 490.2 L160.1 489.8 L160.4 494.8 L160.7 493.9 L161.0 495.5 L161.5 499.2 L162.0 500.9 L162.5 502.0 L163.0 503.2 L163.5 505.2 L164.0 506.5 L164.5 510.7 L165.0 512.2 L165.7 514.7 L166.3 515.2 L167.0 516.6 L167.6 518.4 L168.3 519.9 L169.0 520.3 L169.5 521.2 L170.1 522.6 L170.8 520.8 L171.4 521.3 L172.0 521.9 L172.6 523.2 L173.1 523.7 L173.7 523.2 L174.3 524.0 L175.0 523.9 L175.5 524.3 L176.1 524.1 L176.7 524.5 L177.4 524.7 L178.0 525.4 L178.7 526.1 L179.4 524.5 L180.0 525.7 L180.7 525.7 L181.4 526.3 L182.1 526.5 L182.8 526.6 L183.5 526.8 L184.1 526.4 L184.6 526.3 L185.0 527.5" fill="none" stroke="#111" stroke-width="1.4" stroke-linejoin="round"/>
<path d="M44.8 363.7 V527.8 H275.3" fill="none" stroke="#0a0a0a" stroke-width="2.0"/>
<text x="189.0" y="403.9" font-family="'Liberation Serif', serif" font-size="15.3" fill="#111" stroke="#111" stroke-width="0.35">CD83</text>
</g>
<g>
<clipPath id="c69"><path d="M313.6 525.7 L314.0 525.9 L314.4 522.2 L315.0 524.7 L315.7 525.2 L316.3 522.7 L317.0 521.5 L317.7 523.1 L318.4 522.7 L319.0 522.4 L319.7 520.4 L320.3 520.6 L320.9 520.9 L321.6 521.1 L322.2 522.4 L322.8 519.5 L323.4 517.8 L324.0 514.8 L324.6 518.8 L325.2 516.3 L325.8 515.5 L326.4 513.2 L327.0 515.1 L327.5 510.0 L328.0 512.2 L328.7 510.9 L329.3 509.8 L329.8 510.4 L330.4 506.1 L331.0 504.8 L331.5 504.8 L332.0 497.9 L332.5 498.9 L333.0 497.8 L333.5 498.1 L334.0 492.0 L334.5 494.2 L334.9 491.4 L335.3 484.6 L335.7 482.8 L336.1 480.9 L336.5 483.4 L336.8 481.9 L337.1 481.7 L337.4 480.3 L337.6 474.5 L337.9 477.7 L338.2 475.2 L338.5 472.5 L338.9 470.6 L339.3 463.0 L339.8 466.5 L340.2 460.0 L340.6 457.6 L341.0 458.8 L341.4 458.5 L341.8 456.0 L342.2 453.2 L342.6 449.1 L343.0 451.7 L343.5 446.1 L344.0 441.5 L344.5 445.1 L345.0 448.6 L345.6 439.5 L346.3 435.3 L347.0 443.5 L347.5 443.9 L348.2 435.2 L348.8 434.7 L349.4 435.6 L350.0 445.9 L350.6 433.7 L351.2 436.5 L351.8 433.4 L352.3 422.5 L352.6 423.9 L352.8 421.2 L353.1 425.9 L353.3 422.2 L353.5 427.5 L353.8 417.2 L354.0 419.3 L354.2 418.9 L354.4 420.5 L354.5 431.6 L354.7 425.1 L354.9 432.4 L355.1 433.9 L355.3 428.0 L355.5 434.8 L356.0 432.6 L356.7 436.1 L357.3 437.5 L358.0 438.1 L358.6 437.0 L359.1 445.8 L359.7 439.3 L360.3 443.8 L361.0 448.5 L361.6 445.3 L362.2 447.9 L362.8 450.3 L363.5 450.2 L364.1 453.6 L364.8 442.7 L365.4 456.0 L366.0 449.3 L366.6 443.3 L367.2 447.9 L367.8 445.6 L368.4 451.3 L369.0 446.6 L369.7 449.2 L370.3 454.9 L371.0 455.4 L371.6 453.1 L372.2 456.1 L372.9 457.7 L373.5 459.1 L374.1 459.7 L374.6 459.9 L375.2 464.5 L375.8 456.9 L376.4 461.5 L377.0 464.4 L377.6 463.4 L378.2 463.7 L378.7 464.8 L379.3 467.6 L379.9 471.7 L380.5 467.7 L381.0 468.1 L381.6 471.0 L382.2 469.9 L382.8 465.3 L383.4 473.1 L383.9 471.9 L384.5 472.2 L385.2 477.1 L385.8 476.4 L386.4 475.8 L387.1 472.3 L387.7 475.0 L388.2 481.1 L388.8 481.9 L389.3 484.6 L389.9 485.2 L390.4 484.4 L391.0 483.6 L391.6 485.4 L392.2 489.3 L392.7 488.0 L393.3 494.3 L393.9 490.4 L394.4 490.6 L395.1 496.3 L395.7 494.4 L396.4 503.9 L397.0 499.8 L397.5 503.4 L398.1 504.6 L398.7 505.1 L399.2 505.0 L399.8 506.6 L400.5 513.6 L401.2 515.9 L401.8 519.5 L402.5 516.0 L403.1 520.0 L403.6 520.3 L404.2 522.1 L405.0 521.5 L405.5 523.1 L406.1 523.7 L406.8 523.8 L407.5 524.9 L408.3 523.8 L409.0 525.5 L409.6 524.0 L410.1 526.0 L410.5 523.1 L410.5 526.7 L313.6 526.7 Z"/></clipPath>
<path d="M290.7 499.2 L290.9 495.0 L291.3 496.2 L291.7 493.2 L292.1 486.6 L292.5 489.3 L293.0 484.1 L293.5 484.9 L294.0 479.8 L294.5 477.5 L295.1 474.3 L295.8 474.7 L296.4 475.2 L297.0 470.9 L297.7 467.2 L298.4 472.4 L299.0 470.2 L299.7 466.0 L300.3 461.5 L301.0 457.8 L301.7 454.8 L302.3 456.5 L303.0 455.4 L303.5 449.0 L304.0 448.9 L304.5 446.0 L305.0 443.5 L305.4 442.8 L305.8 443.4 L306.2 435.1 L306.6 435.6 L307.0 434.2 L307.4 430.4 L307.8 431.7 L308.2 432.1 L308.6 440.3 L309.0 438.9 L309.7 438.1 L310.4 437.7 L311.0 435.2 L311.4 436.4 L311.8 440.6 L312.1 446.9 L312.5 445.6 L313.1 448.6 L313.8 445.6 L314.4 444.6 L314.9 450.7 L315.3 444.2 L315.7 439.9 L316.3 439.8 L317.0 440.2 L317.3 436.6 L317.6 440.3 L317.9 444.9 L318.2 445.0 L318.5 450.5 L318.9 453.2 L319.2 454.5 L319.6 455.1 L320.0 457.9 L320.6 459.4 L321.3 462.6 L322.0 465.6 L322.6 466.4 L323.3 470.3 L324.0 475.3 L324.5 472.2 L325.0 476.1 L325.6 479.4 L326.1 481.6 L326.7 482.1 L327.4 483.4 L328.1 486.7 L328.8 487.0 L329.5 487.7 L330.2 486.8 L331.0 489.8 L331.7 491.0 L332.5 490.7 L333.2 493.0 L333.8 496.3 L334.5 492.1 L335.2 496.6 L336.0 495.5 L336.7 496.1 L337.4 498.4 L338.1 500.2 L338.9 500.4 L339.7 499.7 L340.5 500.3 L341.1 502.0 L341.8 503.5 L342.5 503.3 L343.2 503.3 L343.9 507.8 L344.6 505.6 L345.3 507.1 L346.0 507.4 L346.7 508.1 L347.5 509.5 L348.2 509.8 L348.9 511.4 L349.6 510.2 L350.3 510.6 L351.0 514.6 L351.7 513.3 L352.4 514.7 L353.1 515.7 L353.8 515.7 L354.5 515.8 L355.2 515.0 L356.0 515.6 L356.6 518.3 L357.2 518.5 L357.9 518.8 L358.5 517.4 L359.1 517.5 L359.8 518.9 L360.5 519.2 L361.2 520.7 L362.0 520.2 L362.7 522.5 L363.4 521.3 L364.3 521.8 L365.1 523.2 L366.0 523.3 L366.8 522.9 L367.6 524.3 L368.3 525.3 L369.0 523.8 L369.6 524.7 L370.0 524.4" clip-path="url(#c69)" fill="none" stroke="#111" stroke-width="1.5" stroke-dasharray="2 1.3" stroke-linejoin="round"/>
<path d="M313.6 525.7 L314.0 525.9 L314.4 522.2 L315.0 524.7 L315.7 525.2 L316.3 522.7 L317.0 521.5 L317.7 523.1 L318.4 522.7 L319.0 522.4 L319.7 520.4 L320.3 520.6 L320.9 520.9 L321.6 521.1 L322.2 522.4 L322.8 519.5 L323.4 517.8 L324.0 514.8 L324.6 518.8 L325.2 516.3 L325.8 515.5 L326.4 513.2 L327.0 515.1 L327.5 510.0 L328.0 512.2 L328.7 510.9 L329.3 509.8 L329.8 510.4 L330.4 506.1 L331.0 504.8 L331.5 504.8 L332.0 497.9 L332.5 498.9 L333.0 497.8 L333.5 498.1 L334.0 492.0 L334.5 494.2 L334.9 491.4 L335.3 484.6 L335.7 482.8 L336.1 480.9 L336.5 483.4 L336.8 481.9 L337.1 481.7 L337.4 480.3 L337.6 474.5 L337.9 477.7 L338.2 475.2 L338.5 472.5 L338.9 470.6 L339.3 463.0 L339.8 466.5 L340.2 460.0 L340.6 457.6 L341.0 458.8 L341.4 458.5 L341.8 456.0 L342.2 453.2 L342.6 449.1 L343.0 451.7 L343.5 446.1 L344.0 441.5 L344.5 445.1 L345.0 448.6 L345.6 439.5 L346.3 435.3 L347.0 443.5 L347.5 443.9 L348.2 435.2 L348.8 434.7 L349.4 435.6 L350.0 445.9 L350.6 433.7 L351.2 436.5 L351.8 433.4 L352.3 422.5 L352.6 423.9 L352.8 421.2 L353.1 425.9 L353.3 422.2 L353.5 427.5 L353.8 417.2 L354.0 419.3 L354.2 418.9 L354.4 420.5 L354.5 431.6 L354.7 425.1 L354.9 432.4 L355.1 433.9 L355.3 428.0 L355.5 434.8 L356.0 432.6 L356.7 436.1 L357.3 437.5 L358.0 438.1 L358.6 437.0 L359.1 445.8 L359.7 439.3 L360.3 443.8 L361.0 448.5 L361.6 445.3 L362.2 447.9 L362.8 450.3 L363.5 450.2 L364.1 453.6 L364.8 442.7 L365.4 456.0 L366.0 449.3 L366.6 443.3 L367.2 447.9 L367.8 445.6 L368.4 451.3 L369.0 446.6 L369.7 449.2 L370.3 454.9 L371.0 455.4 L371.6 453.1 L372.2 456.1 L372.9 457.7 L373.5 459.1 L374.1 459.7 L374.6 459.9 L375.2 464.5 L375.8 456.9 L376.4 461.5 L377.0 464.4 L377.6 463.4 L378.2 463.7 L378.7 464.8 L379.3 467.6 L379.9 471.7 L380.5 467.7 L381.0 468.1 L381.6 471.0 L382.2 469.9 L382.8 465.3 L383.4 473.1 L383.9 471.9 L384.5 472.2 L385.2 477.1 L385.8 476.4 L386.4 475.8 L387.1 472.3 L387.7 475.0 L388.2 481.1 L388.8 481.9 L389.3 484.6 L389.9 485.2 L390.4 484.4 L391.0 483.6 L391.6 485.4 L392.2 489.3 L392.7 488.0 L393.3 494.3 L393.9 490.4 L394.4 490.6 L395.1 496.3 L395.7 494.4 L396.4 503.9 L397.0 499.8 L397.5 503.4 L398.1 504.6 L398.7 505.1 L399.2 505.0 L399.8 506.6 L400.5 513.6 L401.2 515.9 L401.8 519.5 L402.5 516.0 L403.1 520.0 L403.6 520.3 L404.2 522.1 L405.0 521.5 L405.5 523.1 L406.1 523.7 L406.8 523.8 L407.5 524.9 L408.3 523.8 L409.0 525.5 L409.6 524.0 L410.1 526.0 L410.5 523.1 L410.5 526.7 L313.6 526.7 Z" fill="url(#ht)" stroke="none"/>
<path d="M313.6 525.7 L314.0 525.9 L314.4 522.2 L315.0 524.7 L315.7 525.2 L316.3 522.7 L317.0 521.5 L317.7 523.1 L318.4 522.7 L319.0 522.4 L319.7 520.4 L320.3 520.6 L320.9 520.9 L321.6 521.1 L322.2 522.4 L322.8 519.5 L323.4 517.8 L324.0 514.8 L324.6 518.8 L325.2 516.3 L325.8 515.5 L326.4 513.2 L327.0 515.1 L327.5 510.0 L328.0 512.2 L328.7 510.9 L329.3 509.8 L329.8 510.4 L330.4 506.1 L331.0 504.8 L331.5 504.8 L332.0 497.9 L332.5 498.9 L333.0 497.8 L333.5 498.1 L334.0 492.0 L334.5 494.2 L334.9 491.4 L335.3 484.6 L335.7 482.8 L336.1 480.9 L336.5 483.4 L336.8 481.9 L337.1 481.7 L337.4 480.3 L337.6 474.5 L337.9 477.7 L338.2 475.2 L338.5 472.5 L338.9 470.6 L339.3 463.0 L339.8 466.5 L340.2 460.0 L340.6 457.6 L341.0 458.8 L341.4 458.5 L341.8 456.0 L342.2 453.2 L342.6 449.1 L343.0 451.7 L343.5 446.1 L344.0 441.5 L344.5 445.1 L345.0 448.6 L345.6 439.5 L346.3 435.3 L347.0 443.5 L347.5 443.9 L348.2 435.2 L348.8 434.7 L349.4 435.6 L350.0 445.9 L350.6 433.7 L351.2 436.5 L351.8 433.4 L352.3 422.5 L352.6 423.9 L352.8 421.2 L353.1 425.9 L353.3 422.2 L353.5 427.5 L353.8 417.2 L354.0 419.3 L354.2 418.9 L354.4 420.5 L354.5 431.6 L354.7 425.1 L354.9 432.4 L355.1 433.9 L355.3 428.0 L355.5 434.8 L356.0 432.6 L356.7 436.1 L357.3 437.5 L358.0 438.1 L358.6 437.0 L359.1 445.8 L359.7 439.3 L360.3 443.8 L361.0 448.5 L361.6 445.3 L362.2 447.9 L362.8 450.3 L363.5 450.2 L364.1 453.6 L364.8 442.7 L365.4 456.0 L366.0 449.3 L366.6 443.3 L367.2 447.9 L367.8 445.6 L368.4 451.3 L369.0 446.6 L369.7 449.2 L370.3 454.9 L371.0 455.4 L371.6 453.1 L372.2 456.1 L372.9 457.7 L373.5 459.1 L374.1 459.7 L374.6 459.9 L375.2 464.5 L375.8 456.9 L376.4 461.5 L377.0 464.4 L377.6 463.4 L378.2 463.7 L378.7 464.8 L379.3 467.6 L379.9 471.7 L380.5 467.7 L381.0 468.1 L381.6 471.0 L382.2 469.9 L382.8 465.3 L383.4 473.1 L383.9 471.9 L384.5 472.2 L385.2 477.1 L385.8 476.4 L386.4 475.8 L387.1 472.3 L387.7 475.0 L388.2 481.1 L388.8 481.9 L389.3 484.6 L389.9 485.2 L390.4 484.4 L391.0 483.6 L391.6 485.4 L392.2 489.3 L392.7 488.0 L393.3 494.3 L393.9 490.4 L394.4 490.6 L395.1 496.3 L395.7 494.4 L396.4 503.9 L397.0 499.8 L397.5 503.4 L398.1 504.6 L398.7 505.1 L399.2 505.0 L399.8 506.6 L400.5 513.6 L401.2 515.9 L401.8 519.5 L402.5 516.0 L403.1 520.0 L403.6 520.3 L404.2 522.1 L405.0 521.5 L405.5 523.1 L406.1 523.7 L406.8 523.8 L407.5 524.9 L408.3 523.8 L409.0 525.5 L409.6 524.0 L410.1 526.0 L410.5 523.1" fill="none" stroke="#111" stroke-width="1.6" stroke-linejoin="round"/>
<clipPath id="c73"><path d="M313.6 525.7 L314.0 525.9 L314.4 522.2 L315.0 524.7 L315.7 525.2 L316.3 522.7 L317.0 521.5 L317.7 523.1 L318.4 522.7 L319.0 522.4 L319.7 520.4 L320.3 520.6 L320.9 520.9 L321.6 521.1 L322.2 522.4 L322.8 519.5 L323.4 517.8 L324.0 514.8 L324.6 518.8 L325.2 516.3 L325.8 515.5 L326.4 513.2 L327.0 515.1 L327.5 510.0 L328.0 512.2 L328.7 510.9 L329.3 509.8 L329.8 510.4 L330.4 506.1 L331.0 504.8 L331.5 504.8 L332.0 497.9 L332.5 498.9 L333.0 497.8 L333.5 498.1 L334.0 492.0 L334.5 494.2 L334.9 491.4 L335.3 484.6 L335.7 482.8 L336.1 480.9 L336.5 483.4 L336.8 481.9 L337.1 481.7 L337.4 480.3 L337.6 474.5 L337.9 477.7 L338.2 475.2 L338.5 472.5 L338.9 470.6 L339.3 463.0 L339.8 466.5 L340.2 460.0 L340.6 457.6 L341.0 458.8 L341.4 458.5 L341.8 456.0 L342.2 453.2 L342.6 449.1 L343.0 451.7 L343.5 446.1 L344.0 441.5 L344.5 445.1 L345.0 448.6 L345.6 439.5 L346.3 435.3 L347.0 443.5 L347.5 443.9 L348.2 435.2 L348.8 434.7 L349.4 435.6 L350.0 445.9 L350.6 433.7 L351.2 436.5 L351.8 433.4 L352.3 422.5 L352.6 423.9 L352.8 421.2 L353.1 425.9 L353.3 422.2 L353.5 427.5 L353.8 417.2 L354.0 419.3 L354.2 418.9 L354.4 420.5 L354.5 431.6 L354.7 425.1 L354.9 432.4 L355.1 433.9 L355.3 428.0 L355.5 434.8 L356.0 432.6 L356.7 436.1 L357.3 437.5 L358.0 438.1 L358.6 437.0 L359.1 445.8 L359.7 439.3 L360.3 443.8 L361.0 448.5 L361.6 445.3 L362.2 447.9 L362.8 450.3 L363.5 450.2 L364.1 453.6 L364.8 442.7 L365.4 456.0 L366.0 449.3 L366.6 443.3 L367.2 447.9 L367.8 445.6 L368.4 451.3 L369.0 446.6 L369.7 449.2 L370.3 454.9 L371.0 455.4 L371.6 453.1 L372.2 456.1 L372.9 457.7 L373.5 459.1 L374.1 459.7 L374.6 459.9 L375.2 464.5 L375.8 456.9 L376.4 461.5 L377.0 464.4 L377.6 463.4 L378.2 463.7 L378.7 464.8 L379.3 467.6 L379.9 471.7 L380.5 467.7 L381.0 468.1 L381.6 471.0 L382.2 469.9 L382.8 465.3 L383.4 473.1 L383.9 471.9 L384.5 472.2 L385.2 477.1 L385.8 476.4 L386.4 475.8 L387.1 472.3 L387.7 475.0 L388.2 481.1 L388.8 481.9 L389.3 484.6 L389.9 485.2 L390.4 484.4 L391.0 483.6 L391.6 485.4 L392.2 489.3 L392.7 488.0 L393.3 494.3 L393.9 490.4 L394.4 490.6 L395.1 496.3 L395.7 494.4 L396.4 503.9 L397.0 499.8 L397.5 503.4 L398.1 504.6 L398.7 505.1 L399.2 505.0 L399.8 506.6 L400.5 513.6 L401.2 515.9 L401.8 519.5 L402.5 516.0 L403.1 520.0 L403.6 520.3 L404.2 522.1 L405.0 521.5 L405.5 523.1 L406.1 523.7 L406.8 523.8 L407.5 524.9 L408.3 523.8 L409.0 525.5 L409.6 524.0 L410.1 526.0 L410.5 523.1 L410.5 526.7 L313.6 526.7 Z"/></clipPath>
<path d="M290.7 499.2 L290.9 495.0 L291.3 496.2 L291.7 493.2 L292.1 486.6 L292.5 489.3 L293.0 484.1 L293.5 484.9 L294.0 479.8 L294.5 477.5 L295.1 474.3 L295.8 474.7 L296.4 475.2 L297.0 470.9 L297.7 467.2 L298.4 472.4 L299.0 470.2 L299.7 466.0 L300.3 461.5 L301.0 457.8 L301.7 454.8 L302.3 456.5 L303.0 455.4 L303.5 449.0 L304.0 448.9 L304.5 446.0 L305.0 443.5 L305.4 442.8 L305.8 443.4 L306.2 435.1 L306.6 435.6 L307.0 434.2 L307.4 430.4 L307.8 431.7 L308.2 432.1 L308.6 440.3 L309.0 438.9 L309.7 438.1 L310.4 437.7 L311.0 435.2 L311.4 436.4 L311.8 440.6 L312.1 446.9 L312.5 445.6 L313.1 448.6 L313.8 445.6 L314.4 444.6 L314.9 450.7 L315.3 444.2 L315.7 439.9 L316.3 439.8 L317.0 440.2 L317.3 436.6 L317.6 440.3 L317.9 444.9 L318.2 445.0 L318.5 450.5 L318.9 453.2 L319.2 454.5 L319.6 455.1 L320.0 457.9 L320.6 459.4 L321.3 462.6 L322.0 465.6 L322.6 466.4 L323.3 470.3 L324.0 475.3 L324.5 472.2 L325.0 476.1 L325.6 479.4 L326.1 481.6 L326.7 482.1 L327.4 483.4 L328.1 486.7 L328.8 487.0 L329.5 487.7 L330.2 486.8 L331.0 489.8 L331.7 491.0 L332.5 490.7 L333.2 493.0 L333.8 496.3 L334.5 492.1 L335.2 496.6 L336.0 495.5 L336.7 496.1 L337.4 498.4 L338.1 500.2 L338.9 500.4 L339.7 499.7 L340.5 500.3 L341.1 502.0 L341.8 503.5 L342.5 503.3 L343.2 503.3 L343.9 507.8 L344.6 505.6 L345.3 507.1 L346.0 507.4 L346.7 508.1 L347.5 509.5 L348.2 509.8 L348.9 511.4 L349.6 510.2 L350.3 510.6 L351.0 514.6 L351.7 513.3 L352.4 514.7 L353.1 515.7 L353.8 515.7 L354.5 515.8 L355.2 515.0 L356.0 515.6 L356.6 518.3 L357.2 518.5 L357.9 518.8 L358.5 517.4 L359.1 517.5 L359.8 518.9 L360.5 519.2 L361.2 520.7 L362.0 520.2 L362.7 522.5 L363.4 521.3 L364.3 521.8 L365.1 523.2 L366.0 523.3 L366.8 522.9 L367.6 524.3 L368.3 525.3 L369.0 523.8 L369.6 524.7 L370.0 524.4" clip-path="url(#c73)" fill="none" stroke="#111" stroke-width="1.5" stroke-dasharray="2 1.3" stroke-linejoin="round"/>
<path d="M290.7 499.2 L290.9 495.0 L291.3 496.2 L291.7 493.2 L292.1 486.6 L292.5 489.3 L293.0 484.1 L293.5 484.9 L294.0 479.8 L294.5 477.5 L295.1 474.3 L295.8 474.7 L296.4 475.2 L297.0 470.9 L297.7 467.2 L298.4 472.4 L299.0 470.2 L299.7 466.0 L300.3 461.5 L301.0 457.8 L301.7 454.8 L302.3 456.5 L303.0 455.4 L303.5 449.0 L304.0 448.9 L304.5 446.0 L305.0 443.5 L305.4 442.8 L305.8 443.4 L306.2 435.1 L306.6 435.6 L307.0 434.2 L307.4 430.4 L307.8 431.7 L308.2 432.1 L308.6 440.3 L309.0 438.9 L309.7 438.1 L310.4 437.7 L311.0 435.2 L311.4 436.4 L311.8 440.6 L312.1 446.9 L312.5 445.6 L313.1 448.6 L313.8 445.6 L314.4 444.6 L314.9 450.7 L315.3 444.2 L315.7 439.9 L316.3 439.8 L317.0 440.2 L317.3 436.6 L317.6 440.3 L317.9 444.9 L318.2 445.0 L318.5 450.5 L318.9 453.2 L319.2 454.5 L319.6 455.1 L320.0 457.9 L320.6 459.4 L321.3 462.6 L322.0 465.6 L322.6 466.4 L323.3 470.3 L324.0 475.3 L324.5 472.2 L325.0 476.1 L325.6 479.4 L326.1 481.6 L326.7 482.1 L327.4 483.4 L328.1 486.7 L328.8 487.0 L329.5 487.7 L330.2 486.8 L331.0 489.8 L331.7 491.0 L332.5 490.7 L333.2 493.0 L333.8 496.3 L334.5 492.1 L335.2 496.6 L336.0 495.5 L336.7 496.1 L337.4 498.4 L338.1 500.2 L338.9 500.4 L339.7 499.7 L340.5 500.3 L341.1 502.0 L341.8 503.5 L342.5 503.3 L343.2 503.3 L343.9 507.8 L344.6 505.6 L345.3 507.1 L346.0 507.4 L346.7 508.1 L347.5 509.5 L348.2 509.8 L348.9 511.4 L349.6 510.2 L350.3 510.6 L351.0 514.6 L351.7 513.3 L352.4 514.7 L353.1 515.7 L353.8 515.7 L354.5 515.8 L355.2 515.0 L356.0 515.6 L356.6 518.3 L357.2 518.5 L357.9 518.8 L358.5 517.4 L359.1 517.5 L359.8 518.9 L360.5 519.2 L361.2 520.7 L362.0 520.2 L362.7 522.5 L363.4 521.3 L364.3 521.8 L365.1 523.2 L366.0 523.3 L366.8 522.9 L367.6 524.3 L368.3 525.3 L369.0 523.8 L369.6 524.7 L370.0 524.4" fill="none" stroke="#505050" stroke-width="1.5" stroke-dasharray="1.4 1.5" stroke-linejoin="round"/>
<path d="M290.7 495.1 L290.9 497.1 L291.3 495.4 L291.7 493.6 L292.1 490.7 L292.5 485.1 L293.0 485.6 L293.5 482.2 L294.0 479.0 L294.5 476.9 L295.1 478.0 L295.8 474.6 L296.4 476.7 L297.0 472.8 L297.7 467.1 L298.4 470.3 L299.0 469.2 L299.7 464.9 L300.3 460.2 L301.0 463.2 L301.7 455.3 L302.3 455.3 L303.0 449.4 L303.5 448.6 L304.0 445.6 L304.5 448.7 L305.0 446.3 L305.4 441.0 L305.8 436.4 L306.2 436.3 L306.6 434.6 L307.0 428.7 L307.4 428.5 L307.8 431.8 L308.2 436.3 L308.6 438.2 L309.0 440.9 L309.7 436.9 L310.4 432.4 L311.0 437.6 L311.4 436.7 L311.8 440.9 L312.1 443.2 L312.5 446.9 L313.1 446.1 L313.8 451.2 L314.4 448.5 L314.9 448.2 L315.3 446.2 L315.7 445.1 L316.3 440.9 L317.0 435.4 L317.3 438.8 L317.6 445.8 L317.9 445.3 L318.2 447.9 L318.5 449.9 L318.9 450.1 L319.2 452.4 L319.6 454.7 L320.0 460.1 L320.6 461.2 L321.3 466.0 L322.0 465.9 L322.6 470.2 L323.3 469.4 L324.0 469.0 L324.5 476.0 L325.0 476.1 L325.6 480.1 L326.1 480.9 L326.7 482.0 L327.4 484.4 L328.1 483.5 L328.8 484.3 L329.5 485.7 L330.2 487.2 L331.0 486.9 L331.7 489.7 L332.5 491.4 L333.2 494.9 L333.8 495.8 L334.5 494.5 L335.2 497.0 L336.0 496.7 L336.7 498.4 L337.4 498.7 L338.1 498.8 L338.9 500.4 L339.7 499.3 L340.5 502.5 L341.1 502.4 L341.8 502.2 L342.5 503.8 L343.2 505.7 L343.9 505.0 L344.6 507.1 L345.3 507.9 L346.0 509.7 L346.7 507.6 L347.5 509.3 L348.2 510.7 L348.9 512.4 L349.6 511.7 L350.3 512.8 L351.0 511.2 L351.7 512.8 L352.4 515.6 L353.1 514.3 L353.8 517.2 L354.5 515.1 L355.2 516.2 L356.0 515.6 L356.6 518.0 L357.2 518.1 L357.9 520.1 L358.5 518.9 L359.1 519.0 L359.8 518.6 L360.5 520.1 L361.2 521.3 L362.0 521.6 L362.7 522.3 L363.4 522.4 L364.3 522.2 L365.1 523.0 L366.0 523.2 L366.8 522.6 L367.6 524.9 L368.3 524.4 L369.0 523.9 L369.6 525.0 L370.0 525.2" fill="none" stroke="#707070" stroke-width="1.2" stroke-dasharray="1 2" stroke-linejoin="round"/>
<path d="M297.5 525.0 L297.8 524.5 L298.3 524.8 L298.8 525.3 L299.4 525.0 L300.0 524.5 L300.6 525.4 L301.3 523.3 L302.0 523.5 L302.7 524.8 L303.4 523.9 L304.0 522.1 L304.6 523.6 L305.2 522.3 L305.8 524.0 L306.4 523.6 L307.1 522.2 L307.7 523.3 L308.3 521.5 L308.9 522.6 L309.5 522.1 L310.0 521.3 L310.5 519.9 L311.0 520.6 L311.8 518.1 L312.4 518.9 L313.0 516.8 L313.5 519.0 L314.0 515.9 L314.5 513.3 L315.2 515.6 L315.8 514.2 L316.4 512.0 L317.1 514.1 L317.7 511.0 L318.2 508.9 L318.8 506.6 L319.3 501.8 L319.9 505.5 L320.4 504.8 L321.0 501.1 L321.6 498.4 L322.1 499.2 L322.7 495.0 L323.3 496.5 L323.8 496.5 L324.4 496.6 L325.0 492.9 L325.6 491.4 L326.2 491.1 L326.9 491.1 L327.5 486.4 L328.1 483.4 L328.7 483.1 L329.3 480.9 L329.9 480.5 L330.4 480.9 L331.0 480.7 L331.6 478.9 L332.3 477.3 L332.9 474.9 L333.4 475.3 L334.0 475.0 L334.7 473.1 L335.3 473.2 L335.9 467.6 L336.5 466.4 L337.1 470.0 L337.7 465.6 L338.3 465.5 L339.0 463.2 L339.5 466.2 L340.0 462.8 L340.6 461.3 L341.2 463.7 L342.0 462.9 L342.5 466.1 L343.0 463.2 L343.6 464.5 L344.2 463.8 L344.8 465.3 L345.5 463.0 L346.1 467.3 L346.8 461.3 L347.4 464.0 L348.0 463.3 L348.6 466.7 L349.2 465.3 L349.8 466.5 L350.4 464.6 L351.0 463.8 L351.6 462.9 L352.2 464.9 L352.8 464.5 L353.4 466.6 L354.0 466.8 L354.6 468.4 L355.2 465.9 L355.8 464.5 L356.4 463.8 L357.0 466.6 L357.6 467.4 L358.2 471.3 L358.8 467.2 L359.4 471.1 L360.0 471.4 L360.6 464.6 L361.2 470.1 L361.8 470.1 L362.4 470.7 L363.0 467.7 L363.6 470.1 L364.2 466.9 L364.8 468.0 L365.4 468.4 L366.0 472.7 L366.6 468.1 L367.2 471.0 L367.8 469.1 L368.4 467.4 L369.0 469.8 L369.6 470.9 L370.2 467.9 L370.8 471.1 L371.4 468.2 L372.0 468.0 L372.6 470.7 L373.2 469.9 L373.9 468.4 L374.5 467.2 L375.2 471.2 L375.8 471.9 L376.4 470.6 L377.0 472.2 L377.5 468.4 L378.0 472.9 L378.8 472.9 L379.4 472.2 L379.9 469.8 L380.4 471.1 L381.0 471.3 L381.6 473.7 L382.1 472.4 L382.7 472.9 L383.3 471.3 L383.9 475.7 L384.5 477.1 L385.2 474.4 L385.8 478.1 L386.4 478.6 L387.1 479.1 L387.7 477.8 L388.2 485.3 L388.8 478.9 L389.3 484.5 L389.9 484.3 L390.4 488.5 L391.0 486.7 L391.6 488.9 L392.2 491.3 L392.7 492.3 L393.3 491.9 L393.9 495.4 L394.4 496.2 L395.1 499.0 L395.7 498.1 L396.4 500.6 L397.0 501.9 L397.5 502.8 L398.1 506.0 L398.7 507.8 L399.2 510.8 L399.8 510.1 L400.5 513.1 L401.2 516.1 L401.8 516.7 L402.5 518.6 L403.1 519.9 L403.6 520.2 L404.2 520.9 L405.0 523.3 L405.5 523.0 L406.1 523.2 L406.8 522.9 L407.5 524.1 L408.3 525.1 L409.0 524.1 L409.6 524.6 L410.1 525.8 L410.5 526.2" fill="none" stroke="#111" stroke-width="1.9" stroke-linejoin="round"/>
<path d="M288.0 362.0 V526.7 H518.0" fill="none" stroke="#0a0a0a" stroke-width="1.8"/>
<text x="431.0" y="404.9" font-family="'Liberation Serif', serif" font-size="15.4" fill="#111" stroke="#111" stroke-width="0.35">CD1a</text>
</g>
<text transform="translate(14.3 324.2) rotate(-90)" font-family="'Liberation Serif', serif" font-weight="bold" font-size="19.1" letter-spacing="0.1" fill="#111">Cell number</text>
<text x="197" y="575.4" font-family="'Liberation Serif', serif" font-weight="bold" font-size="19.3" letter-spacing="0.15" fill="#111">Fluorescence intensity</text>
</svg>
</body></html>
